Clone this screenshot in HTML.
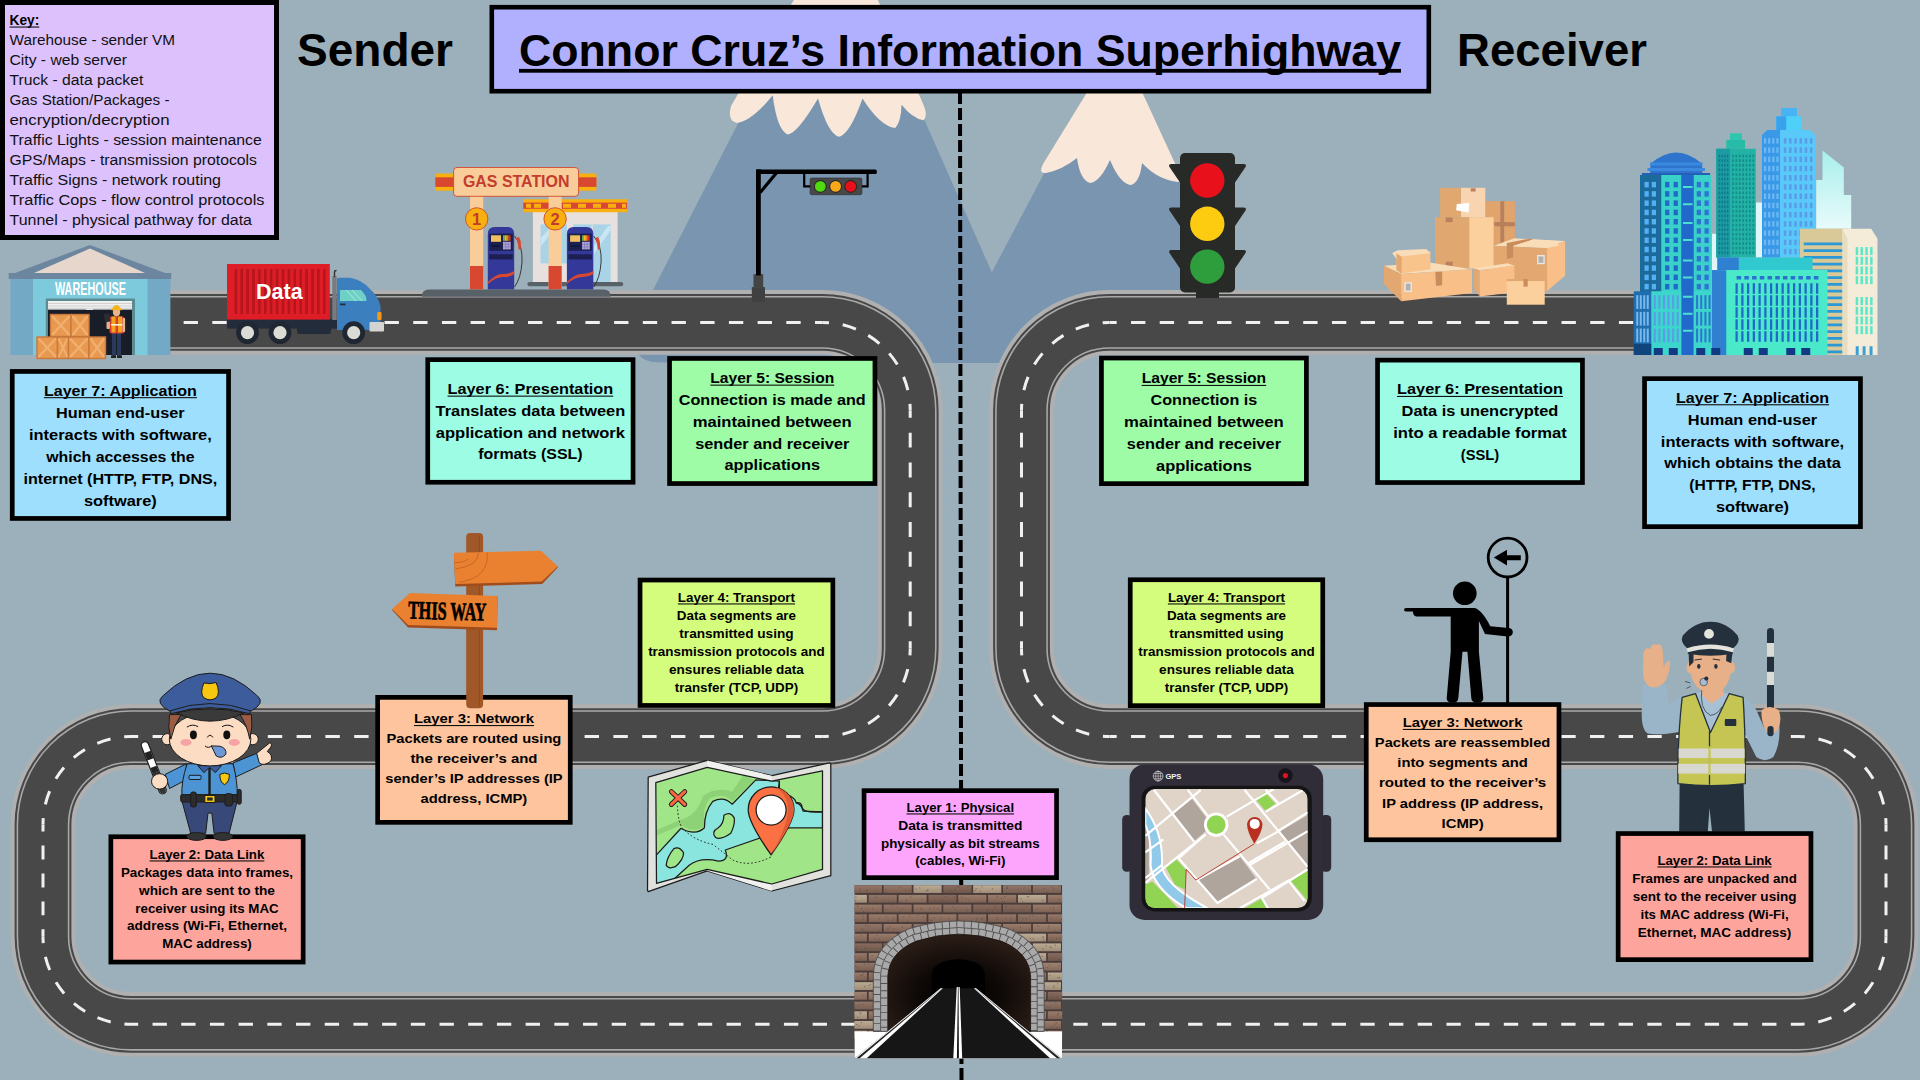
<!DOCTYPE html>
<html><head><meta charset="utf-8"><title>Information Superhighway</title>
<style>
html,body{margin:0;padding:0;background:#9bb0bb;}
body{width:1920px;height:1080px;overflow:hidden;position:relative;font-family:"Liberation Sans",sans-serif;}
svg{position:absolute;left:0;top:0;display:block}
text{font-family:"Liberation Sans",sans-serif;}
.b{font-weight:bold}
</style></head><body>
<svg width="1920" height="1080" viewBox="0 0 1920 1080">
<rect width="1920" height="1080" fill="#9bb0bb"/>
<!-- 10_mountains.frag -->
<g id="mountains">
<path d="M753,94 L801,-2 H870 L920,110 L1032,363 H680 L652,362 Q637,359 635,345 L652,292 Z" fill="#7995b0"/>
<path d="M960,340 L992,272 L1086,94 V60 H1143 V94 L1179,181 L1268,354 H960 Z" fill="#7995b0"/>
<!-- left snow -->
<path d="M795,-2 L731,106 Q727,121 737,123 Q752,121 772.7,95.3 Q777,130 787.5,134.4 Q797,134 818,98.4 Q828,134 839,136.7 Q850,134 862.5,98.4 Q880,126 895.3,128 Q901,122 901.6,104.7 Q912,118 923.4,120.3 Q928,116 924,106 L877,-2 Z" fill="#f9e7d9"/>
<!-- right snow -->
<path d="M1090,60 L1086,94 L1043,164 Q1038,174 1046,173 Q1062,170 1077,158 Q1080,180 1090,183 Q1100,182 1110,160 Q1120,184 1131,185 Q1140,182 1142,163 Q1158,180 1178,182 Q1184,180 1178,170 L1143,94 L1140,60 Z" fill="#f9e7d9"/>
</g>

<!-- 20_roads.frag -->
<g id="roads">
<path d="M170,322.4 H822.2 A88,88 0 0 1 910.2,410.4 V648.6 A88,88 0 0 1 822.2,736.6 H131 A88,88 0 0 0 43,824.6 V936.3 A88,88 0 0 0 131,1024.3 H870" fill="none" stroke="#b0b0b0" stroke-width="64.6"/>
<path d="M170,322.4 H822.2 A88,88 0 0 1 910.2,410.4 V648.6 A88,88 0 0 1 822.2,736.6 H131 A88,88 0 0 0 43,824.6 V936.3 A88,88 0 0 0 131,1024.3 H870" fill="none" stroke="#484848" stroke-width="56.8"/>
<path d="M170,322.4 H822.2 A88,88 0 0 1 910.2,410.4 V648.6 A88,88 0 0 1 822.2,736.6 H131 A88,88 0 0 0 43,824.6 V936.3 A88,88 0 0 0 131,1024.3 H870" fill="none" stroke="#a9a9a9" stroke-width="52.7"/>
<path d="M170,322.4 H822.2 A88,88 0 0 1 910.2,410.4 V648.6 A88,88 0 0 1 822.2,736.6 H131 A88,88 0 0 0 43,824.6 V936.3 A88,88 0 0 0 131,1024.3 H870" fill="none" stroke="#484848" stroke-width="49.6"/>
<path d="M1640,322.4 H1109.5 A88,88 0 0 0 1021.5,410.4 V648.6 A88,88 0 0 0 1109.5,736.6 H1798 A88,88 0 0 1 1886,824.6 V936.3 A88,88 0 0 1 1798,1024.3 H1050" fill="none" stroke="#b0b0b0" stroke-width="64.6"/>
<path d="M1640,322.4 H1109.5 A88,88 0 0 0 1021.5,410.4 V648.6 A88,88 0 0 0 1109.5,736.6 H1798 A88,88 0 0 1 1886,824.6 V936.3 A88,88 0 0 1 1798,1024.3 H1050" fill="none" stroke="#484848" stroke-width="56.8"/>
<path d="M1640,322.4 H1109.5 A88,88 0 0 0 1021.5,410.4 V648.6 A88,88 0 0 0 1109.5,736.6 H1798 A88,88 0 0 1 1886,824.6 V936.3 A88,88 0 0 1 1798,1024.3 H1050" fill="none" stroke="#a9a9a9" stroke-width="52.7"/>
<path d="M1640,322.4 H1109.5 A88,88 0 0 0 1021.5,410.4 V648.6 A88,88 0 0 0 1109.5,736.6 H1798 A88,88 0 0 1 1886,824.6 V936.3 A88,88 0 0 1 1798,1024.3 H1050" fill="none" stroke="#484848" stroke-width="49.6"/>
<path d="M822.2,322.4 L170.0,322.4" fill="none" stroke="#f0f0f0" stroke-width="3" stroke-dasharray="14.350 14.350" stroke-dashoffset="7.175"/>
<path d="M822.2,322.4 A88,88 0 0 1 910.2,410.4" fill="none" stroke="#f0f0f0" stroke-width="3" stroke-dasharray="13.823 13.823" stroke-dashoffset="6.912"/>
<path d="M910.2,410.4 L910.2,648.6" fill="none" stroke="#f0f0f0" stroke-width="3" stroke-dasharray="14.888 14.888" stroke-dashoffset="7.444"/>
<path d="M910.2,648.6 A88,88 0 0 1 822.2,736.6" fill="none" stroke="#f0f0f0" stroke-width="3" stroke-dasharray="13.823 13.823" stroke-dashoffset="6.912"/>
<path d="M822.2,736.6 L131.0,736.6" fill="none" stroke="#f0f0f0" stroke-width="3" stroke-dasharray="14.400 14.400" stroke-dashoffset="7.200"/>
<path d="M131.0,736.6 A88,88 0 0 0 43.0,824.6" fill="none" stroke="#f0f0f0" stroke-width="3" stroke-dasharray="13.823 13.823" stroke-dashoffset="6.912"/>
<path d="M43.0,824.6 L43.0,936.3" fill="none" stroke="#f0f0f0" stroke-width="3" stroke-dasharray="13.962 13.962" stroke-dashoffset="6.981"/>
<path d="M43.0,936.3 A88,88 0 0 0 131.0,1024.3" fill="none" stroke="#f0f0f0" stroke-width="3" stroke-dasharray="13.823 13.823" stroke-dashoffset="6.912"/>
<path d="M131.0,1024.3 L870.0,1024.3" fill="none" stroke="#f0f0f0" stroke-width="3" stroke-dasharray="14.350 14.350" stroke-dashoffset="7.175"/>
<path d="M1109.5,322.4 L1640.0,322.4" fill="none" stroke="#f0f0f0" stroke-width="3" stroke-dasharray="14.350 14.350" stroke-dashoffset="7.175"/>
<path d="M1109.5,322.4 A88,88 0 0 0 1021.5,410.4" fill="none" stroke="#f0f0f0" stroke-width="3" stroke-dasharray="13.823 13.823" stroke-dashoffset="6.912"/>
<path d="M1021.5,410.4 L1021.5,648.6" fill="none" stroke="#f0f0f0" stroke-width="3" stroke-dasharray="14.888 14.888" stroke-dashoffset="7.444"/>
<path d="M1021.5,648.6 A88,88 0 0 0 1109.5,736.6" fill="none" stroke="#f0f0f0" stroke-width="3" stroke-dasharray="13.823 13.823" stroke-dashoffset="6.912"/>
<path d="M1109.5,736.6 L1798.0,736.6" fill="none" stroke="#f0f0f0" stroke-width="3" stroke-dasharray="14.344 14.344" stroke-dashoffset="7.172"/>
<path d="M1798.0,736.6 A88,88 0 0 1 1886.0,824.6" fill="none" stroke="#f0f0f0" stroke-width="3" stroke-dasharray="13.823 13.823" stroke-dashoffset="6.912"/>
<path d="M1886.0,824.6 L1886.0,936.3" fill="none" stroke="#f0f0f0" stroke-width="3" stroke-dasharray="13.962 13.962" stroke-dashoffset="6.981"/>
<path d="M1886.0,936.3 A88,88 0 0 1 1798.0,1024.3" fill="none" stroke="#f0f0f0" stroke-width="3" stroke-dasharray="13.823 13.823" stroke-dashoffset="6.912"/>
<path d="M1798.0,1024.3 L1050.0,1024.3" fill="none" stroke="#f0f0f0" stroke-width="3" stroke-dasharray="14.350 14.350" stroke-dashoffset="7.175"/>
</g>
<line x1="960" y1="92" x2="961.5" y2="1084" stroke="#000" stroke-width="4" stroke-dasharray="12 4"/>

<!-- 30_warehouse_truck.frag -->
<g id="warehouse">
<!-- roof -->
<polygon points="90,245 165,273 15,273" fill="#6c86a0"/>
<polygon points="90,248.5 145,273 34,273" fill="#e6d6cc"/>
<rect x="8.7" y="273" width="162.5" height="6" fill="#6c86a0"/>
<!-- body -->
<rect x="10.4" y="279" width="160" height="76" fill="#74a9c5"/>
<rect x="33" y="279" width="114.5" height="76" fill="#7ccadc"/>
<!-- sign -->
<text x="90.5" y="295.4" font-size="17.5" font-weight="bold" fill="#fff" text-anchor="middle" textLength="71" lengthAdjust="spacingAndGlyphs">WAREHOUSE</text>
<!-- door -->
<rect x="45.8" y="298.5" width="89.2" height="56.5" fill="#5a8c90"/>
<rect x="48" y="301" width="84" height="54" fill="#191d27"/>
<rect x="48" y="301" width="84" height="8.6" fill="#f0f0f0"/>
<rect x="48" y="303" width="84" height="1" fill="#cfcfcf"/><rect x="48" y="305.5" width="84" height="1" fill="#cfcfcf"/><rect x="48" y="307.8" width="84" height="1" fill="#cfcfcf"/>
<rect x="86" y="308.6" width="7" height="1.4" fill="#e8e8e8"/>
<!-- crates -->
<g stroke="#c8783c" stroke-width="1.4" fill="#e9994f">
<rect x="50.5" y="314.5" width="20.5" height="22"/><path d="M52,316 L69.5,335 M69.5,316 L52,335" fill="none" stroke="#f0b070" stroke-width="2.2"/>
<rect x="71" y="314.5" width="18" height="22"/><path d="M72.5,316 L87.5,335 M87.5,316 L72.5,335" fill="none" stroke="#f0b070" stroke-width="2.2"/>
<rect x="37" y="337" width="20.5" height="21.5"/><path d="M38.5,338.5 L56,357 M56,338.5 L38.5,357" fill="none" stroke="#f0b070" stroke-width="2.2"/>
<rect x="57.5" y="337" width="11" height="21.5"/><path d="M58.5,338.5 L67.5,357 M67.5,338.5 L58.5,357" fill="none" stroke="#f0b070" stroke-width="2"/>
<rect x="68.5" y="337" width="20.5" height="21.5"/><path d="M70,338.5 L87.5,357 M87.5,338.5 L70,357" fill="none" stroke="#f0b070" stroke-width="2.2"/>
<rect x="89" y="337" width="16.5" height="21.5"/><path d="M90.5,338.5 L104,357 M104,338.5 L90.5,357" fill="none" stroke="#f0b070" stroke-width="2.2"/>
</g>
<!-- worker -->
<g>
<rect x="112" y="330" width="4" height="26" fill="#2a3a5c"/><rect x="117" y="330" width="4" height="26" fill="#2a3a5c"/>
<rect x="111" y="355.5" width="5" height="2.5" fill="#222"/><rect x="117" y="355.5" width="5" height="2.5" fill="#222"/>
<rect x="109.5" y="316.5" width="15" height="17" rx="2" fill="#d83c34"/>
<rect x="111.5" y="316.5" width="4" height="16" fill="#f4a41c"/><rect x="118" y="316.5" width="4" height="16" fill="#f4a41c"/>
<rect x="111" y="324" width="11.5" height="1.6" fill="#f4f0d0"/>
<rect x="122.5" y="318" width="2.6" height="14" rx="1" fill="#e8b48c"/>
<rect x="106.5" y="320" width="3.4" height="9" rx="1" fill="#e8b48c"/>
<rect x="104.5" y="313.5" width="5.5" height="8.5" rx="0.8" fill="#2c2c34" transform="rotate(-12 107 318)"/>
<ellipse cx="116.5" cy="312" rx="3.6" ry="4.4" fill="#e8b48c"/>
<path d="M111.5,309.5 Q116.5,300.5 121.5,309.5 Z" fill="#f4b41c"/><rect x="110.8" y="308.6" width="11.4" height="1.6" rx="0.8" fill="#f4b41c"/>
</g>
</g>
<g id="truck">
<!-- chassis -->
<rect x="227" y="319" width="110" height="9.6" fill="#232c3a"/>
<rect x="297" y="327" width="34" height="7" rx="2" fill="#232c3a"/>
<!-- container -->
<rect x="227" y="264" width="102.8" height="55.6" fill="#de1d26"/>
<g fill="#b5161d">
<rect x="234.5" y="269" width="2.6" height="45"/><rect x="240.4" y="269" width="2.6" height="45"/><rect x="246.3" y="269" width="2.6" height="45"/><rect x="252.2" y="269" width="2.6" height="45"/><rect x="258.1" y="269" width="2.6" height="45"/><rect x="264" y="269" width="2.6" height="45"/><rect x="269.9" y="269" width="2.6" height="45"/><rect x="275.8" y="269" width="2.6" height="45"/><rect x="281.7" y="269" width="2.6" height="45"/><rect x="287.6" y="269" width="2.6" height="45"/><rect x="293.5" y="269" width="2.6" height="45"/><rect x="299.4" y="269" width="2.6" height="45"/><rect x="305.3" y="269" width="2.6" height="45"/><rect x="311.2" y="269" width="2.6" height="45"/><rect x="317.1" y="269" width="2.6" height="45"/><rect x="323" y="269" width="2.6" height="45"/>
</g>
<text x="279.3" y="298.6" font-size="21.5" font-weight="bold" fill="#fff" text-anchor="middle">Data</text>
<!-- exhaust -->
<rect x="332.3" y="276" width="4.4" height="44" fill="#7a7a80"/><path d="M334.5,277 V272 Q334.5,270.5 336.5,270.5" stroke="#333" stroke-width="1.4" fill="none"/>
<!-- cab -->
<path d="M337,320 V279 Q337,277.7 339,277.7 H350 Q362,279.5 370,289 Q378,296 380.5,306 V323 Q380.5,330 373,330 H337 Z" fill="#3c7fbf"/>
<path d="M340,290 H361 Q367,296 366.5,301 H340 Z" fill="#6fd0c6"/>
<path d="M346,290 L356,301 M352,290 L362,301" stroke="#a8ece0" stroke-width="1" fill="none"/>
<rect x="340" y="303.5" width="5.5" height="1.8" fill="#1f2c44"/>
<rect x="377.3" y="312" width="4.2" height="8" rx="1" fill="#f39a1c"/>
<rect x="369.5" y="322" width="14.5" height="9.5" rx="1" fill="#d4d4d0"/>
<!-- wheels -->
<circle cx="247.5" cy="332.7" r="11.4" fill="#1f2733"/><circle cx="247.5" cy="332.7" r="6.6" fill="#dcdcd6"/>
<circle cx="280" cy="332.7" r="11.4" fill="#1f2733"/><circle cx="280" cy="332.7" r="6.6" fill="#dcdcd6"/>
<circle cx="353.7" cy="332.7" r="11.4" fill="#1f2733"/><circle cx="353.7" cy="332.7" r="6.6" fill="#dcdcd6"/>
</g>

<!-- 32_gas.frag -->
<g id="gas">
<!-- building -->
<rect x="532.9" y="212" width="84.7" height="70" fill="#e8e0dc"/>
<rect x="540.5" y="224.4" width="26.5" height="39" fill="#a9d4e8"/>
<path d="M541,238 L553,224.4 H558 L541,246 Z" fill="#c9e6f2"/>
<rect x="573.2" y="224.4" width="37.5" height="57.6" fill="#a9d4e8"/>
<rect x="591.5" y="224.4" width="1.2" height="57.6" fill="#e8e0dc"/>
<path d="M594,246 L608,226 H610.7 V230 L594,254 Z" fill="#c9e6f2"/>
<rect x="527.4" y="282" width="95.8" height="4.3" rx="2" fill="#586068"/>
<!-- roof stripe -->
<rect x="523.2" y="199.2" width="103.8" height="13" fill="#f8b010"/>
<rect x="523.2" y="202.6" width="103.8" height="6.2" fill="#d84830"/>
<g fill="#f8b010"><rect x="526" y="203.8" width="5" height="4"/><rect x="534" y="203.8" width="7" height="4"/><rect x="563" y="203.8" width="8" height="4"/><rect x="578" y="203.8" width="8" height="4"/><rect x="593" y="203.8" width="8" height="4"/><rect x="608" y="203.8" width="8" height="4"/><rect x="622" y="203.8" width="4" height="4"/></g>
<!-- side bars -->
<rect x="435.3" y="173.5" width="20" height="17.3" rx="1" fill="#f8b010"/><rect x="435.3" y="177.3" width="20" height="9.6" fill="#d84830"/>
<rect x="577" y="173.5" width="19.4" height="17.3" rx="1" fill="#f8b010"/><rect x="577" y="177.3" width="19.4" height="9.6" fill="#d84830"/>
<!-- pillars -->
<rect x="470" y="196" width="13.2" height="93.4" fill="#f8cd99"/><rect x="470" y="266" width="13.2" height="23.4" fill="#d84830"/>
<rect x="548.6" y="196" width="13.1" height="93.4" fill="#f8cd99"/><rect x="548.6" y="266" width="13.1" height="23.4" fill="#d84830"/>
<!-- sign -->
<rect x="453.6" y="167.5" width="125" height="28.8" rx="3.4" fill="#f8cd99" stroke="#d04830" stroke-width="0.9"/>
<text x="516.2" y="186.9" font-size="16" font-weight="bold" fill="#c43c2c" text-anchor="middle" textLength="106.5" lengthAdjust="spacingAndGlyphs">GAS STATION</text>
<!-- circles -->
<circle cx="476.7" cy="218.9" r="11.2" fill="#f8b010" stroke="#d04830" stroke-width="0.9"/>
<text x="476.7" y="224.8" font-size="16.5" font-weight="bold" fill="#c43c2c" text-anchor="middle">1</text>
<circle cx="555.1" cy="218.9" r="11.2" fill="#f8b010" stroke="#d04830" stroke-width="0.9"/>
<text x="555.1" y="224.8" font-size="16.5" font-weight="bold" fill="#c43c2c" text-anchor="middle">2</text>
<!-- pumps -->
<g>
<path d="M514.5,236 Q523,246 522,262 Q521,278 514.5,287" fill="none" stroke="#2a2a2a" stroke-width="0.9"/>
<path d="M516,238 L519,237 Q521,240 521,244 L520.6,249.5 L518.6,249.5 L518,244 Z" fill="#d84830"/>
<path d="M487.8,289.4 V234 Q487.8,227 494.8,227 H507.2 Q514.2,227 514.2,234 V289.4 Z" fill="#343899"/>
<rect x="489.2" y="233.5" width="23.6" height="17.3" fill="#1c2050"/>
<rect x="491" y="235.3" width="10" height="6.5" fill="#f0c060"/>
<rect x="491.5" y="245.5" width="9" height="1.2" fill="#0c1030"/>
<rect x="503" y="235.3" width="1.9" height="5.5" fill="#70b840"/><rect x="504.9" y="235.3" width="1.9" height="5.5" fill="#f0c020"/><rect x="506.8" y="235.3" width="1.9" height="5.5" fill="#f08020"/><rect x="508.7" y="235.3" width="1.9" height="5.5" fill="#d83020"/>
<rect x="503" y="241.8" width="7.7" height="7.6" fill="#b4a8d8"/>
<path d="M505.6,241.8 V249.4 M508.1,241.8 V249.4 M503,244.3 H510.7 M503,246.9 H510.7" stroke="#6a60a8" stroke-width="0.5"/>
<rect x="489.2" y="254.3" width="23.6" height="5.1" fill="#1c2050"/>
<path d="M487.8,282 Q497,273 503,274 Q509,274 514.2,271 V274 Q509,277.5 503,277 Q496,277 487.8,284 Z" fill="#d84830"/>
</g>
<g transform="translate(79.1,0)">
<path d="M514.5,236 Q523,246 522,262 Q521,278 514.5,287" fill="none" stroke="#2a2a2a" stroke-width="0.9"/>
<path d="M516,238 L519,237 Q521,240 521,244 L520.6,249.5 L518.6,249.5 L518,244 Z" fill="#d84830"/>
<path d="M487.8,289.4 V234 Q487.8,227 494.8,227 H507.2 Q514.2,227 514.2,234 V289.4 Z" fill="#343899"/>
<rect x="489.2" y="233.5" width="23.6" height="17.3" fill="#1c2050"/>
<rect x="491" y="235.3" width="10" height="6.5" fill="#f0c060"/>
<rect x="491.5" y="245.5" width="9" height="1.2" fill="#0c1030"/>
<rect x="503" y="235.3" width="1.9" height="5.5" fill="#70b840"/><rect x="504.9" y="235.3" width="1.9" height="5.5" fill="#f0c020"/><rect x="506.8" y="235.3" width="1.9" height="5.5" fill="#f08020"/><rect x="508.7" y="235.3" width="1.9" height="5.5" fill="#d83020"/>
<rect x="503" y="241.8" width="7.7" height="7.6" fill="#b4a8d8"/>
<path d="M505.6,241.8 V249.4 M508.1,241.8 V249.4 M503,244.3 H510.7 M503,246.9 H510.7" stroke="#6a60a8" stroke-width="0.5"/>
<rect x="489.2" y="254.3" width="23.6" height="5.1" fill="#1c2050"/>
<path d="M487.8,282 Q497,273 503,274 Q509,274 514.2,271 V274 Q509,277.5 503,277 Q496,277 487.8,284 Z" fill="#d84830"/>
</g>
<!-- platform -->
<path d="M421.8,296.7 Q421.8,289.4 429,289.4 H603.5 Q610.7,289.4 610.7,296.7 Z" fill="#586068"/>
</g>
<g id="tl-sender">
<rect x="751.8" y="287.1" width="13.2" height="14.6" fill="#404040"/>
<rect x="753.5" y="274.2" width="9.7" height="13" fill="#444"/>
<rect x="756" y="169.4" width="4.8" height="106" fill="#000"/>
<rect x="756" y="169.4" width="120.8" height="4.5" rx="1.5" fill="#000"/>
<path d="M760.1,192.6 L776.8,172.5" stroke="#000" stroke-width="3.2"/>
<path d="M804.2,173 V186.3 H811 M867.6,173 V186.3 H861" stroke="#000" stroke-width="2.2" fill="none"/>
<rect x="810.1" y="178" width="51.8" height="16.7" rx="1.6" fill="#484848" stroke="#2a2a2a" stroke-width="0.6"/>
<circle cx="820.3" cy="186.4" r="6.3" fill="#222"/><circle cx="820.3" cy="186.4" r="5.4" fill="#50d810"/>
<circle cx="835.6" cy="186.4" r="6.3" fill="#222"/><circle cx="835.6" cy="186.4" r="5.4" fill="#f8a818"/>
<circle cx="850.7" cy="186.4" r="6.3" fill="#222"/><circle cx="850.7" cy="186.4" r="5.4" fill="#e8101a"/>
</g>
<g id="tl-receiver">
<rect x="1196" y="290" width="23" height="8" fill="#282a28"/>
<g fill="#282a28">
<path d="M1181,164 H1171.5 Q1168,164 1169.5,167 L1181,184 Z"/><path d="M1181,207.5 H1171.5 Q1168,207.5 1169.5,210.5 L1181,227.5 Z"/><path d="M1181,250 H1171.5 Q1168,250 1169.5,253 L1181,270 Z"/>
<path d="M1234,164 H1243.5 Q1247,164 1245.5,167 L1234,184 Z"/><path d="M1234,207.5 H1243.5 Q1247,207.5 1245.5,210.5 L1234,227.5 Z"/><path d="M1234,250 H1243.5 Q1247,250 1245.5,253 L1234,270 Z"/>
</g>
<rect x="1180" y="153" width="55" height="139.5" rx="5" fill="#282a28"/>
<circle cx="1207.3" cy="180.5" r="17.2" fill="#e8101a"/>
<circle cx="1207.3" cy="223.8" r="17.2" fill="#fdcb10"/>
<circle cx="1207.3" cy="266.6" r="17.2" fill="#2e9e3c"/>
</g>

<!-- 34_packages.frag -->
<g id="packages">
<rect x="1486.0" y="201.2" width="28.9" height="43.8" fill="#e0a46c" />
<rect x="1500.3" y="201.2" width="3.9" height="43.8" fill="#b9805e" />
<rect x="1494.3" y="222.1" width="20.6" height="4.2" fill="#b9805e" />
<polygon points="1493.6,245.7 1514.4,238.3 1565.1,241.1 1547.1,248.1" fill="#f9dcb8"/>
<polygon points="1493.6,245.7 1547.1,248.1 1547.1,291.1 1493.6,281.1" fill="#e3a871"/>
<polygon points="1547.1,248.1 1565.1,241.1 1565.1,275.8 1547.1,291.1" fill="#f8c088"/>
<polygon points="1506.8,242.9 1529.0,238.8 1533.2,239.4 1513.1,246.1 1513.1,257.5 1506.8,258.9" fill="#c98c5c"/>
<polygon points="1513.1,246.1 1533.2,239.4 1556.1,241.1 1558.9,245.7 1547.1,248.1" fill="#f9dcb8"/>
<rect x="1537.1" y="255.0" width="7.6" height="9.2" fill="#e8e8e8" />
<rect x="1538.5" y="256.4" width="4.9" height="6.4" fill="#b0b0b0" />
<rect x="1440.1" y="187.8" width="20.8" height="29.4" fill="#e0a870" />
<rect x="1461.0" y="187.8" width="24.3" height="29.4" fill="#f8d4b0" />
<polygon points="1456.8,204.0 1469.3,203.1 1468.6,212.4 1456.1,210.3" fill="#fff"/>
<rect x="1470.7" y="188.3" width="4.9" height="3.2" fill="#b9805e" />
<rect x="1435.0" y="217.2" width="34.3" height="51.4" fill="#e0a870" />
<rect x="1469.3" y="217.2" width="24.3" height="51.4" fill="#fcd09c" />
<rect x="1445.7" y="217.5" width="6.9" height="4.6" fill="#b9805e" />
<rect x="1445.7" y="261.7" width="6.9" height="4.9" fill="#b9805e" />
<polygon points="1383.9,265.8 1431.1,262.8 1472.1,269.3 1401.2,273.9" fill="#f9dcb8"/>
<polygon points="1383.9,265.8 1401.2,273.9 1401.2,301.2 1383.9,283.9" fill="#e3a871"/>
<polygon points="1401.2,273.9 1472.1,269.3 1472.1,292.9 1401.2,301.2" fill="#f8c088"/>
<polygon points="1435.3,272.1 1442.2,271.7 1442.2,285.3 1436.0,286.0" fill="#c98c5c"/>
<rect x="1404.4" y="282.2" width="7.5" height="9.7" fill="#e8e8e8" />
<rect x="1405.8" y="283.6" width="4.7" height="6.9" fill="#b0b0b0" />
<polygon points="1396.4,253.3 1430.4,251.2 1430.4,269.3 1401.7,273.5 1396.4,270.0" fill="#f8c48c"/>
<polygon points="1392.2,253.1 1397.8,250.3 1426.2,248.9 1430.4,253.3 1401.2,256.4 1396.4,258.9" fill="#f9dcb8"/>
<polygon points="1396.4,253.3 1401.7,256.8 1401.7,273.5 1396.4,270.0" fill="#e3a871"/>
<polygon points="1473.5,268.6 1507.5,263.3 1514.4,265.8 1479.7,270.3" fill="#f9dcb8"/>
<polygon points="1473.5,268.6 1479.7,270.3 1479.7,296.4 1473.5,288.1" fill="#e3a871"/>
<polygon points="1479.7,270.3 1514.4,265.8 1514.4,292.2 1479.7,296.4" fill="#f8c088"/>
<rect x="1506.8" y="279.0" width="37.9" height="25.7" fill="#fcd09c" />
<rect x="1506.8" y="279.0" width="37.9" height="2.1" fill="#e3a871" />
<rect x="1523.5" y="279.0" width="4.2" height="7.6" fill="#c98c5c" />
</g>

<!-- 36_city.frag -->
<g id="city">
<defs><linearGradient id="ghost" x1="0" y1="0" x2="0" y2="1"><stop offset="0" stop-color="#a8efec"/><stop offset="1" stop-color="#e8fbfb"/></linearGradient></defs>
<polygon points="1822.5,150.5 1843.8,167.5 1843.8,195.0 1851.2,195.0 1851.2,228.8 1816.2,228.8 1816.2,180.0 1822.5,180.0" fill="url(#ghost)" />
<rect x="1712.00" y="233.75" width="5.00" height="36.25" fill="#dff5f8" />
<rect x="1755.75" y="202.50" width="6.75" height="55.00" fill="#dff5f8" />
<rect x="1730.00" y="133.25" width="12.00" height="8.00" fill="#2fc6b0" />
<rect x="1726.25" y="140.00" width="18.75" height="8.75" fill="#28bca8" />
<rect x="1716.25" y="148.75" width="39.50" height="108.75" fill="#23b3a4" />
<rect x="1716.25" y="148.75" width="13.75" height="108.75" fill="#1c9ca2" />
<g fill="#14788c"><rect x="1718.62" y="154.68" width="1.50" height="2.75"/><rect x="1718.62" y="159.28" width="1.50" height="2.75"/><rect x="1718.62" y="163.88" width="1.50" height="2.75"/><rect x="1718.62" y="168.48" width="1.50" height="2.75"/><rect x="1718.62" y="173.09" width="1.50" height="2.75"/><rect x="1718.62" y="177.69" width="1.50" height="2.75"/><rect x="1718.62" y="182.29" width="1.50" height="2.75"/><rect x="1718.62" y="186.89" width="1.50" height="2.75"/><rect x="1718.62" y="191.49" width="1.50" height="2.75"/><rect x="1718.62" y="196.10" width="1.50" height="2.75"/><rect x="1718.62" y="200.70" width="1.50" height="2.75"/><rect x="1718.62" y="205.30" width="1.50" height="2.75"/><rect x="1718.62" y="209.90" width="1.50" height="2.75"/><rect x="1718.62" y="214.51" width="1.50" height="2.75"/><rect x="1718.62" y="219.11" width="1.50" height="2.75"/><rect x="1718.62" y="223.71" width="1.50" height="2.75"/><rect x="1718.62" y="228.31" width="1.50" height="2.75"/><rect x="1718.62" y="232.91" width="1.50" height="2.75"/><rect x="1718.62" y="237.52" width="1.50" height="2.75"/><rect x="1718.62" y="242.12" width="1.50" height="2.75"/><rect x="1718.62" y="246.72" width="1.50" height="2.75"/><rect x="1718.62" y="251.32" width="1.50" height="2.75"/><rect x="1721.38" y="154.68" width="1.50" height="2.75"/><rect x="1721.38" y="159.28" width="1.50" height="2.75"/><rect x="1721.38" y="163.88" width="1.50" height="2.75"/><rect x="1721.38" y="168.48" width="1.50" height="2.75"/><rect x="1721.38" y="173.09" width="1.50" height="2.75"/><rect x="1721.38" y="177.69" width="1.50" height="2.75"/><rect x="1721.38" y="182.29" width="1.50" height="2.75"/><rect x="1721.38" y="186.89" width="1.50" height="2.75"/><rect x="1721.38" y="191.49" width="1.50" height="2.75"/><rect x="1721.38" y="196.10" width="1.50" height="2.75"/><rect x="1721.38" y="200.70" width="1.50" height="2.75"/><rect x="1721.38" y="205.30" width="1.50" height="2.75"/><rect x="1721.38" y="209.90" width="1.50" height="2.75"/><rect x="1721.38" y="214.51" width="1.50" height="2.75"/><rect x="1721.38" y="219.11" width="1.50" height="2.75"/><rect x="1721.38" y="223.71" width="1.50" height="2.75"/><rect x="1721.38" y="228.31" width="1.50" height="2.75"/><rect x="1721.38" y="232.91" width="1.50" height="2.75"/><rect x="1721.38" y="237.52" width="1.50" height="2.75"/><rect x="1721.38" y="242.12" width="1.50" height="2.75"/><rect x="1721.38" y="246.72" width="1.50" height="2.75"/><rect x="1721.38" y="251.32" width="1.50" height="2.75"/><rect x="1724.12" y="154.68" width="1.50" height="2.75"/><rect x="1724.12" y="159.28" width="1.50" height="2.75"/><rect x="1724.12" y="163.88" width="1.50" height="2.75"/><rect x="1724.12" y="168.48" width="1.50" height="2.75"/><rect x="1724.12" y="173.09" width="1.50" height="2.75"/><rect x="1724.12" y="177.69" width="1.50" height="2.75"/><rect x="1724.12" y="182.29" width="1.50" height="2.75"/><rect x="1724.12" y="186.89" width="1.50" height="2.75"/><rect x="1724.12" y="191.49" width="1.50" height="2.75"/><rect x="1724.12" y="196.10" width="1.50" height="2.75"/><rect x="1724.12" y="200.70" width="1.50" height="2.75"/><rect x="1724.12" y="205.30" width="1.50" height="2.75"/><rect x="1724.12" y="209.90" width="1.50" height="2.75"/><rect x="1724.12" y="214.51" width="1.50" height="2.75"/><rect x="1724.12" y="219.11" width="1.50" height="2.75"/><rect x="1724.12" y="223.71" width="1.50" height="2.75"/><rect x="1724.12" y="228.31" width="1.50" height="2.75"/><rect x="1724.12" y="232.91" width="1.50" height="2.75"/><rect x="1724.12" y="237.52" width="1.50" height="2.75"/><rect x="1724.12" y="242.12" width="1.50" height="2.75"/><rect x="1724.12" y="246.72" width="1.50" height="2.75"/><rect x="1724.12" y="251.32" width="1.50" height="2.75"/><rect x="1726.88" y="154.68" width="1.50" height="2.75"/><rect x="1726.88" y="159.28" width="1.50" height="2.75"/><rect x="1726.88" y="163.88" width="1.50" height="2.75"/><rect x="1726.88" y="168.48" width="1.50" height="2.75"/><rect x="1726.88" y="173.09" width="1.50" height="2.75"/><rect x="1726.88" y="177.69" width="1.50" height="2.75"/><rect x="1726.88" y="182.29" width="1.50" height="2.75"/><rect x="1726.88" y="186.89" width="1.50" height="2.75"/><rect x="1726.88" y="191.49" width="1.50" height="2.75"/><rect x="1726.88" y="196.10" width="1.50" height="2.75"/><rect x="1726.88" y="200.70" width="1.50" height="2.75"/><rect x="1726.88" y="205.30" width="1.50" height="2.75"/><rect x="1726.88" y="209.90" width="1.50" height="2.75"/><rect x="1726.88" y="214.51" width="1.50" height="2.75"/><rect x="1726.88" y="219.11" width="1.50" height="2.75"/><rect x="1726.88" y="223.71" width="1.50" height="2.75"/><rect x="1726.88" y="228.31" width="1.50" height="2.75"/><rect x="1726.88" y="232.91" width="1.50" height="2.75"/><rect x="1726.88" y="237.52" width="1.50" height="2.75"/><rect x="1726.88" y="242.12" width="1.50" height="2.75"/><rect x="1726.88" y="246.72" width="1.50" height="2.75"/><rect x="1726.88" y="251.32" width="1.50" height="2.75"/></g>
<g fill="#158c90"><rect x="1732.07" y="154.68" width="1.75" height="2.75"/><rect x="1732.07" y="159.28" width="1.75" height="2.75"/><rect x="1732.07" y="163.88" width="1.75" height="2.75"/><rect x="1732.07" y="168.48" width="1.75" height="2.75"/><rect x="1732.07" y="173.09" width="1.75" height="2.75"/><rect x="1732.07" y="177.69" width="1.75" height="2.75"/><rect x="1732.07" y="182.29" width="1.75" height="2.75"/><rect x="1732.07" y="186.89" width="1.75" height="2.75"/><rect x="1732.07" y="191.49" width="1.75" height="2.75"/><rect x="1732.07" y="196.10" width="1.75" height="2.75"/><rect x="1732.07" y="200.70" width="1.75" height="2.75"/><rect x="1732.07" y="205.30" width="1.75" height="2.75"/><rect x="1732.07" y="209.90" width="1.75" height="2.75"/><rect x="1732.07" y="214.51" width="1.75" height="2.75"/><rect x="1732.07" y="219.11" width="1.75" height="2.75"/><rect x="1732.07" y="223.71" width="1.75" height="2.75"/><rect x="1732.07" y="228.31" width="1.75" height="2.75"/><rect x="1732.07" y="232.91" width="1.75" height="2.75"/><rect x="1732.07" y="237.52" width="1.75" height="2.75"/><rect x="1732.07" y="242.12" width="1.75" height="2.75"/><rect x="1732.07" y="246.72" width="1.75" height="2.75"/><rect x="1732.07" y="251.32" width="1.75" height="2.75"/><rect x="1735.46" y="154.68" width="1.75" height="2.75"/><rect x="1735.46" y="159.28" width="1.75" height="2.75"/><rect x="1735.46" y="163.88" width="1.75" height="2.75"/><rect x="1735.46" y="168.48" width="1.75" height="2.75"/><rect x="1735.46" y="173.09" width="1.75" height="2.75"/><rect x="1735.46" y="177.69" width="1.75" height="2.75"/><rect x="1735.46" y="182.29" width="1.75" height="2.75"/><rect x="1735.46" y="186.89" width="1.75" height="2.75"/><rect x="1735.46" y="191.49" width="1.75" height="2.75"/><rect x="1735.46" y="196.10" width="1.75" height="2.75"/><rect x="1735.46" y="200.70" width="1.75" height="2.75"/><rect x="1735.46" y="205.30" width="1.75" height="2.75"/><rect x="1735.46" y="209.90" width="1.75" height="2.75"/><rect x="1735.46" y="214.51" width="1.75" height="2.75"/><rect x="1735.46" y="219.11" width="1.75" height="2.75"/><rect x="1735.46" y="223.71" width="1.75" height="2.75"/><rect x="1735.46" y="228.31" width="1.75" height="2.75"/><rect x="1735.46" y="232.91" width="1.75" height="2.75"/><rect x="1735.46" y="237.52" width="1.75" height="2.75"/><rect x="1735.46" y="242.12" width="1.75" height="2.75"/><rect x="1735.46" y="246.72" width="1.75" height="2.75"/><rect x="1735.46" y="251.32" width="1.75" height="2.75"/><rect x="1738.86" y="154.68" width="1.75" height="2.75"/><rect x="1738.86" y="159.28" width="1.75" height="2.75"/><rect x="1738.86" y="163.88" width="1.75" height="2.75"/><rect x="1738.86" y="168.48" width="1.75" height="2.75"/><rect x="1738.86" y="173.09" width="1.75" height="2.75"/><rect x="1738.86" y="177.69" width="1.75" height="2.75"/><rect x="1738.86" y="182.29" width="1.75" height="2.75"/><rect x="1738.86" y="186.89" width="1.75" height="2.75"/><rect x="1738.86" y="191.49" width="1.75" height="2.75"/><rect x="1738.86" y="196.10" width="1.75" height="2.75"/><rect x="1738.86" y="200.70" width="1.75" height="2.75"/><rect x="1738.86" y="205.30" width="1.75" height="2.75"/><rect x="1738.86" y="209.90" width="1.75" height="2.75"/><rect x="1738.86" y="214.51" width="1.75" height="2.75"/><rect x="1738.86" y="219.11" width="1.75" height="2.75"/><rect x="1738.86" y="223.71" width="1.75" height="2.75"/><rect x="1738.86" y="228.31" width="1.75" height="2.75"/><rect x="1738.86" y="232.91" width="1.75" height="2.75"/><rect x="1738.86" y="237.52" width="1.75" height="2.75"/><rect x="1738.86" y="242.12" width="1.75" height="2.75"/><rect x="1738.86" y="246.72" width="1.75" height="2.75"/><rect x="1738.86" y="251.32" width="1.75" height="2.75"/><rect x="1742.25" y="154.68" width="1.75" height="2.75"/><rect x="1742.25" y="159.28" width="1.75" height="2.75"/><rect x="1742.25" y="163.88" width="1.75" height="2.75"/><rect x="1742.25" y="168.48" width="1.75" height="2.75"/><rect x="1742.25" y="173.09" width="1.75" height="2.75"/><rect x="1742.25" y="177.69" width="1.75" height="2.75"/><rect x="1742.25" y="182.29" width="1.75" height="2.75"/><rect x="1742.25" y="186.89" width="1.75" height="2.75"/><rect x="1742.25" y="191.49" width="1.75" height="2.75"/><rect x="1742.25" y="196.10" width="1.75" height="2.75"/><rect x="1742.25" y="200.70" width="1.75" height="2.75"/><rect x="1742.25" y="205.30" width="1.75" height="2.75"/><rect x="1742.25" y="209.90" width="1.75" height="2.75"/><rect x="1742.25" y="214.51" width="1.75" height="2.75"/><rect x="1742.25" y="219.11" width="1.75" height="2.75"/><rect x="1742.25" y="223.71" width="1.75" height="2.75"/><rect x="1742.25" y="228.31" width="1.75" height="2.75"/><rect x="1742.25" y="232.91" width="1.75" height="2.75"/><rect x="1742.25" y="237.52" width="1.75" height="2.75"/><rect x="1742.25" y="242.12" width="1.75" height="2.75"/><rect x="1742.25" y="246.72" width="1.75" height="2.75"/><rect x="1742.25" y="251.32" width="1.75" height="2.75"/><rect x="1745.64" y="154.68" width="1.75" height="2.75"/><rect x="1745.64" y="159.28" width="1.75" height="2.75"/><rect x="1745.64" y="163.88" width="1.75" height="2.75"/><rect x="1745.64" y="168.48" width="1.75" height="2.75"/><rect x="1745.64" y="173.09" width="1.75" height="2.75"/><rect x="1745.64" y="177.69" width="1.75" height="2.75"/><rect x="1745.64" y="182.29" width="1.75" height="2.75"/><rect x="1745.64" y="186.89" width="1.75" height="2.75"/><rect x="1745.64" y="191.49" width="1.75" height="2.75"/><rect x="1745.64" y="196.10" width="1.75" height="2.75"/><rect x="1745.64" y="200.70" width="1.75" height="2.75"/><rect x="1745.64" y="205.30" width="1.75" height="2.75"/><rect x="1745.64" y="209.90" width="1.75" height="2.75"/><rect x="1745.64" y="214.51" width="1.75" height="2.75"/><rect x="1745.64" y="219.11" width="1.75" height="2.75"/><rect x="1745.64" y="223.71" width="1.75" height="2.75"/><rect x="1745.64" y="228.31" width="1.75" height="2.75"/><rect x="1745.64" y="232.91" width="1.75" height="2.75"/><rect x="1745.64" y="237.52" width="1.75" height="2.75"/><rect x="1745.64" y="242.12" width="1.75" height="2.75"/><rect x="1745.64" y="246.72" width="1.75" height="2.75"/><rect x="1745.64" y="251.32" width="1.75" height="2.75"/><rect x="1749.04" y="154.68" width="1.75" height="2.75"/><rect x="1749.04" y="159.28" width="1.75" height="2.75"/><rect x="1749.04" y="163.88" width="1.75" height="2.75"/><rect x="1749.04" y="168.48" width="1.75" height="2.75"/><rect x="1749.04" y="173.09" width="1.75" height="2.75"/><rect x="1749.04" y="177.69" width="1.75" height="2.75"/><rect x="1749.04" y="182.29" width="1.75" height="2.75"/><rect x="1749.04" y="186.89" width="1.75" height="2.75"/><rect x="1749.04" y="191.49" width="1.75" height="2.75"/><rect x="1749.04" y="196.10" width="1.75" height="2.75"/><rect x="1749.04" y="200.70" width="1.75" height="2.75"/><rect x="1749.04" y="205.30" width="1.75" height="2.75"/><rect x="1749.04" y="209.90" width="1.75" height="2.75"/><rect x="1749.04" y="214.51" width="1.75" height="2.75"/><rect x="1749.04" y="219.11" width="1.75" height="2.75"/><rect x="1749.04" y="223.71" width="1.75" height="2.75"/><rect x="1749.04" y="228.31" width="1.75" height="2.75"/><rect x="1749.04" y="232.91" width="1.75" height="2.75"/><rect x="1749.04" y="237.52" width="1.75" height="2.75"/><rect x="1749.04" y="242.12" width="1.75" height="2.75"/><rect x="1749.04" y="246.72" width="1.75" height="2.75"/><rect x="1749.04" y="251.32" width="1.75" height="2.75"/><rect x="1752.43" y="154.68" width="1.75" height="2.75"/><rect x="1752.43" y="159.28" width="1.75" height="2.75"/><rect x="1752.43" y="163.88" width="1.75" height="2.75"/><rect x="1752.43" y="168.48" width="1.75" height="2.75"/><rect x="1752.43" y="173.09" width="1.75" height="2.75"/><rect x="1752.43" y="177.69" width="1.75" height="2.75"/><rect x="1752.43" y="182.29" width="1.75" height="2.75"/><rect x="1752.43" y="186.89" width="1.75" height="2.75"/><rect x="1752.43" y="191.49" width="1.75" height="2.75"/><rect x="1752.43" y="196.10" width="1.75" height="2.75"/><rect x="1752.43" y="200.70" width="1.75" height="2.75"/><rect x="1752.43" y="205.30" width="1.75" height="2.75"/><rect x="1752.43" y="209.90" width="1.75" height="2.75"/><rect x="1752.43" y="214.51" width="1.75" height="2.75"/><rect x="1752.43" y="219.11" width="1.75" height="2.75"/><rect x="1752.43" y="223.71" width="1.75" height="2.75"/><rect x="1752.43" y="228.31" width="1.75" height="2.75"/><rect x="1752.43" y="232.91" width="1.75" height="2.75"/><rect x="1752.43" y="237.52" width="1.75" height="2.75"/><rect x="1752.43" y="242.12" width="1.75" height="2.75"/><rect x="1752.43" y="246.72" width="1.75" height="2.75"/><rect x="1752.43" y="251.32" width="1.75" height="2.75"/></g>
<rect x="1781.25" y="108.00" width="15.75" height="9.00" fill="#46b4f4" />
<rect x="1776.25" y="116.25" width="25.00" height="13.75" fill="#4fd0f8" />
<rect x="1776.25" y="116.25" width="10.00" height="13.75" fill="#3aa2ec" />
<polygon points="1762.0,135.0 1767.5,130.0 1810.0,130.0 1815.0,135.0 1815.0,257.5 1762.0,257.5" fill="#59c9f9" />
<polygon points="1762.0,135.0 1767.5,130.0 1780.0,130.0 1780.0,257.5 1762.0,257.5" fill="#3a98e8" />
<g fill="#6cb8f4"><rect x="1763.94" y="138.12" width="2.25" height="5.50"/><rect x="1763.94" y="147.35" width="2.25" height="5.50"/><rect x="1763.94" y="156.58" width="2.25" height="5.50"/><rect x="1763.94" y="165.81" width="2.25" height="5.50"/><rect x="1763.94" y="175.04" width="2.25" height="5.50"/><rect x="1763.94" y="184.27" width="2.25" height="5.50"/><rect x="1763.94" y="193.50" width="2.25" height="5.50"/><rect x="1763.94" y="202.73" width="2.25" height="5.50"/><rect x="1763.94" y="211.96" width="2.25" height="5.50"/><rect x="1763.94" y="221.19" width="2.25" height="5.50"/><rect x="1763.94" y="230.42" width="2.25" height="5.50"/><rect x="1763.94" y="239.65" width="2.25" height="5.50"/><rect x="1763.94" y="248.88" width="2.25" height="5.50"/><rect x="1768.06" y="138.12" width="2.25" height="5.50"/><rect x="1768.06" y="147.35" width="2.25" height="5.50"/><rect x="1768.06" y="156.58" width="2.25" height="5.50"/><rect x="1768.06" y="165.81" width="2.25" height="5.50"/><rect x="1768.06" y="175.04" width="2.25" height="5.50"/><rect x="1768.06" y="184.27" width="2.25" height="5.50"/><rect x="1768.06" y="193.50" width="2.25" height="5.50"/><rect x="1768.06" y="202.73" width="2.25" height="5.50"/><rect x="1768.06" y="211.96" width="2.25" height="5.50"/><rect x="1768.06" y="221.19" width="2.25" height="5.50"/><rect x="1768.06" y="230.42" width="2.25" height="5.50"/><rect x="1768.06" y="239.65" width="2.25" height="5.50"/><rect x="1768.06" y="248.88" width="2.25" height="5.50"/><rect x="1772.19" y="138.12" width="2.25" height="5.50"/><rect x="1772.19" y="147.35" width="2.25" height="5.50"/><rect x="1772.19" y="156.58" width="2.25" height="5.50"/><rect x="1772.19" y="165.81" width="2.25" height="5.50"/><rect x="1772.19" y="175.04" width="2.25" height="5.50"/><rect x="1772.19" y="184.27" width="2.25" height="5.50"/><rect x="1772.19" y="193.50" width="2.25" height="5.50"/><rect x="1772.19" y="202.73" width="2.25" height="5.50"/><rect x="1772.19" y="211.96" width="2.25" height="5.50"/><rect x="1772.19" y="221.19" width="2.25" height="5.50"/><rect x="1772.19" y="230.42" width="2.25" height="5.50"/><rect x="1772.19" y="239.65" width="2.25" height="5.50"/><rect x="1772.19" y="248.88" width="2.25" height="5.50"/><rect x="1776.31" y="138.12" width="2.25" height="5.50"/><rect x="1776.31" y="147.35" width="2.25" height="5.50"/><rect x="1776.31" y="156.58" width="2.25" height="5.50"/><rect x="1776.31" y="165.81" width="2.25" height="5.50"/><rect x="1776.31" y="175.04" width="2.25" height="5.50"/><rect x="1776.31" y="184.27" width="2.25" height="5.50"/><rect x="1776.31" y="193.50" width="2.25" height="5.50"/><rect x="1776.31" y="202.73" width="2.25" height="5.50"/><rect x="1776.31" y="211.96" width="2.25" height="5.50"/><rect x="1776.31" y="221.19" width="2.25" height="5.50"/><rect x="1776.31" y="230.42" width="2.25" height="5.50"/><rect x="1776.31" y="239.65" width="2.25" height="5.50"/><rect x="1776.31" y="248.88" width="2.25" height="5.50"/></g>
<g fill="#5a9ce8"><rect x="1783.85" y="138.12" width="2.50" height="5.50"/><rect x="1783.85" y="147.35" width="2.50" height="5.50"/><rect x="1783.85" y="156.58" width="2.50" height="5.50"/><rect x="1783.85" y="165.81" width="2.50" height="5.50"/><rect x="1783.85" y="175.04" width="2.50" height="5.50"/><rect x="1783.85" y="184.27" width="2.50" height="5.50"/><rect x="1783.85" y="193.50" width="2.50" height="5.50"/><rect x="1783.85" y="202.73" width="2.50" height="5.50"/><rect x="1783.85" y="211.96" width="2.50" height="5.50"/><rect x="1783.85" y="221.19" width="2.50" height="5.50"/><rect x="1783.85" y="230.42" width="2.50" height="5.50"/><rect x="1783.85" y="239.65" width="2.50" height="5.50"/><rect x="1783.85" y="248.88" width="2.50" height="5.50"/><rect x="1789.06" y="138.12" width="2.50" height="5.50"/><rect x="1789.06" y="147.35" width="2.50" height="5.50"/><rect x="1789.06" y="156.58" width="2.50" height="5.50"/><rect x="1789.06" y="165.81" width="2.50" height="5.50"/><rect x="1789.06" y="175.04" width="2.50" height="5.50"/><rect x="1789.06" y="184.27" width="2.50" height="5.50"/><rect x="1789.06" y="193.50" width="2.50" height="5.50"/><rect x="1789.06" y="202.73" width="2.50" height="5.50"/><rect x="1789.06" y="211.96" width="2.50" height="5.50"/><rect x="1789.06" y="221.19" width="2.50" height="5.50"/><rect x="1789.06" y="230.42" width="2.50" height="5.50"/><rect x="1789.06" y="239.65" width="2.50" height="5.50"/><rect x="1789.06" y="248.88" width="2.50" height="5.50"/><rect x="1794.27" y="138.12" width="2.50" height="5.50"/><rect x="1794.27" y="147.35" width="2.50" height="5.50"/><rect x="1794.27" y="156.58" width="2.50" height="5.50"/><rect x="1794.27" y="165.81" width="2.50" height="5.50"/><rect x="1794.27" y="175.04" width="2.50" height="5.50"/><rect x="1794.27" y="184.27" width="2.50" height="5.50"/><rect x="1794.27" y="193.50" width="2.50" height="5.50"/><rect x="1794.27" y="202.73" width="2.50" height="5.50"/><rect x="1794.27" y="211.96" width="2.50" height="5.50"/><rect x="1794.27" y="221.19" width="2.50" height="5.50"/><rect x="1794.27" y="230.42" width="2.50" height="5.50"/><rect x="1794.27" y="239.65" width="2.50" height="5.50"/><rect x="1794.27" y="248.88" width="2.50" height="5.50"/><rect x="1799.48" y="138.12" width="2.50" height="5.50"/><rect x="1799.48" y="147.35" width="2.50" height="5.50"/><rect x="1799.48" y="156.58" width="2.50" height="5.50"/><rect x="1799.48" y="165.81" width="2.50" height="5.50"/><rect x="1799.48" y="175.04" width="2.50" height="5.50"/><rect x="1799.48" y="184.27" width="2.50" height="5.50"/><rect x="1799.48" y="193.50" width="2.50" height="5.50"/><rect x="1799.48" y="202.73" width="2.50" height="5.50"/><rect x="1799.48" y="211.96" width="2.50" height="5.50"/><rect x="1799.48" y="221.19" width="2.50" height="5.50"/><rect x="1799.48" y="230.42" width="2.50" height="5.50"/><rect x="1799.48" y="239.65" width="2.50" height="5.50"/><rect x="1799.48" y="248.88" width="2.50" height="5.50"/><rect x="1804.69" y="138.12" width="2.50" height="5.50"/><rect x="1804.69" y="147.35" width="2.50" height="5.50"/><rect x="1804.69" y="156.58" width="2.50" height="5.50"/><rect x="1804.69" y="165.81" width="2.50" height="5.50"/><rect x="1804.69" y="175.04" width="2.50" height="5.50"/><rect x="1804.69" y="184.27" width="2.50" height="5.50"/><rect x="1804.69" y="193.50" width="2.50" height="5.50"/><rect x="1804.69" y="202.73" width="2.50" height="5.50"/><rect x="1804.69" y="211.96" width="2.50" height="5.50"/><rect x="1804.69" y="221.19" width="2.50" height="5.50"/><rect x="1804.69" y="230.42" width="2.50" height="5.50"/><rect x="1804.69" y="239.65" width="2.50" height="5.50"/><rect x="1804.69" y="248.88" width="2.50" height="5.50"/><rect x="1809.90" y="138.12" width="2.50" height="5.50"/><rect x="1809.90" y="147.35" width="2.50" height="5.50"/><rect x="1809.90" y="156.58" width="2.50" height="5.50"/><rect x="1809.90" y="165.81" width="2.50" height="5.50"/><rect x="1809.90" y="175.04" width="2.50" height="5.50"/><rect x="1809.90" y="184.27" width="2.50" height="5.50"/><rect x="1809.90" y="193.50" width="2.50" height="5.50"/><rect x="1809.90" y="202.73" width="2.50" height="5.50"/><rect x="1809.90" y="211.96" width="2.50" height="5.50"/><rect x="1809.90" y="221.19" width="2.50" height="5.50"/><rect x="1809.90" y="230.42" width="2.50" height="5.50"/><rect x="1809.90" y="239.65" width="2.50" height="5.50"/><rect x="1809.90" y="248.88" width="2.50" height="5.50"/></g>
<rect x="1800.00" y="228.75" width="47.50" height="126.25" fill="#d9c999" />
<rect x="1803.75" y="242.50" width="40.00" height="2.75" fill="#2b98d8" />
<rect x="1803.75" y="249.25" width="40.00" height="2.75" fill="#2b98d8" />
<rect x="1803.75" y="256.00" width="40.00" height="2.75" fill="#2b98d8" />
<rect x="1803.75" y="262.75" width="40.00" height="2.75" fill="#2b98d8" />
<rect x="1803.75" y="269.50" width="40.00" height="2.75" fill="#2b98d8" />
<rect x="1803.75" y="276.25" width="40.00" height="2.75" fill="#2b98d8" />
<rect x="1803.75" y="283.00" width="40.00" height="2.75" fill="#2b98d8" />
<rect x="1803.75" y="289.75" width="40.00" height="2.75" fill="#2b98d8" />
<rect x="1803.75" y="296.50" width="40.00" height="2.75" fill="#2b98d8" />
<rect x="1803.75" y="303.25" width="40.00" height="2.75" fill="#2b98d8" />
<rect x="1803.75" y="310.00" width="40.00" height="2.75" fill="#2b98d8" />
<rect x="1803.75" y="316.75" width="40.00" height="2.75" fill="#2b98d8" />
<rect x="1803.75" y="323.50" width="40.00" height="2.75" fill="#2b98d8" />
<rect x="1803.75" y="330.25" width="40.00" height="2.75" fill="#2b98d8" />
<rect x="1803.75" y="337.00" width="40.00" height="2.75" fill="#2b98d8" />
<rect x="1803.75" y="343.75" width="40.00" height="2.75" fill="#2b98d8" />
<rect x="1803.75" y="350.50" width="40.00" height="2.75" fill="#2b98d8" />
<polygon points="1842.5,228.8 1871.2,228.8 1877.5,238.8 1877.5,355.0 1842.5,355.0" fill="#f4ecd8" />
<polygon points="1842.5,228.8 1847.5,238.8 1847.5,355.0 1842.5,355.0" fill="#e6dcc0" />
<g fill="#5ce8c8"><rect x="1855.66" y="247.09" width="2.50" height="8.00"/><rect x="1855.66" y="256.78" width="2.50" height="8.00"/><rect x="1855.66" y="266.47" width="2.50" height="8.00"/><rect x="1855.66" y="276.16" width="2.50" height="8.00"/><rect x="1860.47" y="247.09" width="2.50" height="8.00"/><rect x="1860.47" y="256.78" width="2.50" height="8.00"/><rect x="1860.47" y="266.47" width="2.50" height="8.00"/><rect x="1860.47" y="276.16" width="2.50" height="8.00"/><rect x="1865.28" y="247.09" width="2.50" height="8.00"/><rect x="1865.28" y="256.78" width="2.50" height="8.00"/><rect x="1865.28" y="266.47" width="2.50" height="8.00"/><rect x="1865.28" y="276.16" width="2.50" height="8.00"/><rect x="1870.09" y="247.09" width="2.50" height="8.00"/><rect x="1870.09" y="256.78" width="2.50" height="8.00"/><rect x="1870.09" y="266.47" width="2.50" height="8.00"/><rect x="1870.09" y="276.16" width="2.50" height="8.00"/></g>
<g fill="#5ce8c8"><rect x="1855.66" y="297.09" width="2.50" height="8.00"/><rect x="1855.66" y="306.78" width="2.50" height="8.00"/><rect x="1855.66" y="316.47" width="2.50" height="8.00"/><rect x="1855.66" y="326.16" width="2.50" height="8.00"/><rect x="1860.47" y="297.09" width="2.50" height="8.00"/><rect x="1860.47" y="306.78" width="2.50" height="8.00"/><rect x="1860.47" y="316.47" width="2.50" height="8.00"/><rect x="1860.47" y="326.16" width="2.50" height="8.00"/><rect x="1865.28" y="297.09" width="2.50" height="8.00"/><rect x="1865.28" y="306.78" width="2.50" height="8.00"/><rect x="1865.28" y="316.47" width="2.50" height="8.00"/><rect x="1865.28" y="326.16" width="2.50" height="8.00"/><rect x="1870.09" y="297.09" width="2.50" height="8.00"/><rect x="1870.09" y="306.78" width="2.50" height="8.00"/><rect x="1870.09" y="316.47" width="2.50" height="8.00"/><rect x="1870.09" y="326.16" width="2.50" height="8.00"/></g>
<g fill="#3aa0d8"><rect x="1855.71" y="346.25" width="3.00" height="8.75"/><rect x="1862.62" y="346.25" width="3.00" height="8.75"/><rect x="1869.54" y="346.25" width="3.00" height="8.75"/></g>
<path d="M1650.0,175.0 L1650.5,163.8 Q1676.2,141.2 1702.0,163.8 L1702.5,175.0 Z" fill="#2f74cc"/>
<rect x="1650.00" y="162.50" width="52.50" height="3.00" fill="#3b8ae0" />
<rect x="1647.50" y="168.00" width="57.50" height="3.00" fill="#3b8ae0" />
<rect x="1642.00" y="173.00" width="68.00" height="3.25" fill="#2560b8" />
<rect x="1640.00" y="175.00" width="71.25" height="180.00" fill="#39d1c9" />
<rect x="1640.00" y="175.00" width="21.25" height="180.00" fill="#1b6a9c" />
<rect x="1681.25" y="175.00" width="12.50" height="180.00" fill="#2068c9" />
<g fill="#55b0f0"><rect x="1644.50" y="181.89" width="4.25" height="5.50"/><rect x="1644.50" y="191.16" width="4.25" height="5.50"/><rect x="1644.50" y="200.43" width="4.25" height="5.50"/><rect x="1644.50" y="209.70" width="4.25" height="5.50"/><rect x="1644.50" y="218.97" width="4.25" height="5.50"/><rect x="1644.50" y="228.24" width="4.25" height="5.50"/><rect x="1644.50" y="237.51" width="4.25" height="5.50"/><rect x="1644.50" y="246.78" width="4.25" height="5.50"/><rect x="1644.50" y="256.05" width="4.25" height="5.50"/><rect x="1644.50" y="265.32" width="4.25" height="5.50"/><rect x="1644.50" y="274.59" width="4.25" height="5.50"/><rect x="1644.50" y="283.86" width="4.25" height="5.50"/><rect x="1651.75" y="181.89" width="4.25" height="5.50"/><rect x="1651.75" y="191.16" width="4.25" height="5.50"/><rect x="1651.75" y="200.43" width="4.25" height="5.50"/><rect x="1651.75" y="209.70" width="4.25" height="5.50"/><rect x="1651.75" y="218.97" width="4.25" height="5.50"/><rect x="1651.75" y="228.24" width="4.25" height="5.50"/><rect x="1651.75" y="237.51" width="4.25" height="5.50"/><rect x="1651.75" y="246.78" width="4.25" height="5.50"/><rect x="1651.75" y="256.05" width="4.25" height="5.50"/><rect x="1651.75" y="265.32" width="4.25" height="5.50"/><rect x="1651.75" y="274.59" width="4.25" height="5.50"/><rect x="1651.75" y="283.86" width="4.25" height="5.50"/></g>
<g fill="#2068c9"><rect x="1665.12" y="181.89" width="4.25" height="5.50"/><rect x="1665.12" y="191.16" width="4.25" height="5.50"/><rect x="1665.12" y="200.43" width="4.25" height="5.50"/><rect x="1665.12" y="209.70" width="4.25" height="5.50"/><rect x="1665.12" y="218.97" width="4.25" height="5.50"/><rect x="1665.12" y="228.24" width="4.25" height="5.50"/><rect x="1665.12" y="237.51" width="4.25" height="5.50"/><rect x="1665.12" y="246.78" width="4.25" height="5.50"/><rect x="1665.12" y="256.05" width="4.25" height="5.50"/><rect x="1665.12" y="265.32" width="4.25" height="5.50"/><rect x="1665.12" y="274.59" width="4.25" height="5.50"/><rect x="1665.12" y="283.86" width="4.25" height="5.50"/><rect x="1673.62" y="181.89" width="4.25" height="5.50"/><rect x="1673.62" y="191.16" width="4.25" height="5.50"/><rect x="1673.62" y="200.43" width="4.25" height="5.50"/><rect x="1673.62" y="209.70" width="4.25" height="5.50"/><rect x="1673.62" y="218.97" width="4.25" height="5.50"/><rect x="1673.62" y="228.24" width="4.25" height="5.50"/><rect x="1673.62" y="237.51" width="4.25" height="5.50"/><rect x="1673.62" y="246.78" width="4.25" height="5.50"/><rect x="1673.62" y="256.05" width="4.25" height="5.50"/><rect x="1673.62" y="265.32" width="4.25" height="5.50"/><rect x="1673.62" y="274.59" width="4.25" height="5.50"/><rect x="1673.62" y="283.86" width="4.25" height="5.50"/></g>
<g fill="#2e74d0"><rect x="1696.75" y="181.89" width="4.25" height="5.50"/><rect x="1696.75" y="191.16" width="4.25" height="5.50"/><rect x="1696.75" y="200.43" width="4.25" height="5.50"/><rect x="1696.75" y="209.70" width="4.25" height="5.50"/><rect x="1696.75" y="218.97" width="4.25" height="5.50"/><rect x="1696.75" y="228.24" width="4.25" height="5.50"/><rect x="1696.75" y="237.51" width="4.25" height="5.50"/><rect x="1696.75" y="246.78" width="4.25" height="5.50"/><rect x="1696.75" y="256.05" width="4.25" height="5.50"/><rect x="1696.75" y="265.32" width="4.25" height="5.50"/><rect x="1696.75" y="274.59" width="4.25" height="5.50"/><rect x="1696.75" y="283.86" width="4.25" height="5.50"/><rect x="1704.50" y="181.89" width="4.25" height="5.50"/><rect x="1704.50" y="191.16" width="4.25" height="5.50"/><rect x="1704.50" y="200.43" width="4.25" height="5.50"/><rect x="1704.50" y="209.70" width="4.25" height="5.50"/><rect x="1704.50" y="218.97" width="4.25" height="5.50"/><rect x="1704.50" y="228.24" width="4.25" height="5.50"/><rect x="1704.50" y="237.51" width="4.25" height="5.50"/><rect x="1704.50" y="246.78" width="4.25" height="5.50"/><rect x="1704.50" y="256.05" width="4.25" height="5.50"/><rect x="1704.50" y="265.32" width="4.25" height="5.50"/><rect x="1704.50" y="274.59" width="4.25" height="5.50"/><rect x="1704.50" y="283.86" width="4.25" height="5.50"/></g>
<rect x="1683.00" y="186.00" width="9.50" height="2.00" fill="#4ce0d0" />
<rect x="1683.00" y="203.25" width="9.50" height="2.00" fill="#4ce0d0" />
<rect x="1683.00" y="222.00" width="9.50" height="2.00" fill="#4ce0d0" />
<rect x="1683.00" y="239.00" width="9.50" height="2.00" fill="#4ce0d0" />
<rect x="1683.00" y="259.50" width="9.50" height="2.00" fill="#4ce0d0" />
<rect x="1683.00" y="276.50" width="9.50" height="2.00" fill="#4ce0d0" />
<rect x="1683.00" y="295.75" width="9.50" height="2.00" fill="#4ce0d0" />
<rect x="1683.00" y="312.75" width="9.50" height="2.00" fill="#4ce0d0" />
<rect x="1683.00" y="329.75" width="9.50" height="2.00" fill="#4ce0d0" />
<rect x="1633.75" y="291.25" width="17.50" height="63.75" fill="#1f6fb0" />
<rect x="1651.25" y="291.25" width="30.00" height="63.75" fill="#3dd6cc" />
<rect x="1693.75" y="291.25" width="27.50" height="63.75" fill="#3dd6cc" />
<g fill="#7ab8ee"><rect x="1636.25" y="295.21" width="2.00" height="13.75"/><rect x="1636.25" y="311.88" width="2.00" height="13.75"/><rect x="1636.25" y="328.54" width="2.00" height="13.75"/><rect x="1639.75" y="295.21" width="2.00" height="13.75"/><rect x="1639.75" y="311.88" width="2.00" height="13.75"/><rect x="1639.75" y="328.54" width="2.00" height="13.75"/><rect x="1643.25" y="295.21" width="2.00" height="13.75"/><rect x="1643.25" y="311.88" width="2.00" height="13.75"/><rect x="1643.25" y="328.54" width="2.00" height="13.75"/><rect x="1646.75" y="295.21" width="2.00" height="13.75"/><rect x="1646.75" y="311.88" width="2.00" height="13.75"/><rect x="1646.75" y="328.54" width="2.00" height="13.75"/></g>
<g fill="#5a9ce8"><rect x="1653.79" y="295.21" width="2.00" height="13.75"/><rect x="1653.79" y="311.88" width="2.00" height="13.75"/><rect x="1653.79" y="328.54" width="2.00" height="13.75"/><rect x="1658.38" y="295.21" width="2.00" height="13.75"/><rect x="1658.38" y="311.88" width="2.00" height="13.75"/><rect x="1658.38" y="328.54" width="2.00" height="13.75"/><rect x="1662.96" y="295.21" width="2.00" height="13.75"/><rect x="1662.96" y="311.88" width="2.00" height="13.75"/><rect x="1662.96" y="328.54" width="2.00" height="13.75"/><rect x="1667.54" y="295.21" width="2.00" height="13.75"/><rect x="1667.54" y="311.88" width="2.00" height="13.75"/><rect x="1667.54" y="328.54" width="2.00" height="13.75"/><rect x="1672.12" y="295.21" width="2.00" height="13.75"/><rect x="1672.12" y="311.88" width="2.00" height="13.75"/><rect x="1672.12" y="328.54" width="2.00" height="13.75"/><rect x="1676.71" y="295.21" width="2.00" height="13.75"/><rect x="1676.71" y="311.88" width="2.00" height="13.75"/><rect x="1676.71" y="328.54" width="2.00" height="13.75"/></g>
<g fill="#2e74d0"><rect x="1696.08" y="295.21" width="2.00" height="13.75"/><rect x="1696.08" y="311.88" width="2.00" height="13.75"/><rect x="1696.08" y="328.54" width="2.00" height="13.75"/><rect x="1700.25" y="295.21" width="2.00" height="13.75"/><rect x="1700.25" y="311.88" width="2.00" height="13.75"/><rect x="1700.25" y="328.54" width="2.00" height="13.75"/><rect x="1704.42" y="295.21" width="2.00" height="13.75"/><rect x="1704.42" y="311.88" width="2.00" height="13.75"/><rect x="1704.42" y="328.54" width="2.00" height="13.75"/><rect x="1708.58" y="295.21" width="2.00" height="13.75"/><rect x="1708.58" y="311.88" width="2.00" height="13.75"/><rect x="1708.58" y="328.54" width="2.00" height="13.75"/><rect x="1712.75" y="295.21" width="2.00" height="13.75"/><rect x="1712.75" y="311.88" width="2.00" height="13.75"/><rect x="1712.75" y="328.54" width="2.00" height="13.75"/><rect x="1716.92" y="295.21" width="2.00" height="13.75"/><rect x="1716.92" y="311.88" width="2.00" height="13.75"/><rect x="1716.92" y="328.54" width="2.00" height="13.75"/></g>
<rect x="1633.75" y="343.75" width="17.50" height="11.25" fill="#0f447c" />
<rect x="1712.00" y="270.00" width="15.00" height="85.00" fill="#2f80d0" />
<rect x="1717.50" y="257.50" width="95.00" height="13.00" fill="#30c9d0" />
<rect x="1717.50" y="257.50" width="21.25" height="13.00" fill="#2f80d0" />
<rect x="1726.25" y="270.00" width="101.25" height="85.00" fill="#49e9c9" />
<g fill="#2b72d0"><rect x="1736.61" y="276.00" width="4.50" height="3.50"/><rect x="1744.34" y="276.00" width="4.50" height="3.50"/><rect x="1752.07" y="276.00" width="4.50" height="3.50"/><rect x="1759.80" y="276.00" width="4.50" height="3.50"/><rect x="1767.52" y="276.00" width="4.50" height="3.50"/><rect x="1775.25" y="276.00" width="4.50" height="3.50"/><rect x="1782.98" y="276.00" width="4.50" height="3.50"/><rect x="1790.70" y="276.00" width="4.50" height="3.50"/><rect x="1798.43" y="276.00" width="4.50" height="3.50"/><rect x="1806.16" y="276.00" width="4.50" height="3.50"/><rect x="1813.89" y="276.00" width="4.50" height="3.50"/></g>
<g fill="#2068c9"><rect x="1735.50" y="283.25" width="2.25" height="10.50"/><rect x="1735.50" y="295.25" width="2.25" height="10.50"/><rect x="1735.50" y="307.25" width="2.25" height="10.50"/><rect x="1735.50" y="319.25" width="2.25" height="10.50"/><rect x="1735.50" y="331.25" width="2.25" height="10.50"/><rect x="1741.25" y="283.25" width="2.25" height="10.50"/><rect x="1741.25" y="295.25" width="2.25" height="10.50"/><rect x="1741.25" y="307.25" width="2.25" height="10.50"/><rect x="1741.25" y="319.25" width="2.25" height="10.50"/><rect x="1741.25" y="331.25" width="2.25" height="10.50"/><rect x="1747.00" y="283.25" width="2.25" height="10.50"/><rect x="1747.00" y="295.25" width="2.25" height="10.50"/><rect x="1747.00" y="307.25" width="2.25" height="10.50"/><rect x="1747.00" y="319.25" width="2.25" height="10.50"/><rect x="1747.00" y="331.25" width="2.25" height="10.50"/><rect x="1752.75" y="283.25" width="2.25" height="10.50"/><rect x="1752.75" y="295.25" width="2.25" height="10.50"/><rect x="1752.75" y="307.25" width="2.25" height="10.50"/><rect x="1752.75" y="319.25" width="2.25" height="10.50"/><rect x="1752.75" y="331.25" width="2.25" height="10.50"/><rect x="1758.50" y="283.25" width="2.25" height="10.50"/><rect x="1758.50" y="295.25" width="2.25" height="10.50"/><rect x="1758.50" y="307.25" width="2.25" height="10.50"/><rect x="1758.50" y="319.25" width="2.25" height="10.50"/><rect x="1758.50" y="331.25" width="2.25" height="10.50"/><rect x="1764.25" y="283.25" width="2.25" height="10.50"/><rect x="1764.25" y="295.25" width="2.25" height="10.50"/><rect x="1764.25" y="307.25" width="2.25" height="10.50"/><rect x="1764.25" y="319.25" width="2.25" height="10.50"/><rect x="1764.25" y="331.25" width="2.25" height="10.50"/><rect x="1770.00" y="283.25" width="2.25" height="10.50"/><rect x="1770.00" y="295.25" width="2.25" height="10.50"/><rect x="1770.00" y="307.25" width="2.25" height="10.50"/><rect x="1770.00" y="319.25" width="2.25" height="10.50"/><rect x="1770.00" y="331.25" width="2.25" height="10.50"/><rect x="1775.75" y="283.25" width="2.25" height="10.50"/><rect x="1775.75" y="295.25" width="2.25" height="10.50"/><rect x="1775.75" y="307.25" width="2.25" height="10.50"/><rect x="1775.75" y="319.25" width="2.25" height="10.50"/><rect x="1775.75" y="331.25" width="2.25" height="10.50"/><rect x="1781.50" y="283.25" width="2.25" height="10.50"/><rect x="1781.50" y="295.25" width="2.25" height="10.50"/><rect x="1781.50" y="307.25" width="2.25" height="10.50"/><rect x="1781.50" y="319.25" width="2.25" height="10.50"/><rect x="1781.50" y="331.25" width="2.25" height="10.50"/><rect x="1787.25" y="283.25" width="2.25" height="10.50"/><rect x="1787.25" y="295.25" width="2.25" height="10.50"/><rect x="1787.25" y="307.25" width="2.25" height="10.50"/><rect x="1787.25" y="319.25" width="2.25" height="10.50"/><rect x="1787.25" y="331.25" width="2.25" height="10.50"/><rect x="1793.00" y="283.25" width="2.25" height="10.50"/><rect x="1793.00" y="295.25" width="2.25" height="10.50"/><rect x="1793.00" y="307.25" width="2.25" height="10.50"/><rect x="1793.00" y="319.25" width="2.25" height="10.50"/><rect x="1793.00" y="331.25" width="2.25" height="10.50"/><rect x="1798.75" y="283.25" width="2.25" height="10.50"/><rect x="1798.75" y="295.25" width="2.25" height="10.50"/><rect x="1798.75" y="307.25" width="2.25" height="10.50"/><rect x="1798.75" y="319.25" width="2.25" height="10.50"/><rect x="1798.75" y="331.25" width="2.25" height="10.50"/><rect x="1804.50" y="283.25" width="2.25" height="10.50"/><rect x="1804.50" y="295.25" width="2.25" height="10.50"/><rect x="1804.50" y="307.25" width="2.25" height="10.50"/><rect x="1804.50" y="319.25" width="2.25" height="10.50"/><rect x="1804.50" y="331.25" width="2.25" height="10.50"/><rect x="1810.25" y="283.25" width="2.25" height="10.50"/><rect x="1810.25" y="295.25" width="2.25" height="10.50"/><rect x="1810.25" y="307.25" width="2.25" height="10.50"/><rect x="1810.25" y="319.25" width="2.25" height="10.50"/><rect x="1810.25" y="331.25" width="2.25" height="10.50"/><rect x="1816.00" y="283.25" width="2.25" height="10.50"/><rect x="1816.00" y="295.25" width="2.25" height="10.50"/><rect x="1816.00" y="307.25" width="2.25" height="10.50"/><rect x="1816.00" y="319.25" width="2.25" height="10.50"/><rect x="1816.00" y="331.25" width="2.25" height="10.50"/></g>
<rect x="1653.75" y="348.00" width="9.00" height="7.00" fill="#123a84" />
<rect x="1668.75" y="348.00" width="9.00" height="7.00" fill="#123a84" />
<rect x="1696.25" y="348.00" width="9.00" height="7.00" fill="#123a84" />
<rect x="1711.25" y="348.00" width="9.00" height="7.00" fill="#123a84" />
<rect x="1743.75" y="348.00" width="9.00" height="7.00" fill="#123a84" />
<rect x="1758.75" y="348.00" width="9.00" height="7.00" fill="#123a84" />
<rect x="1786.25" y="348.00" width="9.00" height="7.00" fill="#123a84" />
<rect x="1801.25" y="348.00" width="9.00" height="7.00" fill="#123a84" />
</g>

<!-- 50_map.frag -->
<g id="map">
<polygon points="648.2,777.1 707.2,760.4 771.8,775.7 829.4,762.8 830.8,763.9 830.8,875.7 771.8,891.0 707.2,870.8 648.2,891.7 647.5,890.3" fill="#e1e1dd" stroke="#1c1c1c" stroke-width="1.25" stroke-linejoin="round"/>
<polygon points="707.2,760.4 771.8,775.7 771.8,781.7 707.2,767.8" fill="#f0f0ee"/>
<polygon points="707.2,870.8 771.8,891.0 771.8,884.4 707.2,869.4" fill="#f0f0ee"/>
<clipPath id="mapclip"><polygon points="655.8,782.6 707.2,767.4 771.8,781.2 822.5,770.8 822.5,869.4 771.8,884.0 707.2,869.4 656.5,883.3"/></clipPath>
<g clip-path="url(#mapclip)">
<rect x="654.4" y="763.9" width="170.8" height="125.0" fill="#a1e589"/>
<path d="M655.8,836.1 L680.8,825.0 Q696.1,834.7 704.4,825.0 Q701.7,808.3 710.0,798.6 Q723.9,791.7 732.2,801.4 L754.4,779.9 L743.3,775.0 L732.2,791.7 Q715.6,786.1 703.1,795.8 Q696.1,816.7 680.8,819.4 L655.8,830.6 Z" fill="#8ed277"/>
<path d="M655.8,855.6 L680.8,828.5 Q696.1,836.1 704.4,827.8 Q704.4,811.1 712.8,801.4 Q723.9,795.8 732.2,804.2 L755.8,779.9 L779.4,781.2 L778.1,791.7 Q794.7,795.8 796.1,802.8 Q801.7,804.2 803.1,811.1 L822.5,811.8 L822.5,827.8 L789.2,827.8 L725.3,850.0 Q729.4,861.1 718.3,861.1 Q700.3,856.9 689.2,865.3 L673.9,879.2 L655.8,884.0 Z" fill="#89e5dd" stroke="#1c1c1c" stroke-width="1.25" stroke-linejoin="round"/>
<path d="M723.9,815.3 Q730.8,811.1 734.3,818.1 Q735.0,825.0 730.8,833.3 Q721.1,840.3 715.6,837.5 Q710.7,831.9 718.3,827.8 Q723.9,823.6 723.9,815.3 Z" fill="#a1e589" stroke="#1c1c1c" stroke-width="1.25" stroke-linejoin="round"/>
<path d="M673.9,848.6 Q679.4,845.8 683.6,852.8 Q683.6,859.7 675.3,866.7 Q668.3,869.4 666.2,865.3 Q666.9,856.9 673.9,848.6 Z" fill="#a1e589" stroke="#1c1c1c" stroke-width="1.25" stroke-linejoin="round"/>
<path d="M779.4,781.2 L779.4,791.7 M796.1,802.8 Q801.7,801.4 802.4,808.3 Q804.4,813.2 822.5,811.8" fill="none" stroke="#1c1c1c" stroke-width="1.25" stroke-linejoin="round"/>
</g>
<polygon points="655.8,782.6 707.2,767.4 771.8,781.2 822.5,770.8 822.5,869.4 771.8,884.0 707.2,869.4 656.5,883.3" fill="none" stroke="#1c1c1c" stroke-width="1.25" stroke-linejoin="round"/>
<path d="M677.4,805.6 Q678.1,822.2 682.2,827.8 Q693.3,840.3 712.8,844.4 Q723.9,852.8 732.2,859.7 Q748.9,868.1 771.1,856.9" fill="none" stroke="#1c1c1c" stroke-width="1" stroke-dasharray="1.6 2.2"/>
<path d="M671.4,791.7 L684.7,804.4 M684.7,791.7 L671.4,804.4" stroke="#1c1c1c" stroke-width="5" stroke-linecap="round"/>
<path d="M671.4,791.7 L684.7,804.4 M684.7,791.7 L671.4,804.4" stroke="#f96840" stroke-width="3.2" stroke-linecap="round"/>
<path d="M771.1,854.9 Q748.2,822.2 748.2,809.7 A22.9,22.9 0 0 1 794.0,809.7 Q794.0,822.2 771.1,854.9 Z" fill="#fb7143" stroke="#1c1c1c" stroke-width="1.25" stroke-linejoin="round"/>
<path d="M771.1,854.9 Q794.0,822.2 794.0,809.7 A22.9,22.9 0 0 0 775.3,787.2 Q789.2,795.8 787.8,812.5 Q786.4,827.8 771.1,854.9 Z" fill="#e05a34"/>
<circle cx="771.1" cy="810.0" r="15.0" fill="#fff" stroke="#1c1c1c" stroke-width="1.25" stroke-linejoin="round"/>
</g>

<!-- 52_tunnel.frag -->
<g id="tunnel">
<defs><linearGradient id="bk0" x1="0" y1="0" x2="0" y2="1"><stop offset="0" stop-color="#9a7c6c"/><stop offset="1" stop-color="#7e6254"/></linearGradient><linearGradient id="bk1" x1="0" y1="0" x2="0" y2="1"><stop offset="0" stop-color="#92766a"/><stop offset="1" stop-color="#786052"/></linearGradient><linearGradient id="bk2" x1="0" y1="0" x2="0" y2="1"><stop offset="0" stop-color="#8a6c60"/><stop offset="1" stop-color="#6e564a"/></linearGradient><linearGradient id="bk3" x1="0" y1="0" x2="0" y2="1"><stop offset="0" stop-color="#bcac94"/><stop offset="1" stop-color="#a08c78"/></linearGradient><linearGradient id="bk4" x1="0" y1="0" x2="0" y2="1"><stop offset="0" stop-color="#a08472"/><stop offset="1" stop-color="#84685a"/></linearGradient><linearGradient id="bk5" x1="0" y1="0" x2="0" y2="1"><stop offset="0" stop-color="#96786a"/><stop offset="1" stop-color="#7a5e50"/></linearGradient></defs>
<clipPath id="tclip"><rect x="854.4" y="885" width="207.8" height="173.6"/></clipPath>
<g clip-path="url(#tclip)">
<rect x="854.4" y="885" width="207.8" height="173.6" fill="#4a3c3a"/>
<rect x="853.8" y="885.2" width="28.1" height="7.8" fill="url(#bk5)"/><rect x="876.1" y="890.5" width="1" height="1" fill="#5a4640" opacity="0.7"/><rect x="866.1" y="890.9" width="1" height="1" fill="#5a4640" opacity="0.7"/><rect x="859.6" y="890.6" width="1" height="1" fill="#5a4640" opacity="0.7"/><rect x="866.7" y="889.5" width="1" height="1" fill="#5a4640" opacity="0.7"/><rect x="859.5" y="888.5" width="1" height="1" fill="#5a4640" opacity="0.7"/><rect x="883.6" y="885.2" width="28.1" height="7.8" fill="url(#bk5)"/><rect x="904.8" y="890.0" width="1" height="1" fill="#5a4640" opacity="0.7"/><rect x="885.7" y="891.6" width="1" height="1" fill="#5a4640" opacity="0.7"/><rect x="908.7" y="889.7" width="1" height="1" fill="#5a4640" opacity="0.7"/><rect x="900.0" y="886.9" width="1" height="1" fill="#5a4640" opacity="0.7"/><rect x="885.1" y="889.0" width="1" height="1" fill="#5a4640" opacity="0.7"/><rect x="913.5" y="885.2" width="28.1" height="7.8" fill="url(#bk3)"/><rect x="919.3" y="887.4" width="1" height="1" fill="#5a4640" opacity="0.7"/><rect x="915.3" y="888.6" width="1" height="1" fill="#5a4640" opacity="0.7"/><rect x="925.5" y="890.8" width="1" height="1" fill="#5a4640" opacity="0.7"/><rect x="927.5" y="889.6" width="1" height="1" fill="#5a4640" opacity="0.7"/><rect x="927.0" y="889.8" width="1" height="1" fill="#5a4640" opacity="0.7"/><rect x="943.3" y="885.2" width="28.1" height="7.8" fill="url(#bk2)"/><rect x="954.5" y="889.1" width="1" height="1" fill="#5a4640" opacity="0.7"/><rect x="967.6" y="886.5" width="1" height="1" fill="#5a4640" opacity="0.7"/><rect x="950.7" y="890.3" width="1" height="1" fill="#5a4640" opacity="0.7"/><rect x="957.1" y="886.2" width="1" height="1" fill="#5a4640" opacity="0.7"/><rect x="958.4" y="886.6" width="1" height="1" fill="#5a4640" opacity="0.7"/><rect x="973.2" y="885.2" width="28.1" height="7.8" fill="url(#bk3)"/><rect x="981.5" y="886.4" width="1" height="1" fill="#5a4640" opacity="0.7"/><rect x="974.7" y="889.9" width="1" height="1" fill="#5a4640" opacity="0.7"/><rect x="979.6" y="891.3" width="1" height="1" fill="#5a4640" opacity="0.7"/><rect x="975.6" y="888.1" width="1" height="1" fill="#5a4640" opacity="0.7"/><rect x="991.9" y="888.4" width="1" height="1" fill="#5a4640" opacity="0.7"/><rect x="1003.0" y="885.2" width="28.1" height="7.8" fill="url(#bk1)"/><rect x="1023.4" y="887.5" width="1" height="1" fill="#5a4640" opacity="0.7"/><rect x="1006.3" y="887.9" width="1" height="1" fill="#5a4640" opacity="0.7"/><rect x="1028.1" y="890.3" width="1" height="1" fill="#5a4640" opacity="0.7"/><rect x="1007.0" y="887.4" width="1" height="1" fill="#5a4640" opacity="0.7"/><rect x="1006.6" y="886.3" width="1" height="1" fill="#5a4640" opacity="0.7"/><rect x="1032.9" y="885.2" width="28.1" height="7.8" fill="url(#bk1)"/><rect x="1050.9" y="887.1" width="1" height="1" fill="#5a4640" opacity="0.7"/><rect x="1046.6" y="891.6" width="1" height="1" fill="#5a4640" opacity="0.7"/><rect x="1053.1" y="888.4" width="1" height="1" fill="#5a4640" opacity="0.7"/><rect x="1043.5" y="888.3" width="1" height="1" fill="#5a4640" opacity="0.7"/><rect x="1058.6" y="886.0" width="1" height="1" fill="#5a4640" opacity="0.7"/><rect x="1062.7" y="885.2" width="28.1" height="7.8" fill="url(#bk1)"/><rect x="1078.5" y="891.7" width="1" height="1" fill="#5a4640" opacity="0.7"/><rect x="1064.3" y="887.1" width="1" height="1" fill="#5a4640" opacity="0.7"/><rect x="1088.5" y="889.4" width="1" height="1" fill="#5a4640" opacity="0.7"/><rect x="1078.1" y="886.2" width="1" height="1" fill="#5a4640" opacity="0.7"/><rect x="1067.4" y="888.5" width="1" height="1" fill="#5a4640" opacity="0.7"/><rect x="838.8" y="894.9" width="28.1" height="7.8" fill="url(#bk3)"/><rect x="855.1" y="900.4" width="1" height="1" fill="#5a4640" opacity="0.7"/><rect x="849.5" y="896.1" width="1" height="1" fill="#5a4640" opacity="0.7"/><rect x="845.1" y="899.3" width="1" height="1" fill="#5a4640" opacity="0.7"/><rect x="840.3" y="897.8" width="1" height="1" fill="#5a4640" opacity="0.7"/><rect x="855.4" y="896.4" width="1" height="1" fill="#5a4640" opacity="0.7"/><rect x="868.7" y="894.9" width="28.1" height="7.8" fill="url(#bk1)"/><rect x="884.1" y="900.6" width="1" height="1" fill="#5a4640" opacity="0.7"/><rect x="874.3" y="896.6" width="1" height="1" fill="#5a4640" opacity="0.7"/><rect x="892.4" y="900.4" width="1" height="1" fill="#5a4640" opacity="0.7"/><rect x="876.0" y="896.8" width="1" height="1" fill="#5a4640" opacity="0.7"/><rect x="888.2" y="901.1" width="1" height="1" fill="#5a4640" opacity="0.7"/><rect x="898.5" y="894.9" width="28.1" height="7.8" fill="url(#bk4)"/><rect x="921.6" y="899.1" width="1" height="1" fill="#5a4640" opacity="0.7"/><rect x="910.1" y="896.3" width="1" height="1" fill="#5a4640" opacity="0.7"/><rect x="900.6" y="901.2" width="1" height="1" fill="#5a4640" opacity="0.7"/><rect x="905.6" y="899.7" width="1" height="1" fill="#5a4640" opacity="0.7"/><rect x="906.0" y="900.4" width="1" height="1" fill="#5a4640" opacity="0.7"/><rect x="928.4" y="894.9" width="28.1" height="7.8" fill="url(#bk2)"/><rect x="942.4" y="901.0" width="1" height="1" fill="#5a4640" opacity="0.7"/><rect x="953.8" y="896.4" width="1" height="1" fill="#5a4640" opacity="0.7"/><rect x="941.4" y="899.4" width="1" height="1" fill="#5a4640" opacity="0.7"/><rect x="944.8" y="896.1" width="1" height="1" fill="#5a4640" opacity="0.7"/><rect x="934.8" y="900.9" width="1" height="1" fill="#5a4640" opacity="0.7"/><rect x="958.2" y="894.9" width="28.1" height="7.8" fill="url(#bk0)"/><rect x="966.0" y="898.2" width="1" height="1" fill="#5a4640" opacity="0.7"/><rect x="960.9" y="896.7" width="1" height="1" fill="#5a4640" opacity="0.7"/><rect x="968.5" y="899.0" width="1" height="1" fill="#5a4640" opacity="0.7"/><rect x="962.6" y="897.8" width="1" height="1" fill="#5a4640" opacity="0.7"/><rect x="981.5" y="901.3" width="1" height="1" fill="#5a4640" opacity="0.7"/><rect x="988.1" y="894.9" width="28.1" height="7.8" fill="url(#bk0)"/><rect x="1002.2" y="901.1" width="1" height="1" fill="#5a4640" opacity="0.7"/><rect x="1003.9" y="901.0" width="1" height="1" fill="#5a4640" opacity="0.7"/><rect x="1001.0" y="897.7" width="1" height="1" fill="#5a4640" opacity="0.7"/><rect x="996.9" y="895.9" width="1" height="1" fill="#5a4640" opacity="0.7"/><rect x="1004.1" y="896.1" width="1" height="1" fill="#5a4640" opacity="0.7"/><rect x="1018.0" y="894.9" width="28.1" height="7.8" fill="url(#bk3)"/><rect x="1026.8" y="896.5" width="1" height="1" fill="#5a4640" opacity="0.7"/><rect x="1020.8" y="898.3" width="1" height="1" fill="#5a4640" opacity="0.7"/><rect x="1028.2" y="896.0" width="1" height="1" fill="#5a4640" opacity="0.7"/><rect x="1042.3" y="899.9" width="1" height="1" fill="#5a4640" opacity="0.7"/><rect x="1022.3" y="901.2" width="1" height="1" fill="#5a4640" opacity="0.7"/><rect x="1047.8" y="894.9" width="28.1" height="7.8" fill="url(#bk0)"/><rect x="1065.9" y="900.8" width="1" height="1" fill="#5a4640" opacity="0.7"/><rect x="1070.5" y="898.1" width="1" height="1" fill="#5a4640" opacity="0.7"/><rect x="1068.5" y="900.6" width="1" height="1" fill="#5a4640" opacity="0.7"/><rect x="1063.1" y="899.3" width="1" height="1" fill="#5a4640" opacity="0.7"/><rect x="1058.4" y="899.0" width="1" height="1" fill="#5a4640" opacity="0.7"/><rect x="853.8" y="904.6" width="28.1" height="7.8" fill="url(#bk0)"/><rect x="857.1" y="906.1" width="1" height="1" fill="#5a4640" opacity="0.7"/><rect x="861.2" y="907.8" width="1" height="1" fill="#5a4640" opacity="0.7"/><rect x="863.1" y="910.7" width="1" height="1" fill="#5a4640" opacity="0.7"/><rect x="872.1" y="908.0" width="1" height="1" fill="#5a4640" opacity="0.7"/><rect x="866.3" y="908.5" width="1" height="1" fill="#5a4640" opacity="0.7"/><rect x="883.6" y="904.6" width="28.1" height="7.8" fill="url(#bk5)"/><rect x="885.4" y="908.8" width="1" height="1" fill="#5a4640" opacity="0.7"/><rect x="896.7" y="906.7" width="1" height="1" fill="#5a4640" opacity="0.7"/><rect x="902.1" y="908.2" width="1" height="1" fill="#5a4640" opacity="0.7"/><rect x="900.0" y="910.6" width="1" height="1" fill="#5a4640" opacity="0.7"/><rect x="891.1" y="905.5" width="1" height="1" fill="#5a4640" opacity="0.7"/><rect x="913.5" y="904.6" width="28.1" height="7.8" fill="url(#bk0)"/><rect x="929.8" y="908.4" width="1" height="1" fill="#5a4640" opacity="0.7"/><rect x="933.3" y="907.4" width="1" height="1" fill="#5a4640" opacity="0.7"/><rect x="937.7" y="908.2" width="1" height="1" fill="#5a4640" opacity="0.7"/><rect x="920.6" y="907.7" width="1" height="1" fill="#5a4640" opacity="0.7"/><rect x="920.8" y="909.0" width="1" height="1" fill="#5a4640" opacity="0.7"/><rect x="943.3" y="904.6" width="28.1" height="7.8" fill="url(#bk1)"/><rect x="967.1" y="910.4" width="1" height="1" fill="#5a4640" opacity="0.7"/><rect x="954.0" y="908.7" width="1" height="1" fill="#5a4640" opacity="0.7"/><rect x="952.3" y="906.2" width="1" height="1" fill="#5a4640" opacity="0.7"/><rect x="956.7" y="910.2" width="1" height="1" fill="#5a4640" opacity="0.7"/><rect x="965.5" y="909.5" width="1" height="1" fill="#5a4640" opacity="0.7"/><rect x="973.2" y="904.6" width="28.1" height="7.8" fill="url(#bk2)"/><rect x="994.7" y="906.0" width="1" height="1" fill="#5a4640" opacity="0.7"/><rect x="986.0" y="910.7" width="1" height="1" fill="#5a4640" opacity="0.7"/><rect x="994.9" y="907.6" width="1" height="1" fill="#5a4640" opacity="0.7"/><rect x="987.2" y="909.2" width="1" height="1" fill="#5a4640" opacity="0.7"/><rect x="992.0" y="910.2" width="1" height="1" fill="#5a4640" opacity="0.7"/><rect x="1003.0" y="904.6" width="28.1" height="7.8" fill="url(#bk2)"/><rect x="1006.0" y="905.6" width="1" height="1" fill="#5a4640" opacity="0.7"/><rect x="1025.8" y="905.6" width="1" height="1" fill="#5a4640" opacity="0.7"/><rect x="1021.7" y="908.7" width="1" height="1" fill="#5a4640" opacity="0.7"/><rect x="1011.8" y="909.9" width="1" height="1" fill="#5a4640" opacity="0.7"/><rect x="1004.6" y="906.2" width="1" height="1" fill="#5a4640" opacity="0.7"/><rect x="1032.9" y="904.6" width="28.1" height="7.8" fill="url(#bk0)"/><rect x="1053.1" y="906.9" width="1" height="1" fill="#5a4640" opacity="0.7"/><rect x="1053.3" y="909.9" width="1" height="1" fill="#5a4640" opacity="0.7"/><rect x="1058.4" y="906.1" width="1" height="1" fill="#5a4640" opacity="0.7"/><rect x="1036.7" y="908.5" width="1" height="1" fill="#5a4640" opacity="0.7"/><rect x="1049.9" y="907.5" width="1" height="1" fill="#5a4640" opacity="0.7"/><rect x="1062.7" y="904.6" width="28.1" height="7.8" fill="url(#bk3)"/><rect x="1068.7" y="910.1" width="1" height="1" fill="#5a4640" opacity="0.7"/><rect x="1070.2" y="909.5" width="1" height="1" fill="#5a4640" opacity="0.7"/><rect x="1082.6" y="908.4" width="1" height="1" fill="#5a4640" opacity="0.7"/><rect x="1064.7" y="906.7" width="1" height="1" fill="#5a4640" opacity="0.7"/><rect x="1083.1" y="908.5" width="1" height="1" fill="#5a4640" opacity="0.7"/><rect x="838.8" y="914.3" width="28.1" height="7.8" fill="url(#bk5)"/><rect x="855.2" y="919.4" width="1" height="1" fill="#5a4640" opacity="0.7"/><rect x="849.7" y="919.6" width="1" height="1" fill="#5a4640" opacity="0.7"/><rect x="862.5" y="915.6" width="1" height="1" fill="#5a4640" opacity="0.7"/><rect x="863.1" y="919.2" width="1" height="1" fill="#5a4640" opacity="0.7"/><rect x="843.2" y="917.7" width="1" height="1" fill="#5a4640" opacity="0.7"/><rect x="868.7" y="914.3" width="28.1" height="7.8" fill="url(#bk0)"/><rect x="879.2" y="918.3" width="1" height="1" fill="#5a4640" opacity="0.7"/><rect x="891.7" y="919.6" width="1" height="1" fill="#5a4640" opacity="0.7"/><rect x="893.3" y="917.7" width="1" height="1" fill="#5a4640" opacity="0.7"/><rect x="886.0" y="916.3" width="1" height="1" fill="#5a4640" opacity="0.7"/><rect x="887.7" y="919.8" width="1" height="1" fill="#5a4640" opacity="0.7"/><rect x="898.5" y="914.3" width="28.1" height="7.8" fill="url(#bk0)"/><rect x="902.7" y="916.5" width="1" height="1" fill="#5a4640" opacity="0.7"/><rect x="909.3" y="915.6" width="1" height="1" fill="#5a4640" opacity="0.7"/><rect x="907.3" y="920.7" width="1" height="1" fill="#5a4640" opacity="0.7"/><rect x="922.8" y="916.6" width="1" height="1" fill="#5a4640" opacity="0.7"/><rect x="917.5" y="915.2" width="1" height="1" fill="#5a4640" opacity="0.7"/><rect x="928.4" y="914.3" width="28.1" height="7.8" fill="url(#bk0)"/><rect x="940.5" y="918.2" width="1" height="1" fill="#5a4640" opacity="0.7"/><rect x="948.6" y="917.9" width="1" height="1" fill="#5a4640" opacity="0.7"/><rect x="930.2" y="919.7" width="1" height="1" fill="#5a4640" opacity="0.7"/><rect x="931.1" y="919.7" width="1" height="1" fill="#5a4640" opacity="0.7"/><rect x="933.8" y="917.0" width="1" height="1" fill="#5a4640" opacity="0.7"/><rect x="958.2" y="914.3" width="28.1" height="7.8" fill="url(#bk1)"/><rect x="971.0" y="920.8" width="1" height="1" fill="#5a4640" opacity="0.7"/><rect x="981.7" y="918.1" width="1" height="1" fill="#5a4640" opacity="0.7"/><rect x="976.2" y="917.6" width="1" height="1" fill="#5a4640" opacity="0.7"/><rect x="981.2" y="918.4" width="1" height="1" fill="#5a4640" opacity="0.7"/><rect x="976.5" y="919.4" width="1" height="1" fill="#5a4640" opacity="0.7"/><rect x="988.1" y="914.3" width="28.1" height="7.8" fill="url(#bk5)"/><rect x="996.4" y="919.3" width="1" height="1" fill="#5a4640" opacity="0.7"/><rect x="1005.1" y="918.1" width="1" height="1" fill="#5a4640" opacity="0.7"/><rect x="1010.2" y="918.3" width="1" height="1" fill="#5a4640" opacity="0.7"/><rect x="996.9" y="917.3" width="1" height="1" fill="#5a4640" opacity="0.7"/><rect x="1010.2" y="920.2" width="1" height="1" fill="#5a4640" opacity="0.7"/><rect x="1018.0" y="914.3" width="28.1" height="7.8" fill="url(#bk1)"/><rect x="1022.6" y="918.2" width="1" height="1" fill="#5a4640" opacity="0.7"/><rect x="1025.8" y="917.9" width="1" height="1" fill="#5a4640" opacity="0.7"/><rect x="1029.3" y="915.8" width="1" height="1" fill="#5a4640" opacity="0.7"/><rect x="1019.2" y="917.2" width="1" height="1" fill="#5a4640" opacity="0.7"/><rect x="1032.4" y="915.4" width="1" height="1" fill="#5a4640" opacity="0.7"/><rect x="1047.8" y="914.3" width="28.1" height="7.8" fill="url(#bk5)"/><rect x="1068.8" y="918.3" width="1" height="1" fill="#5a4640" opacity="0.7"/><rect x="1061.1" y="919.0" width="1" height="1" fill="#5a4640" opacity="0.7"/><rect x="1050.5" y="918.2" width="1" height="1" fill="#5a4640" opacity="0.7"/><rect x="1059.2" y="920.6" width="1" height="1" fill="#5a4640" opacity="0.7"/><rect x="1071.8" y="916.6" width="1" height="1" fill="#5a4640" opacity="0.7"/><rect x="853.8" y="924.0" width="28.1" height="7.8" fill="url(#bk1)"/><rect x="863.3" y="929.9" width="1" height="1" fill="#5a4640" opacity="0.7"/><rect x="878.1" y="930.0" width="1" height="1" fill="#5a4640" opacity="0.7"/><rect x="867.9" y="925.4" width="1" height="1" fill="#5a4640" opacity="0.7"/><rect x="865.3" y="925.0" width="1" height="1" fill="#5a4640" opacity="0.7"/><rect x="861.3" y="928.8" width="1" height="1" fill="#5a4640" opacity="0.7"/><rect x="883.6" y="924.0" width="28.1" height="7.8" fill="url(#bk0)"/><rect x="889.5" y="926.1" width="1" height="1" fill="#5a4640" opacity="0.7"/><rect x="901.8" y="926.6" width="1" height="1" fill="#5a4640" opacity="0.7"/><rect x="893.5" y="928.3" width="1" height="1" fill="#5a4640" opacity="0.7"/><rect x="887.3" y="929.0" width="1" height="1" fill="#5a4640" opacity="0.7"/><rect x="887.8" y="927.7" width="1" height="1" fill="#5a4640" opacity="0.7"/><rect x="913.5" y="924.0" width="28.1" height="7.8" fill="url(#bk1)"/><rect x="932.0" y="929.8" width="1" height="1" fill="#5a4640" opacity="0.7"/><rect x="915.1" y="928.4" width="1" height="1" fill="#5a4640" opacity="0.7"/><rect x="935.1" y="928.3" width="1" height="1" fill="#5a4640" opacity="0.7"/><rect x="927.9" y="929.7" width="1" height="1" fill="#5a4640" opacity="0.7"/><rect x="927.8" y="926.0" width="1" height="1" fill="#5a4640" opacity="0.7"/><rect x="943.3" y="924.0" width="28.1" height="7.8" fill="url(#bk5)"/><rect x="959.6" y="929.7" width="1" height="1" fill="#5a4640" opacity="0.7"/><rect x="950.2" y="929.0" width="1" height="1" fill="#5a4640" opacity="0.7"/><rect x="964.5" y="929.9" width="1" height="1" fill="#5a4640" opacity="0.7"/><rect x="952.2" y="926.6" width="1" height="1" fill="#5a4640" opacity="0.7"/><rect x="967.3" y="926.0" width="1" height="1" fill="#5a4640" opacity="0.7"/><rect x="973.2" y="924.0" width="28.1" height="7.8" fill="url(#bk0)"/><rect x="977.6" y="926.2" width="1" height="1" fill="#5a4640" opacity="0.7"/><rect x="992.3" y="926.3" width="1" height="1" fill="#5a4640" opacity="0.7"/><rect x="976.7" y="929.5" width="1" height="1" fill="#5a4640" opacity="0.7"/><rect x="984.7" y="929.3" width="1" height="1" fill="#5a4640" opacity="0.7"/><rect x="977.4" y="927.1" width="1" height="1" fill="#5a4640" opacity="0.7"/><rect x="1003.0" y="924.0" width="28.1" height="7.8" fill="url(#bk0)"/><rect x="1006.5" y="928.0" width="1" height="1" fill="#5a4640" opacity="0.7"/><rect x="1013.0" y="929.5" width="1" height="1" fill="#5a4640" opacity="0.7"/><rect x="1013.1" y="928.8" width="1" height="1" fill="#5a4640" opacity="0.7"/><rect x="1019.9" y="926.8" width="1" height="1" fill="#5a4640" opacity="0.7"/><rect x="1028.9" y="929.5" width="1" height="1" fill="#5a4640" opacity="0.7"/><rect x="1032.9" y="924.0" width="28.1" height="7.8" fill="url(#bk4)"/><rect x="1036.6" y="925.0" width="1" height="1" fill="#5a4640" opacity="0.7"/><rect x="1047.7" y="927.7" width="1" height="1" fill="#5a4640" opacity="0.7"/><rect x="1048.1" y="925.6" width="1" height="1" fill="#5a4640" opacity="0.7"/><rect x="1038.5" y="926.0" width="1" height="1" fill="#5a4640" opacity="0.7"/><rect x="1054.8" y="930.4" width="1" height="1" fill="#5a4640" opacity="0.7"/><rect x="1062.7" y="924.0" width="28.1" height="7.8" fill="url(#bk0)"/><rect x="1078.2" y="925.6" width="1" height="1" fill="#5a4640" opacity="0.7"/><rect x="1080.7" y="925.2" width="1" height="1" fill="#5a4640" opacity="0.7"/><rect x="1066.2" y="927.0" width="1" height="1" fill="#5a4640" opacity="0.7"/><rect x="1074.4" y="926.8" width="1" height="1" fill="#5a4640" opacity="0.7"/><rect x="1069.0" y="926.9" width="1" height="1" fill="#5a4640" opacity="0.7"/><rect x="838.8" y="933.7" width="28.1" height="7.8" fill="url(#bk0)"/><rect x="860.9" y="935.5" width="1" height="1" fill="#5a4640" opacity="0.7"/><rect x="851.2" y="938.7" width="1" height="1" fill="#5a4640" opacity="0.7"/><rect x="850.0" y="935.6" width="1" height="1" fill="#5a4640" opacity="0.7"/><rect x="844.1" y="937.4" width="1" height="1" fill="#5a4640" opacity="0.7"/><rect x="840.3" y="939.6" width="1" height="1" fill="#5a4640" opacity="0.7"/><rect x="868.7" y="933.7" width="28.1" height="7.8" fill="url(#bk0)"/><rect x="891.6" y="939.7" width="1" height="1" fill="#5a4640" opacity="0.7"/><rect x="893.1" y="937.7" width="1" height="1" fill="#5a4640" opacity="0.7"/><rect x="874.5" y="937.8" width="1" height="1" fill="#5a4640" opacity="0.7"/><rect x="878.3" y="938.8" width="1" height="1" fill="#5a4640" opacity="0.7"/><rect x="876.7" y="935.2" width="1" height="1" fill="#5a4640" opacity="0.7"/><rect x="898.5" y="933.7" width="28.1" height="7.8" fill="url(#bk1)"/><rect x="919.9" y="936.8" width="1" height="1" fill="#5a4640" opacity="0.7"/><rect x="921.9" y="939.5" width="1" height="1" fill="#5a4640" opacity="0.7"/><rect x="916.9" y="938.9" width="1" height="1" fill="#5a4640" opacity="0.7"/><rect x="918.7" y="936.8" width="1" height="1" fill="#5a4640" opacity="0.7"/><rect x="917.6" y="934.9" width="1" height="1" fill="#5a4640" opacity="0.7"/><rect x="928.4" y="933.7" width="28.1" height="7.8" fill="url(#bk4)"/><rect x="932.0" y="939.6" width="1" height="1" fill="#5a4640" opacity="0.7"/><rect x="954.1" y="939.6" width="1" height="1" fill="#5a4640" opacity="0.7"/><rect x="930.7" y="936.1" width="1" height="1" fill="#5a4640" opacity="0.7"/><rect x="953.4" y="936.2" width="1" height="1" fill="#5a4640" opacity="0.7"/><rect x="934.9" y="936.8" width="1" height="1" fill="#5a4640" opacity="0.7"/><rect x="958.2" y="933.7" width="28.1" height="7.8" fill="url(#bk0)"/><rect x="969.0" y="940.2" width="1" height="1" fill="#5a4640" opacity="0.7"/><rect x="975.3" y="938.5" width="1" height="1" fill="#5a4640" opacity="0.7"/><rect x="978.3" y="940.1" width="1" height="1" fill="#5a4640" opacity="0.7"/><rect x="959.9" y="938.0" width="1" height="1" fill="#5a4640" opacity="0.7"/><rect x="977.7" y="936.0" width="1" height="1" fill="#5a4640" opacity="0.7"/><rect x="988.1" y="933.7" width="28.1" height="7.8" fill="url(#bk0)"/><rect x="1008.1" y="938.2" width="1" height="1" fill="#5a4640" opacity="0.7"/><rect x="989.5" y="936.0" width="1" height="1" fill="#5a4640" opacity="0.7"/><rect x="996.1" y="936.4" width="1" height="1" fill="#5a4640" opacity="0.7"/><rect x="1002.6" y="936.9" width="1" height="1" fill="#5a4640" opacity="0.7"/><rect x="1002.1" y="939.3" width="1" height="1" fill="#5a4640" opacity="0.7"/><rect x="1018.0" y="933.7" width="28.1" height="7.8" fill="url(#bk3)"/><rect x="1030.1" y="938.2" width="1" height="1" fill="#5a4640" opacity="0.7"/><rect x="1032.7" y="938.3" width="1" height="1" fill="#5a4640" opacity="0.7"/><rect x="1042.8" y="936.7" width="1" height="1" fill="#5a4640" opacity="0.7"/><rect x="1042.4" y="936.7" width="1" height="1" fill="#5a4640" opacity="0.7"/><rect x="1043.2" y="939.4" width="1" height="1" fill="#5a4640" opacity="0.7"/><rect x="1047.8" y="933.7" width="28.1" height="7.8" fill="url(#bk5)"/><rect x="1050.4" y="939.9" width="1" height="1" fill="#5a4640" opacity="0.7"/><rect x="1059.4" y="937.5" width="1" height="1" fill="#5a4640" opacity="0.7"/><rect x="1063.8" y="936.6" width="1" height="1" fill="#5a4640" opacity="0.7"/><rect x="1056.0" y="938.2" width="1" height="1" fill="#5a4640" opacity="0.7"/><rect x="1062.8" y="936.1" width="1" height="1" fill="#5a4640" opacity="0.7"/><rect x="853.8" y="943.4" width="28.1" height="7.8" fill="url(#bk2)"/><rect x="855.5" y="948.6" width="1" height="1" fill="#5a4640" opacity="0.7"/><rect x="869.4" y="947.8" width="1" height="1" fill="#5a4640" opacity="0.7"/><rect x="865.0" y="948.1" width="1" height="1" fill="#5a4640" opacity="0.7"/><rect x="856.2" y="946.0" width="1" height="1" fill="#5a4640" opacity="0.7"/><rect x="864.7" y="947.5" width="1" height="1" fill="#5a4640" opacity="0.7"/><rect x="883.6" y="943.4" width="28.1" height="7.8" fill="url(#bk2)"/><rect x="886.5" y="949.4" width="1" height="1" fill="#5a4640" opacity="0.7"/><rect x="895.4" y="946.9" width="1" height="1" fill="#5a4640" opacity="0.7"/><rect x="908.9" y="945.6" width="1" height="1" fill="#5a4640" opacity="0.7"/><rect x="897.7" y="949.5" width="1" height="1" fill="#5a4640" opacity="0.7"/><rect x="902.7" y="946.9" width="1" height="1" fill="#5a4640" opacity="0.7"/><rect x="913.5" y="943.4" width="28.1" height="7.8" fill="url(#bk1)"/><rect x="920.6" y="948.2" width="1" height="1" fill="#5a4640" opacity="0.7"/><rect x="915.8" y="946.6" width="1" height="1" fill="#5a4640" opacity="0.7"/><rect x="917.5" y="949.1" width="1" height="1" fill="#5a4640" opacity="0.7"/><rect x="923.4" y="945.1" width="1" height="1" fill="#5a4640" opacity="0.7"/><rect x="923.6" y="945.0" width="1" height="1" fill="#5a4640" opacity="0.7"/><rect x="943.3" y="943.4" width="28.1" height="7.8" fill="url(#bk5)"/><rect x="950.9" y="947.5" width="1" height="1" fill="#5a4640" opacity="0.7"/><rect x="954.8" y="948.6" width="1" height="1" fill="#5a4640" opacity="0.7"/><rect x="957.6" y="949.9" width="1" height="1" fill="#5a4640" opacity="0.7"/><rect x="968.1" y="948.4" width="1" height="1" fill="#5a4640" opacity="0.7"/><rect x="950.3" y="944.8" width="1" height="1" fill="#5a4640" opacity="0.7"/><rect x="973.2" y="943.4" width="28.1" height="7.8" fill="url(#bk1)"/><rect x="986.9" y="949.0" width="1" height="1" fill="#5a4640" opacity="0.7"/><rect x="981.1" y="947.7" width="1" height="1" fill="#5a4640" opacity="0.7"/><rect x="992.3" y="948.2" width="1" height="1" fill="#5a4640" opacity="0.7"/><rect x="979.0" y="945.8" width="1" height="1" fill="#5a4640" opacity="0.7"/><rect x="980.2" y="949.6" width="1" height="1" fill="#5a4640" opacity="0.7"/><rect x="1003.0" y="943.4" width="28.1" height="7.8" fill="url(#bk0)"/><rect x="1026.9" y="949.2" width="1" height="1" fill="#5a4640" opacity="0.7"/><rect x="1005.1" y="944.5" width="1" height="1" fill="#5a4640" opacity="0.7"/><rect x="1010.8" y="946.6" width="1" height="1" fill="#5a4640" opacity="0.7"/><rect x="1019.6" y="944.8" width="1" height="1" fill="#5a4640" opacity="0.7"/><rect x="1017.6" y="944.6" width="1" height="1" fill="#5a4640" opacity="0.7"/><rect x="1032.9" y="943.4" width="28.1" height="7.8" fill="url(#bk3)"/><rect x="1050.8" y="947.3" width="1" height="1" fill="#5a4640" opacity="0.7"/><rect x="1049.6" y="946.3" width="1" height="1" fill="#5a4640" opacity="0.7"/><rect x="1045.8" y="945.4" width="1" height="1" fill="#5a4640" opacity="0.7"/><rect x="1042.5" y="948.4" width="1" height="1" fill="#5a4640" opacity="0.7"/><rect x="1054.8" y="944.6" width="1" height="1" fill="#5a4640" opacity="0.7"/><rect x="1062.7" y="943.4" width="28.1" height="7.8" fill="url(#bk3)"/><rect x="1083.9" y="947.8" width="1" height="1" fill="#5a4640" opacity="0.7"/><rect x="1082.9" y="945.4" width="1" height="1" fill="#5a4640" opacity="0.7"/><rect x="1074.3" y="945.7" width="1" height="1" fill="#5a4640" opacity="0.7"/><rect x="1083.9" y="946.3" width="1" height="1" fill="#5a4640" opacity="0.7"/><rect x="1080.0" y="949.8" width="1" height="1" fill="#5a4640" opacity="0.7"/><rect x="838.8" y="953.1" width="28.1" height="7.8" fill="url(#bk5)"/><rect x="858.8" y="958.6" width="1" height="1" fill="#5a4640" opacity="0.7"/><rect x="844.5" y="957.6" width="1" height="1" fill="#5a4640" opacity="0.7"/><rect x="854.4" y="956.5" width="1" height="1" fill="#5a4640" opacity="0.7"/><rect x="848.0" y="957.0" width="1" height="1" fill="#5a4640" opacity="0.7"/><rect x="850.7" y="957.1" width="1" height="1" fill="#5a4640" opacity="0.7"/><rect x="868.7" y="953.1" width="28.1" height="7.8" fill="url(#bk4)"/><rect x="877.2" y="958.3" width="1" height="1" fill="#5a4640" opacity="0.7"/><rect x="871.7" y="955.1" width="1" height="1" fill="#5a4640" opacity="0.7"/><rect x="886.3" y="954.4" width="1" height="1" fill="#5a4640" opacity="0.7"/><rect x="877.3" y="958.0" width="1" height="1" fill="#5a4640" opacity="0.7"/><rect x="887.0" y="955.5" width="1" height="1" fill="#5a4640" opacity="0.7"/><rect x="898.5" y="953.1" width="28.1" height="7.8" fill="url(#bk2)"/><rect x="916.0" y="955.8" width="1" height="1" fill="#5a4640" opacity="0.7"/><rect x="922.2" y="955.7" width="1" height="1" fill="#5a4640" opacity="0.7"/><rect x="910.6" y="957.3" width="1" height="1" fill="#5a4640" opacity="0.7"/><rect x="922.1" y="957.8" width="1" height="1" fill="#5a4640" opacity="0.7"/><rect x="906.6" y="956.9" width="1" height="1" fill="#5a4640" opacity="0.7"/><rect x="928.4" y="953.1" width="28.1" height="7.8" fill="url(#bk4)"/><rect x="937.4" y="956.2" width="1" height="1" fill="#5a4640" opacity="0.7"/><rect x="952.7" y="959.0" width="1" height="1" fill="#5a4640" opacity="0.7"/><rect x="935.7" y="956.0" width="1" height="1" fill="#5a4640" opacity="0.7"/><rect x="938.6" y="956.0" width="1" height="1" fill="#5a4640" opacity="0.7"/><rect x="939.3" y="956.1" width="1" height="1" fill="#5a4640" opacity="0.7"/><rect x="958.2" y="953.1" width="28.1" height="7.8" fill="url(#bk5)"/><rect x="968.5" y="956.1" width="1" height="1" fill="#5a4640" opacity="0.7"/><rect x="963.2" y="957.3" width="1" height="1" fill="#5a4640" opacity="0.7"/><rect x="963.8" y="954.4" width="1" height="1" fill="#5a4640" opacity="0.7"/><rect x="970.6" y="958.8" width="1" height="1" fill="#5a4640" opacity="0.7"/><rect x="979.5" y="955.2" width="1" height="1" fill="#5a4640" opacity="0.7"/><rect x="988.1" y="953.1" width="28.1" height="7.8" fill="url(#bk3)"/><rect x="993.1" y="955.6" width="1" height="1" fill="#5a4640" opacity="0.7"/><rect x="989.8" y="958.7" width="1" height="1" fill="#5a4640" opacity="0.7"/><rect x="999.7" y="957.2" width="1" height="1" fill="#5a4640" opacity="0.7"/><rect x="996.8" y="957.0" width="1" height="1" fill="#5a4640" opacity="0.7"/><rect x="997.5" y="955.5" width="1" height="1" fill="#5a4640" opacity="0.7"/><rect x="1018.0" y="953.1" width="28.1" height="7.8" fill="url(#bk3)"/><rect x="1026.8" y="954.0" width="1" height="1" fill="#5a4640" opacity="0.7"/><rect x="1035.3" y="954.5" width="1" height="1" fill="#5a4640" opacity="0.7"/><rect x="1039.3" y="956.3" width="1" height="1" fill="#5a4640" opacity="0.7"/><rect x="1036.7" y="956.7" width="1" height="1" fill="#5a4640" opacity="0.7"/><rect x="1041.6" y="955.8" width="1" height="1" fill="#5a4640" opacity="0.7"/><rect x="1047.8" y="953.1" width="28.1" height="7.8" fill="url(#bk2)"/><rect x="1057.3" y="959.4" width="1" height="1" fill="#5a4640" opacity="0.7"/><rect x="1065.6" y="956.7" width="1" height="1" fill="#5a4640" opacity="0.7"/><rect x="1062.3" y="958.0" width="1" height="1" fill="#5a4640" opacity="0.7"/><rect x="1066.5" y="959.1" width="1" height="1" fill="#5a4640" opacity="0.7"/><rect x="1059.1" y="958.6" width="1" height="1" fill="#5a4640" opacity="0.7"/><rect x="853.8" y="962.8" width="28.1" height="7.8" fill="url(#bk1)"/><rect x="854.9" y="965.8" width="1" height="1" fill="#5a4640" opacity="0.7"/><rect x="857.1" y="966.2" width="1" height="1" fill="#5a4640" opacity="0.7"/><rect x="868.3" y="963.7" width="1" height="1" fill="#5a4640" opacity="0.7"/><rect x="863.8" y="963.7" width="1" height="1" fill="#5a4640" opacity="0.7"/><rect x="857.6" y="968.9" width="1" height="1" fill="#5a4640" opacity="0.7"/><rect x="883.6" y="962.8" width="28.1" height="7.8" fill="url(#bk1)"/><rect x="903.1" y="969.2" width="1" height="1" fill="#5a4640" opacity="0.7"/><rect x="894.0" y="964.6" width="1" height="1" fill="#5a4640" opacity="0.7"/><rect x="889.8" y="966.0" width="1" height="1" fill="#5a4640" opacity="0.7"/><rect x="892.0" y="969.1" width="1" height="1" fill="#5a4640" opacity="0.7"/><rect x="886.2" y="965.4" width="1" height="1" fill="#5a4640" opacity="0.7"/><rect x="913.5" y="962.8" width="28.1" height="7.8" fill="url(#bk3)"/><rect x="930.7" y="968.0" width="1" height="1" fill="#5a4640" opacity="0.7"/><rect x="919.0" y="964.0" width="1" height="1" fill="#5a4640" opacity="0.7"/><rect x="926.0" y="966.9" width="1" height="1" fill="#5a4640" opacity="0.7"/><rect x="937.1" y="963.8" width="1" height="1" fill="#5a4640" opacity="0.7"/><rect x="917.3" y="964.7" width="1" height="1" fill="#5a4640" opacity="0.7"/><rect x="943.3" y="962.8" width="28.1" height="7.8" fill="url(#bk1)"/><rect x="959.3" y="966.3" width="1" height="1" fill="#5a4640" opacity="0.7"/><rect x="957.0" y="966.1" width="1" height="1" fill="#5a4640" opacity="0.7"/><rect x="966.6" y="965.9" width="1" height="1" fill="#5a4640" opacity="0.7"/><rect x="967.0" y="968.9" width="1" height="1" fill="#5a4640" opacity="0.7"/><rect x="960.0" y="969.0" width="1" height="1" fill="#5a4640" opacity="0.7"/><rect x="973.2" y="962.8" width="28.1" height="7.8" fill="url(#bk1)"/><rect x="980.7" y="968.7" width="1" height="1" fill="#5a4640" opacity="0.7"/><rect x="997.0" y="965.5" width="1" height="1" fill="#5a4640" opacity="0.7"/><rect x="987.9" y="969.1" width="1" height="1" fill="#5a4640" opacity="0.7"/><rect x="986.2" y="964.9" width="1" height="1" fill="#5a4640" opacity="0.7"/><rect x="975.5" y="969.0" width="1" height="1" fill="#5a4640" opacity="0.7"/><rect x="1003.0" y="962.8" width="28.1" height="7.8" fill="url(#bk4)"/><rect x="1028.4" y="968.1" width="1" height="1" fill="#5a4640" opacity="0.7"/><rect x="1023.3" y="968.1" width="1" height="1" fill="#5a4640" opacity="0.7"/><rect x="1005.5" y="968.9" width="1" height="1" fill="#5a4640" opacity="0.7"/><rect x="1026.3" y="968.6" width="1" height="1" fill="#5a4640" opacity="0.7"/><rect x="1026.6" y="966.2" width="1" height="1" fill="#5a4640" opacity="0.7"/><rect x="1032.9" y="962.8" width="28.1" height="7.8" fill="url(#bk4)"/><rect x="1049.0" y="964.5" width="1" height="1" fill="#5a4640" opacity="0.7"/><rect x="1037.8" y="965.4" width="1" height="1" fill="#5a4640" opacity="0.7"/><rect x="1040.4" y="968.6" width="1" height="1" fill="#5a4640" opacity="0.7"/><rect x="1046.8" y="967.2" width="1" height="1" fill="#5a4640" opacity="0.7"/><rect x="1058.6" y="965.1" width="1" height="1" fill="#5a4640" opacity="0.7"/><rect x="1062.7" y="962.8" width="28.1" height="7.8" fill="url(#bk1)"/><rect x="1078.0" y="964.6" width="1" height="1" fill="#5a4640" opacity="0.7"/><rect x="1068.9" y="968.8" width="1" height="1" fill="#5a4640" opacity="0.7"/><rect x="1067.5" y="964.3" width="1" height="1" fill="#5a4640" opacity="0.7"/><rect x="1072.5" y="967.1" width="1" height="1" fill="#5a4640" opacity="0.7"/><rect x="1076.9" y="968.7" width="1" height="1" fill="#5a4640" opacity="0.7"/><rect x="838.8" y="972.5" width="28.1" height="7.8" fill="url(#bk0)"/><rect x="863.7" y="976.6" width="1" height="1" fill="#5a4640" opacity="0.7"/><rect x="861.3" y="975.0" width="1" height="1" fill="#5a4640" opacity="0.7"/><rect x="859.6" y="975.7" width="1" height="1" fill="#5a4640" opacity="0.7"/><rect x="862.7" y="973.8" width="1" height="1" fill="#5a4640" opacity="0.7"/><rect x="860.5" y="974.5" width="1" height="1" fill="#5a4640" opacity="0.7"/><rect x="868.7" y="972.5" width="28.1" height="7.8" fill="url(#bk5)"/><rect x="882.1" y="978.7" width="1" height="1" fill="#5a4640" opacity="0.7"/><rect x="893.8" y="975.1" width="1" height="1" fill="#5a4640" opacity="0.7"/><rect x="879.9" y="976.5" width="1" height="1" fill="#5a4640" opacity="0.7"/><rect x="894.6" y="977.1" width="1" height="1" fill="#5a4640" opacity="0.7"/><rect x="871.5" y="973.7" width="1" height="1" fill="#5a4640" opacity="0.7"/><rect x="898.5" y="972.5" width="28.1" height="7.8" fill="url(#bk0)"/><rect x="909.4" y="975.9" width="1" height="1" fill="#5a4640" opacity="0.7"/><rect x="923.7" y="978.0" width="1" height="1" fill="#5a4640" opacity="0.7"/><rect x="915.9" y="973.4" width="1" height="1" fill="#5a4640" opacity="0.7"/><rect x="909.0" y="977.3" width="1" height="1" fill="#5a4640" opacity="0.7"/><rect x="905.6" y="976.5" width="1" height="1" fill="#5a4640" opacity="0.7"/><rect x="928.4" y="972.5" width="28.1" height="7.8" fill="url(#bk0)"/><rect x="950.8" y="978.1" width="1" height="1" fill="#5a4640" opacity="0.7"/><rect x="947.4" y="978.4" width="1" height="1" fill="#5a4640" opacity="0.7"/><rect x="933.3" y="976.9" width="1" height="1" fill="#5a4640" opacity="0.7"/><rect x="952.8" y="977.6" width="1" height="1" fill="#5a4640" opacity="0.7"/><rect x="953.2" y="977.6" width="1" height="1" fill="#5a4640" opacity="0.7"/><rect x="958.2" y="972.5" width="28.1" height="7.8" fill="url(#bk0)"/><rect x="965.7" y="974.4" width="1" height="1" fill="#5a4640" opacity="0.7"/><rect x="977.5" y="975.2" width="1" height="1" fill="#5a4640" opacity="0.7"/><rect x="982.8" y="976.5" width="1" height="1" fill="#5a4640" opacity="0.7"/><rect x="977.3" y="975.2" width="1" height="1" fill="#5a4640" opacity="0.7"/><rect x="979.9" y="973.8" width="1" height="1" fill="#5a4640" opacity="0.7"/><rect x="988.1" y="972.5" width="28.1" height="7.8" fill="url(#bk0)"/><rect x="992.5" y="976.9" width="1" height="1" fill="#5a4640" opacity="0.7"/><rect x="993.7" y="974.4" width="1" height="1" fill="#5a4640" opacity="0.7"/><rect x="990.1" y="975.9" width="1" height="1" fill="#5a4640" opacity="0.7"/><rect x="1006.7" y="973.9" width="1" height="1" fill="#5a4640" opacity="0.7"/><rect x="990.0" y="978.9" width="1" height="1" fill="#5a4640" opacity="0.7"/><rect x="1018.0" y="972.5" width="28.1" height="7.8" fill="url(#bk1)"/><rect x="1020.9" y="978.5" width="1" height="1" fill="#5a4640" opacity="0.7"/><rect x="1029.7" y="976.2" width="1" height="1" fill="#5a4640" opacity="0.7"/><rect x="1035.1" y="977.7" width="1" height="1" fill="#5a4640" opacity="0.7"/><rect x="1039.5" y="975.5" width="1" height="1" fill="#5a4640" opacity="0.7"/><rect x="1027.3" y="975.6" width="1" height="1" fill="#5a4640" opacity="0.7"/><rect x="1047.8" y="972.5" width="28.1" height="7.8" fill="url(#bk3)"/><rect x="1058.9" y="977.3" width="1" height="1" fill="#5a4640" opacity="0.7"/><rect x="1073.3" y="977.8" width="1" height="1" fill="#5a4640" opacity="0.7"/><rect x="1065.3" y="976.8" width="1" height="1" fill="#5a4640" opacity="0.7"/><rect x="1049.4" y="975.2" width="1" height="1" fill="#5a4640" opacity="0.7"/><rect x="1057.4" y="977.0" width="1" height="1" fill="#5a4640" opacity="0.7"/><rect x="853.8" y="982.2" width="28.1" height="7.8" fill="url(#bk3)"/><rect x="864.2" y="985.9" width="1" height="1" fill="#5a4640" opacity="0.7"/><rect x="874.4" y="987.7" width="1" height="1" fill="#5a4640" opacity="0.7"/><rect x="870.0" y="983.9" width="1" height="1" fill="#5a4640" opacity="0.7"/><rect x="873.9" y="988.1" width="1" height="1" fill="#5a4640" opacity="0.7"/><rect x="868.5" y="985.0" width="1" height="1" fill="#5a4640" opacity="0.7"/><rect x="883.6" y="982.2" width="28.1" height="7.8" fill="url(#bk1)"/><rect x="899.0" y="984.1" width="1" height="1" fill="#5a4640" opacity="0.7"/><rect x="907.9" y="988.7" width="1" height="1" fill="#5a4640" opacity="0.7"/><rect x="902.3" y="988.3" width="1" height="1" fill="#5a4640" opacity="0.7"/><rect x="898.8" y="983.2" width="1" height="1" fill="#5a4640" opacity="0.7"/><rect x="901.1" y="987.4" width="1" height="1" fill="#5a4640" opacity="0.7"/><rect x="913.5" y="982.2" width="28.1" height="7.8" fill="url(#bk3)"/><rect x="926.4" y="985.4" width="1" height="1" fill="#5a4640" opacity="0.7"/><rect x="922.8" y="983.5" width="1" height="1" fill="#5a4640" opacity="0.7"/><rect x="936.2" y="984.5" width="1" height="1" fill="#5a4640" opacity="0.7"/><rect x="936.5" y="985.6" width="1" height="1" fill="#5a4640" opacity="0.7"/><rect x="932.7" y="984.4" width="1" height="1" fill="#5a4640" opacity="0.7"/><rect x="943.3" y="982.2" width="28.1" height="7.8" fill="url(#bk5)"/><rect x="958.3" y="986.2" width="1" height="1" fill="#5a4640" opacity="0.7"/><rect x="951.0" y="988.2" width="1" height="1" fill="#5a4640" opacity="0.7"/><rect x="969.1" y="987.7" width="1" height="1" fill="#5a4640" opacity="0.7"/><rect x="959.3" y="983.7" width="1" height="1" fill="#5a4640" opacity="0.7"/><rect x="964.9" y="984.6" width="1" height="1" fill="#5a4640" opacity="0.7"/><rect x="973.2" y="982.2" width="28.1" height="7.8" fill="url(#bk1)"/><rect x="993.1" y="985.1" width="1" height="1" fill="#5a4640" opacity="0.7"/><rect x="978.4" y="986.4" width="1" height="1" fill="#5a4640" opacity="0.7"/><rect x="994.4" y="985.6" width="1" height="1" fill="#5a4640" opacity="0.7"/><rect x="984.3" y="987.5" width="1" height="1" fill="#5a4640" opacity="0.7"/><rect x="997.4" y="988.7" width="1" height="1" fill="#5a4640" opacity="0.7"/><rect x="1003.0" y="982.2" width="28.1" height="7.8" fill="url(#bk3)"/><rect x="1022.9" y="987.8" width="1" height="1" fill="#5a4640" opacity="0.7"/><rect x="1026.6" y="986.5" width="1" height="1" fill="#5a4640" opacity="0.7"/><rect x="1020.0" y="987.4" width="1" height="1" fill="#5a4640" opacity="0.7"/><rect x="1008.0" y="985.3" width="1" height="1" fill="#5a4640" opacity="0.7"/><rect x="1004.9" y="986.0" width="1" height="1" fill="#5a4640" opacity="0.7"/><rect x="1032.9" y="982.2" width="28.1" height="7.8" fill="url(#bk3)"/><rect x="1044.0" y="984.9" width="1" height="1" fill="#5a4640" opacity="0.7"/><rect x="1037.2" y="984.4" width="1" height="1" fill="#5a4640" opacity="0.7"/><rect x="1057.1" y="983.3" width="1" height="1" fill="#5a4640" opacity="0.7"/><rect x="1053.4" y="987.1" width="1" height="1" fill="#5a4640" opacity="0.7"/><rect x="1053.5" y="985.3" width="1" height="1" fill="#5a4640" opacity="0.7"/><rect x="1062.7" y="982.2" width="28.1" height="7.8" fill="url(#bk0)"/><rect x="1075.5" y="985.3" width="1" height="1" fill="#5a4640" opacity="0.7"/><rect x="1079.3" y="986.9" width="1" height="1" fill="#5a4640" opacity="0.7"/><rect x="1082.6" y="987.3" width="1" height="1" fill="#5a4640" opacity="0.7"/><rect x="1075.9" y="988.7" width="1" height="1" fill="#5a4640" opacity="0.7"/><rect x="1084.6" y="987.9" width="1" height="1" fill="#5a4640" opacity="0.7"/><rect x="838.8" y="991.9" width="28.1" height="7.8" fill="url(#bk4)"/><rect x="842.9" y="993.4" width="1" height="1" fill="#5a4640" opacity="0.7"/><rect x="863.3" y="994.6" width="1" height="1" fill="#5a4640" opacity="0.7"/><rect x="852.9" y="995.1" width="1" height="1" fill="#5a4640" opacity="0.7"/><rect x="840.6" y="997.9" width="1" height="1" fill="#5a4640" opacity="0.7"/><rect x="847.3" y="996.2" width="1" height="1" fill="#5a4640" opacity="0.7"/><rect x="868.7" y="991.9" width="28.1" height="7.8" fill="url(#bk4)"/><rect x="884.6" y="997.0" width="1" height="1" fill="#5a4640" opacity="0.7"/><rect x="877.4" y="996.1" width="1" height="1" fill="#5a4640" opacity="0.7"/><rect x="871.5" y="993.4" width="1" height="1" fill="#5a4640" opacity="0.7"/><rect x="880.9" y="995.6" width="1" height="1" fill="#5a4640" opacity="0.7"/><rect x="879.7" y="993.0" width="1" height="1" fill="#5a4640" opacity="0.7"/><rect x="898.5" y="991.9" width="28.1" height="7.8" fill="url(#bk5)"/><rect x="922.3" y="995.8" width="1" height="1" fill="#5a4640" opacity="0.7"/><rect x="916.0" y="998.1" width="1" height="1" fill="#5a4640" opacity="0.7"/><rect x="921.5" y="998.4" width="1" height="1" fill="#5a4640" opacity="0.7"/><rect x="917.8" y="997.7" width="1" height="1" fill="#5a4640" opacity="0.7"/><rect x="908.8" y="995.8" width="1" height="1" fill="#5a4640" opacity="0.7"/><rect x="928.4" y="991.9" width="28.1" height="7.8" fill="url(#bk1)"/><rect x="935.0" y="997.0" width="1" height="1" fill="#5a4640" opacity="0.7"/><rect x="943.6" y="997.8" width="1" height="1" fill="#5a4640" opacity="0.7"/><rect x="931.9" y="997.2" width="1" height="1" fill="#5a4640" opacity="0.7"/><rect x="932.6" y="995.8" width="1" height="1" fill="#5a4640" opacity="0.7"/><rect x="953.1" y="992.7" width="1" height="1" fill="#5a4640" opacity="0.7"/><rect x="958.2" y="991.9" width="28.1" height="7.8" fill="url(#bk2)"/><rect x="959.9" y="993.7" width="1" height="1" fill="#5a4640" opacity="0.7"/><rect x="970.3" y="995.3" width="1" height="1" fill="#5a4640" opacity="0.7"/><rect x="972.5" y="993.5" width="1" height="1" fill="#5a4640" opacity="0.7"/><rect x="976.6" y="994.0" width="1" height="1" fill="#5a4640" opacity="0.7"/><rect x="967.0" y="995.3" width="1" height="1" fill="#5a4640" opacity="0.7"/><rect x="988.1" y="991.9" width="28.1" height="7.8" fill="url(#bk2)"/><rect x="1001.6" y="998.0" width="1" height="1" fill="#5a4640" opacity="0.7"/><rect x="1013.5" y="995.4" width="1" height="1" fill="#5a4640" opacity="0.7"/><rect x="994.3" y="994.4" width="1" height="1" fill="#5a4640" opacity="0.7"/><rect x="1012.1" y="997.8" width="1" height="1" fill="#5a4640" opacity="0.7"/><rect x="994.1" y="997.5" width="1" height="1" fill="#5a4640" opacity="0.7"/><rect x="1018.0" y="991.9" width="28.1" height="7.8" fill="url(#bk4)"/><rect x="1019.4" y="996.3" width="1" height="1" fill="#5a4640" opacity="0.7"/><rect x="1036.4" y="995.9" width="1" height="1" fill="#5a4640" opacity="0.7"/><rect x="1032.3" y="994.0" width="1" height="1" fill="#5a4640" opacity="0.7"/><rect x="1042.6" y="998.3" width="1" height="1" fill="#5a4640" opacity="0.7"/><rect x="1035.2" y="994.4" width="1" height="1" fill="#5a4640" opacity="0.7"/><rect x="1047.8" y="991.9" width="28.1" height="7.8" fill="url(#bk2)"/><rect x="1070.5" y="996.8" width="1" height="1" fill="#5a4640" opacity="0.7"/><rect x="1052.3" y="996.7" width="1" height="1" fill="#5a4640" opacity="0.7"/><rect x="1072.2" y="995.2" width="1" height="1" fill="#5a4640" opacity="0.7"/><rect x="1050.9" y="994.0" width="1" height="1" fill="#5a4640" opacity="0.7"/><rect x="1056.5" y="996.8" width="1" height="1" fill="#5a4640" opacity="0.7"/><rect x="853.8" y="1001.6" width="28.1" height="7.8" fill="url(#bk1)"/><rect x="872.7" y="1005.3" width="1" height="1" fill="#5a4640" opacity="0.7"/><rect x="862.2" y="1004.0" width="1" height="1" fill="#5a4640" opacity="0.7"/><rect x="874.8" y="1005.4" width="1" height="1" fill="#5a4640" opacity="0.7"/><rect x="857.7" y="1005.3" width="1" height="1" fill="#5a4640" opacity="0.7"/><rect x="879.1" y="1007.5" width="1" height="1" fill="#5a4640" opacity="0.7"/><rect x="883.6" y="1001.6" width="28.1" height="7.8" fill="url(#bk1)"/><rect x="891.6" y="1006.0" width="1" height="1" fill="#5a4640" opacity="0.7"/><rect x="886.9" y="1008.0" width="1" height="1" fill="#5a4640" opacity="0.7"/><rect x="895.6" y="1005.4" width="1" height="1" fill="#5a4640" opacity="0.7"/><rect x="897.9" y="1002.7" width="1" height="1" fill="#5a4640" opacity="0.7"/><rect x="899.6" y="1004.0" width="1" height="1" fill="#5a4640" opacity="0.7"/><rect x="913.5" y="1001.6" width="28.1" height="7.8" fill="url(#bk1)"/><rect x="928.7" y="1003.3" width="1" height="1" fill="#5a4640" opacity="0.7"/><rect x="939.1" y="1003.5" width="1" height="1" fill="#5a4640" opacity="0.7"/><rect x="919.0" y="1006.6" width="1" height="1" fill="#5a4640" opacity="0.7"/><rect x="915.3" y="1006.9" width="1" height="1" fill="#5a4640" opacity="0.7"/><rect x="918.3" y="1007.5" width="1" height="1" fill="#5a4640" opacity="0.7"/><rect x="943.3" y="1001.6" width="28.1" height="7.8" fill="url(#bk1)"/><rect x="958.9" y="1002.4" width="1" height="1" fill="#5a4640" opacity="0.7"/><rect x="966.6" y="1002.7" width="1" height="1" fill="#5a4640" opacity="0.7"/><rect x="946.0" y="1006.8" width="1" height="1" fill="#5a4640" opacity="0.7"/><rect x="967.0" y="1004.2" width="1" height="1" fill="#5a4640" opacity="0.7"/><rect x="956.4" y="1002.6" width="1" height="1" fill="#5a4640" opacity="0.7"/><rect x="973.2" y="1001.6" width="28.1" height="7.8" fill="url(#bk1)"/><rect x="995.3" y="1006.3" width="1" height="1" fill="#5a4640" opacity="0.7"/><rect x="987.2" y="1007.8" width="1" height="1" fill="#5a4640" opacity="0.7"/><rect x="978.6" y="1006.8" width="1" height="1" fill="#5a4640" opacity="0.7"/><rect x="978.4" y="1005.9" width="1" height="1" fill="#5a4640" opacity="0.7"/><rect x="980.1" y="1004.9" width="1" height="1" fill="#5a4640" opacity="0.7"/><rect x="1003.0" y="1001.6" width="28.1" height="7.8" fill="url(#bk1)"/><rect x="1021.9" y="1006.5" width="1" height="1" fill="#5a4640" opacity="0.7"/><rect x="1010.6" y="1005.5" width="1" height="1" fill="#5a4640" opacity="0.7"/><rect x="1025.3" y="1005.8" width="1" height="1" fill="#5a4640" opacity="0.7"/><rect x="1010.6" y="1003.6" width="1" height="1" fill="#5a4640" opacity="0.7"/><rect x="1028.2" y="1002.7" width="1" height="1" fill="#5a4640" opacity="0.7"/><rect x="1032.9" y="1001.6" width="28.1" height="7.8" fill="url(#bk1)"/><rect x="1042.0" y="1005.9" width="1" height="1" fill="#5a4640" opacity="0.7"/><rect x="1049.1" y="1007.0" width="1" height="1" fill="#5a4640" opacity="0.7"/><rect x="1046.5" y="1006.5" width="1" height="1" fill="#5a4640" opacity="0.7"/><rect x="1055.2" y="1002.6" width="1" height="1" fill="#5a4640" opacity="0.7"/><rect x="1036.8" y="1003.4" width="1" height="1" fill="#5a4640" opacity="0.7"/><rect x="1062.7" y="1001.6" width="28.1" height="7.8" fill="url(#bk5)"/><rect x="1083.5" y="1003.8" width="1" height="1" fill="#5a4640" opacity="0.7"/><rect x="1067.4" y="1004.2" width="1" height="1" fill="#5a4640" opacity="0.7"/><rect x="1064.9" y="1004.2" width="1" height="1" fill="#5a4640" opacity="0.7"/><rect x="1079.2" y="1005.4" width="1" height="1" fill="#5a4640" opacity="0.7"/><rect x="1070.4" y="1005.8" width="1" height="1" fill="#5a4640" opacity="0.7"/><rect x="838.8" y="1011.3" width="28.1" height="7.8" fill="url(#bk3)"/><rect x="860.3" y="1013.1" width="1" height="1" fill="#5a4640" opacity="0.7"/><rect x="846.3" y="1013.0" width="1" height="1" fill="#5a4640" opacity="0.7"/><rect x="857.1" y="1016.8" width="1" height="1" fill="#5a4640" opacity="0.7"/><rect x="859.5" y="1012.4" width="1" height="1" fill="#5a4640" opacity="0.7"/><rect x="850.2" y="1014.2" width="1" height="1" fill="#5a4640" opacity="0.7"/><rect x="868.7" y="1011.3" width="28.1" height="7.8" fill="url(#bk0)"/><rect x="873.0" y="1016.4" width="1" height="1" fill="#5a4640" opacity="0.7"/><rect x="884.7" y="1012.9" width="1" height="1" fill="#5a4640" opacity="0.7"/><rect x="888.3" y="1015.1" width="1" height="1" fill="#5a4640" opacity="0.7"/><rect x="894.3" y="1012.1" width="1" height="1" fill="#5a4640" opacity="0.7"/><rect x="880.0" y="1015.1" width="1" height="1" fill="#5a4640" opacity="0.7"/><rect x="898.5" y="1011.3" width="28.1" height="7.8" fill="url(#bk3)"/><rect x="913.5" y="1014.8" width="1" height="1" fill="#5a4640" opacity="0.7"/><rect x="922.9" y="1017.6" width="1" height="1" fill="#5a4640" opacity="0.7"/><rect x="916.5" y="1016.2" width="1" height="1" fill="#5a4640" opacity="0.7"/><rect x="923.9" y="1015.6" width="1" height="1" fill="#5a4640" opacity="0.7"/><rect x="907.0" y="1012.8" width="1" height="1" fill="#5a4640" opacity="0.7"/><rect x="928.4" y="1011.3" width="28.1" height="7.8" fill="url(#bk4)"/><rect x="941.0" y="1017.4" width="1" height="1" fill="#5a4640" opacity="0.7"/><rect x="938.5" y="1014.0" width="1" height="1" fill="#5a4640" opacity="0.7"/><rect x="953.9" y="1015.6" width="1" height="1" fill="#5a4640" opacity="0.7"/><rect x="930.5" y="1014.4" width="1" height="1" fill="#5a4640" opacity="0.7"/><rect x="945.6" y="1012.4" width="1" height="1" fill="#5a4640" opacity="0.7"/><rect x="958.2" y="1011.3" width="28.1" height="7.8" fill="url(#bk0)"/><rect x="982.0" y="1017.1" width="1" height="1" fill="#5a4640" opacity="0.7"/><rect x="982.3" y="1013.1" width="1" height="1" fill="#5a4640" opacity="0.7"/><rect x="980.7" y="1017.4" width="1" height="1" fill="#5a4640" opacity="0.7"/><rect x="964.7" y="1014.3" width="1" height="1" fill="#5a4640" opacity="0.7"/><rect x="960.6" y="1014.5" width="1" height="1" fill="#5a4640" opacity="0.7"/><rect x="988.1" y="1011.3" width="28.1" height="7.8" fill="url(#bk1)"/><rect x="1002.9" y="1013.0" width="1" height="1" fill="#5a4640" opacity="0.7"/><rect x="994.3" y="1013.3" width="1" height="1" fill="#5a4640" opacity="0.7"/><rect x="1000.8" y="1013.9" width="1" height="1" fill="#5a4640" opacity="0.7"/><rect x="1000.3" y="1017.8" width="1" height="1" fill="#5a4640" opacity="0.7"/><rect x="1006.1" y="1017.0" width="1" height="1" fill="#5a4640" opacity="0.7"/><rect x="1018.0" y="1011.3" width="28.1" height="7.8" fill="url(#bk4)"/><rect x="1029.5" y="1012.4" width="1" height="1" fill="#5a4640" opacity="0.7"/><rect x="1025.9" y="1017.5" width="1" height="1" fill="#5a4640" opacity="0.7"/><rect x="1034.5" y="1015.1" width="1" height="1" fill="#5a4640" opacity="0.7"/><rect x="1037.5" y="1015.0" width="1" height="1" fill="#5a4640" opacity="0.7"/><rect x="1033.1" y="1015.8" width="1" height="1" fill="#5a4640" opacity="0.7"/><rect x="1047.8" y="1011.3" width="28.1" height="7.8" fill="url(#bk0)"/><rect x="1057.9" y="1013.0" width="1" height="1" fill="#5a4640" opacity="0.7"/><rect x="1072.2" y="1014.2" width="1" height="1" fill="#5a4640" opacity="0.7"/><rect x="1067.9" y="1016.2" width="1" height="1" fill="#5a4640" opacity="0.7"/><rect x="1071.4" y="1012.2" width="1" height="1" fill="#5a4640" opacity="0.7"/><rect x="1056.9" y="1014.3" width="1" height="1" fill="#5a4640" opacity="0.7"/><rect x="853.8" y="1021.0" width="28.1" height="7.8" fill="url(#bk3)"/><rect x="876.8" y="1023.7" width="1" height="1" fill="#5a4640" opacity="0.7"/><rect x="874.0" y="1024.8" width="1" height="1" fill="#5a4640" opacity="0.7"/><rect x="856.2" y="1024.0" width="1" height="1" fill="#5a4640" opacity="0.7"/><rect x="860.8" y="1022.0" width="1" height="1" fill="#5a4640" opacity="0.7"/><rect x="858.6" y="1025.2" width="1" height="1" fill="#5a4640" opacity="0.7"/><rect x="883.6" y="1021.0" width="28.1" height="7.8" fill="url(#bk3)"/><rect x="892.5" y="1024.2" width="1" height="1" fill="#5a4640" opacity="0.7"/><rect x="898.2" y="1022.6" width="1" height="1" fill="#5a4640" opacity="0.7"/><rect x="902.3" y="1023.3" width="1" height="1" fill="#5a4640" opacity="0.7"/><rect x="902.7" y="1025.6" width="1" height="1" fill="#5a4640" opacity="0.7"/><rect x="888.4" y="1023.0" width="1" height="1" fill="#5a4640" opacity="0.7"/><rect x="913.5" y="1021.0" width="28.1" height="7.8" fill="url(#bk0)"/><rect x="925.7" y="1022.6" width="1" height="1" fill="#5a4640" opacity="0.7"/><rect x="927.4" y="1023.8" width="1" height="1" fill="#5a4640" opacity="0.7"/><rect x="917.1" y="1023.9" width="1" height="1" fill="#5a4640" opacity="0.7"/><rect x="929.7" y="1022.6" width="1" height="1" fill="#5a4640" opacity="0.7"/><rect x="935.6" y="1026.1" width="1" height="1" fill="#5a4640" opacity="0.7"/><rect x="943.3" y="1021.0" width="28.1" height="7.8" fill="url(#bk0)"/><rect x="964.5" y="1027.4" width="1" height="1" fill="#5a4640" opacity="0.7"/><rect x="951.8" y="1025.6" width="1" height="1" fill="#5a4640" opacity="0.7"/><rect x="967.2" y="1023.0" width="1" height="1" fill="#5a4640" opacity="0.7"/><rect x="961.5" y="1025.6" width="1" height="1" fill="#5a4640" opacity="0.7"/><rect x="968.1" y="1026.7" width="1" height="1" fill="#5a4640" opacity="0.7"/><rect x="973.2" y="1021.0" width="28.1" height="7.8" fill="url(#bk0)"/><rect x="980.7" y="1026.4" width="1" height="1" fill="#5a4640" opacity="0.7"/><rect x="977.2" y="1024.6" width="1" height="1" fill="#5a4640" opacity="0.7"/><rect x="986.4" y="1027.1" width="1" height="1" fill="#5a4640" opacity="0.7"/><rect x="981.3" y="1025.8" width="1" height="1" fill="#5a4640" opacity="0.7"/><rect x="979.8" y="1027.1" width="1" height="1" fill="#5a4640" opacity="0.7"/><rect x="1003.0" y="1021.0" width="28.1" height="7.8" fill="url(#bk1)"/><rect x="1008.2" y="1025.6" width="1" height="1" fill="#5a4640" opacity="0.7"/><rect x="1010.1" y="1022.3" width="1" height="1" fill="#5a4640" opacity="0.7"/><rect x="1012.6" y="1024.2" width="1" height="1" fill="#5a4640" opacity="0.7"/><rect x="1007.8" y="1025.1" width="1" height="1" fill="#5a4640" opacity="0.7"/><rect x="1021.5" y="1025.0" width="1" height="1" fill="#5a4640" opacity="0.7"/><rect x="1032.9" y="1021.0" width="28.1" height="7.8" fill="url(#bk0)"/><rect x="1056.4" y="1022.5" width="1" height="1" fill="#5a4640" opacity="0.7"/><rect x="1056.6" y="1027.0" width="1" height="1" fill="#5a4640" opacity="0.7"/><rect x="1040.7" y="1023.9" width="1" height="1" fill="#5a4640" opacity="0.7"/><rect x="1055.0" y="1023.5" width="1" height="1" fill="#5a4640" opacity="0.7"/><rect x="1051.8" y="1026.9" width="1" height="1" fill="#5a4640" opacity="0.7"/><rect x="1062.7" y="1021.0" width="28.1" height="7.8" fill="url(#bk3)"/><rect x="1064.7" y="1023.6" width="1" height="1" fill="#5a4640" opacity="0.7"/><rect x="1073.1" y="1023.5" width="1" height="1" fill="#5a4640" opacity="0.7"/><rect x="1084.1" y="1026.9" width="1" height="1" fill="#5a4640" opacity="0.7"/><rect x="1079.8" y="1024.0" width="1" height="1" fill="#5a4640" opacity="0.7"/><rect x="1072.3" y="1026.9" width="1" height="1" fill="#5a4640" opacity="0.7"/><rect x="838.8" y="1030.7" width="28.1" height="7.8" fill="url(#bk3)"/><rect x="857.5" y="1032.7" width="1" height="1" fill="#5a4640" opacity="0.7"/><rect x="841.8" y="1031.8" width="1" height="1" fill="#5a4640" opacity="0.7"/><rect x="853.4" y="1035.0" width="1" height="1" fill="#5a4640" opacity="0.7"/><rect x="841.5" y="1031.9" width="1" height="1" fill="#5a4640" opacity="0.7"/><rect x="851.5" y="1034.1" width="1" height="1" fill="#5a4640" opacity="0.7"/><rect x="868.7" y="1030.7" width="28.1" height="7.8" fill="url(#bk4)"/><rect x="870.7" y="1032.3" width="1" height="1" fill="#5a4640" opacity="0.7"/><rect x="882.4" y="1033.3" width="1" height="1" fill="#5a4640" opacity="0.7"/><rect x="878.8" y="1037.1" width="1" height="1" fill="#5a4640" opacity="0.7"/><rect x="873.5" y="1032.6" width="1" height="1" fill="#5a4640" opacity="0.7"/><rect x="875.5" y="1035.4" width="1" height="1" fill="#5a4640" opacity="0.7"/><rect x="898.5" y="1030.7" width="28.1" height="7.8" fill="url(#bk0)"/><rect x="922.7" y="1037.1" width="1" height="1" fill="#5a4640" opacity="0.7"/><rect x="899.7" y="1034.6" width="1" height="1" fill="#5a4640" opacity="0.7"/><rect x="920.7" y="1035.9" width="1" height="1" fill="#5a4640" opacity="0.7"/><rect x="901.6" y="1036.2" width="1" height="1" fill="#5a4640" opacity="0.7"/><rect x="921.6" y="1035.4" width="1" height="1" fill="#5a4640" opacity="0.7"/><rect x="928.4" y="1030.7" width="28.1" height="7.8" fill="url(#bk2)"/><rect x="938.1" y="1036.6" width="1" height="1" fill="#5a4640" opacity="0.7"/><rect x="937.3" y="1035.6" width="1" height="1" fill="#5a4640" opacity="0.7"/><rect x="946.8" y="1035.4" width="1" height="1" fill="#5a4640" opacity="0.7"/><rect x="953.5" y="1036.2" width="1" height="1" fill="#5a4640" opacity="0.7"/><rect x="933.5" y="1035.0" width="1" height="1" fill="#5a4640" opacity="0.7"/><rect x="958.2" y="1030.7" width="28.1" height="7.8" fill="url(#bk5)"/><rect x="966.6" y="1033.9" width="1" height="1" fill="#5a4640" opacity="0.7"/><rect x="968.5" y="1035.3" width="1" height="1" fill="#5a4640" opacity="0.7"/><rect x="971.7" y="1035.2" width="1" height="1" fill="#5a4640" opacity="0.7"/><rect x="968.4" y="1035.5" width="1" height="1" fill="#5a4640" opacity="0.7"/><rect x="982.1" y="1035.7" width="1" height="1" fill="#5a4640" opacity="0.7"/><rect x="988.1" y="1030.7" width="28.1" height="7.8" fill="url(#bk0)"/><rect x="1009.5" y="1036.5" width="1" height="1" fill="#5a4640" opacity="0.7"/><rect x="996.9" y="1036.3" width="1" height="1" fill="#5a4640" opacity="0.7"/><rect x="1001.9" y="1035.4" width="1" height="1" fill="#5a4640" opacity="0.7"/><rect x="990.2" y="1035.0" width="1" height="1" fill="#5a4640" opacity="0.7"/><rect x="999.5" y="1034.2" width="1" height="1" fill="#5a4640" opacity="0.7"/><rect x="1018.0" y="1030.7" width="28.1" height="7.8" fill="url(#bk4)"/><rect x="1031.7" y="1036.0" width="1" height="1" fill="#5a4640" opacity="0.7"/><rect x="1028.8" y="1035.6" width="1" height="1" fill="#5a4640" opacity="0.7"/><rect x="1025.3" y="1035.6" width="1" height="1" fill="#5a4640" opacity="0.7"/><rect x="1027.2" y="1033.4" width="1" height="1" fill="#5a4640" opacity="0.7"/><rect x="1037.9" y="1036.3" width="1" height="1" fill="#5a4640" opacity="0.7"/><rect x="1047.8" y="1030.7" width="28.1" height="7.8" fill="url(#bk5)"/><rect x="1073.3" y="1035.2" width="1" height="1" fill="#5a4640" opacity="0.7"/><rect x="1052.0" y="1035.7" width="1" height="1" fill="#5a4640" opacity="0.7"/><rect x="1055.6" y="1032.4" width="1" height="1" fill="#5a4640" opacity="0.7"/><rect x="1053.9" y="1035.0" width="1" height="1" fill="#5a4640" opacity="0.7"/><rect x="1056.2" y="1035.2" width="1" height="1" fill="#5a4640" opacity="0.7"/>
<rect x="854.4" y="1031.4" width="207.8" height="28.2" fill="#fff"/>
<path d="M873.3,1031.4 V974.4 Q874.7,943.9 909.4,928.6 Q958.6,913.3 1008.1,928.6 Q1042.8,943.9 1044.2,974.4 V1031.4 Z" fill="#a9a9a9" stroke="#4a4a4a" stroke-width="0.9"/>
<path d="M876.9,1031.4 V974.7 Q878.6,946.1 911.1,931.7 Q958.6,916.7 1006.1,931.7 Q1039.2,946.1 1040.6,974.7 V1031.4" fill="none" stroke="#505050" stroke-width="6.6" stroke-dasharray="0.9 6.4"/>
<path d="M884.2,1031.4 V975.3 Q885.8,950.0 914.4,937.8 Q958.6,923.9 1002.8,937.8 Q1032.5,950.0 1033.9,975.3 V1031.4" fill="none" stroke="#505050" stroke-width="6.6" stroke-dasharray="0.9 6.4" stroke-dashoffset="3.6"/>
<path d="M880.6,1031.4 V975.0 Q882.2,948.1 912.8,934.7 Q958.6,920.3 1004.4,934.7 Q1035.8,948.1 1037.2,975.0 V1031.4" fill="none" stroke="#505050" stroke-width="0.9"/>
<radialGradient id="tg" cx="0.5" cy="0.62" r="0.6"><stop offset="0" stop-color="#000"/><stop offset="0.45" stop-color="#0c0806"/><stop offset="1" stop-color="#2a1c16"/></radialGradient>
<path d="M887.8,1031.4 V975.8 Q889.4,952.2 916.4,941.1 Q958.6,927.2 1001.1,941.1 Q1028.9,952.2 1030.6,975.8 V1031.4 Z" fill="url(#tg)" stroke="#1a120e" stroke-width="0.8"/>
<path d="M931.7,993.9 V974.4 Q933.1,960.6 958.6,959.2 Q983.9,960.6 985.0,974.4 V993.9 Z" fill="#000"/>
<polygon points="941.4,988.3 975.3,988.3 1062.2,1058.6 854.4,1058.6" fill="#161616"/>
<polygon points="940.6,988.3 942.8,988.3 866.4,1058.6 854.4,1058.6" fill="#fff"/>
<polygon points="940.0,989.7 941.1,988.9 859.4,1058.6 856.1,1058.6" fill="#222"/>
<polygon points="973.9,988.3 976.1,988.3 1062.2,1058.6 1050.3,1058.6" fill="#fff"/>
<polygon points="975.6,988.9 976.7,989.7 1060.6,1058.6 1057.2,1058.6" fill="#222"/>
<polygon points="956.7,986.9 959.7,986.9 962.2,1058.6 953.3,1058.6" fill="#fff"/>
<polygon points="957.9,986.9 958.5,986.9 958.9,1058.6 956.9,1058.6" fill="#111"/>
</g></g>

<!-- 54_gps.frag -->
<g id="gps">
<rect x="1122.2" y="815.0" width="9.7" height="56.7" rx="4.5" fill="#2f2b37"/>
<rect x="1320.7" y="815.0" width="10.5" height="56.7" rx="4.5" fill="#2f2b37"/>
<rect x="1129.5" y="764.4" width="193.7" height="155.6" rx="15" fill="#302c38"/>
<rect x="1141.6" y="785.8" width="170.2" height="125.6" rx="13" fill="#141414"/>
<clipPath id="gclip"><rect x="1145.3" y="789.0" width="162.4" height="119.1" rx="10"/></clipPath>
<g clip-path="url(#gclip)">
<rect x="1145.3" y="789.0" width="162.4" height="119.1" fill="#e0d4c9"/>
<polygon points="1172.4,814.2 1191.9,798.8 1207.3,819.0 1205.6,831.2 1194.3,840.9" fill="#b0a59d"/>
<polygon points="1198.3,879.8 1239.7,856.3 1255.9,878.2 1217.0,902.5" fill="#b0a59d"/>
<polygon points="1280.2,831.2 1307.7,815.0 1307.7,865.2" fill="#b0a59d"/>
<polygon points="1145.3,824.7 1148.9,836.0 1148.9,878.2 1145.3,881.4" fill="#b0a59d"/>
<polygon points="1255.1,798.8 1264.8,792.3 1275.3,803.6 1265.6,810.9" fill="#91d453"/>
<polygon points="1165.9,867.6 1176.5,859.5 1186.2,870.1 1184.6,889.5 1174.8,884.7" fill="#91d453"/>
<polygon points="1145.3,884.7 1152.1,881.4 1163.5,892.8 1178.1,908.2 1145.3,908.2" fill="#91d453"/>
<polygon points="1244.5,908.2 1261.6,898.4 1266.4,908.2" fill="#91d453"/>
<polygon points="1290.7,880.6 1307.7,870.1 1307.7,900.9" fill="#91d453"/>
<path d="M1145.3,808.5 Q1163.5,832.8 1161.9,865.2 Q1163.5,884.7 1207.3,908.2 L1186.2,908.2 Q1153.8,889.5 1150.5,865.2 Q1152.1,839.3 1145.3,824.7 Z" fill="#91c9e9" stroke="#fff" stroke-width="2"/>
<path d="M1145.3,836.0 L1200.8,789.8" stroke="#fff" stroke-width="2.2" fill="none"/>
<path d="M1163.5,839.3 L1145.3,852.3" stroke="#fff" stroke-width="2.2" fill="none"/>
<path d="M1145.3,883.0 L1205.6,834.4" stroke="#fff" stroke-width="2.2" fill="none"/>
<path d="M1226.7,816.6 L1273.7,789.0" stroke="#fff" stroke-width="2.2" fill="none"/>
<path d="M1178.1,858.7 L1205.6,834.4" stroke="#fff" stroke-width="2.2" fill="none"/>
<path d="M1265.6,811.7 L1307.7,787.4" stroke="#fff" stroke-width="2.2" fill="none"/>
<path d="M1277.8,831.2 L1307.7,812.5" stroke="#fff" stroke-width="2.2" fill="none"/>
<path d="M1247.8,863.6 L1285.1,841.7" stroke="#fff" stroke-width="2.2" fill="none"/>
<path d="M1249.4,865.2 L1307.7,831.2" stroke="#fff" stroke-width="2.2" fill="none"/>
<path d="M1217.0,903.3 L1256.7,879.0" stroke="#fff" stroke-width="2.2" fill="none"/>
<path d="M1262.4,897.6 L1307.7,869.3" stroke="#fff" stroke-width="2.2" fill="none"/>
<path d="M1239.7,908.2 L1289.9,879.8" stroke="#fff" stroke-width="2.2" fill="none"/>
<path d="M1195.9,880.6 L1239.7,856.3" stroke="#fff" stroke-width="2.2" fill="none"/>
<path d="M1256.7,843.3 L1280.2,830.4" stroke="#fff" stroke-width="2.2" fill="none"/>
<path d="M1153.8,789.8 L1194.3,841.7" stroke="#fff" stroke-width="2.2" fill="none"/>
<path d="M1187.8,789.8 L1208.9,817.4" stroke="#fff" stroke-width="2.2" fill="none"/>
<path d="M1223.5,834.4 L1269.7,889.5" stroke="#fff" stroke-width="2.2" fill="none"/>
<path d="M1244.5,789.8 L1307.7,866.8" stroke="#fff" stroke-width="2.2" fill="none"/>
<path d="M1265.6,789.8 L1278.6,803.6" stroke="#fff" stroke-width="2.2" fill="none"/>
<path d="M1178.9,858.7 L1217.8,903.3" stroke="#fff" stroke-width="2.2" fill="none"/>
<path d="M1288.3,880.6 L1304.5,900.9" stroke="#fff" stroke-width="2.2" fill="none"/>
<path d="M1261.6,897.6 L1268.0,908.2" stroke="#fff" stroke-width="2.2" fill="none"/>
<path d="M1161.9,865.2 L1145.3,878.2" stroke="#fff" stroke-width="2.2" fill="none"/>
<circle cx="1216.2" cy="824.7" r="12.2" fill="#fff"/>
<circle cx="1216.2" cy="824.7" r="9.4" fill="#91d453"/>
<path d="M1254.3,843.8 L1195.9,880.1 L1186.2,869.3 L1184.6,908.2" stroke="#b83020" stroke-width="0.9" fill="none"/>
<path d="M1254.3,843.8 Q1247.0,831.2 1247.0,823.9 A7.8,7.8 0 0 1 1262.5,823.9 Q1262.5,831.2 1254.3,843.8 Z" fill="#b83020"/>
<circle cx="1254.7" cy="823.9" r="5.0" fill="#fff"/>
</g>
<circle cx="1158.1" cy="776.1" r="4.9" fill="none" stroke="#eee" stroke-width="0.6"/>
<path d="M1158.1,771.2 V780.9 M1153.3,776.1 H1163.0 M1154.1,773.5 H1162.2 M1154.1,778.7 H1162.2" stroke="#eee" stroke-width="0.5"/>
<ellipse cx="1158.1" cy="776.1" rx="2.4" ry="4.9" fill="none" stroke="#eee" stroke-width="0.5"/>
<text x="1165.4" y="779.3" font-size="7.6" font-weight="bold" fill="#f4f4f4">GPS</text>
<circle cx="1285.4" cy="775.6" r="7.3" fill="#17141b"/>
<circle cx="1285.4" cy="775.6" r="2.6" fill="#e01020"/>
</g>

<!-- 60_cop2.frag -->
<g id="cop2">
<rect x="1767.0" y="628.1" width="7.0" height="108.2" rx="3.4" fill="#24303c"/>
<rect x="1767.0" y="643.0" width="7.0" height="13.8" fill="#dcdcd4"/>
<rect x="1767.0" y="671.8" width="7.0" height="13.2" fill="#dcdcd4"/>
<path d="M1679.6,783.6 H1743.6 L1744.8,831.5 H1712.0 L1709.5,808.1 L1707.8,831.5 H1679.2 Z" fill="#24303c"/>
<path d="M1642.4,684.6 Q1654.1,687.8 1665.8,683.5 L1669.0,703.7 L1683.9,695.2 L1681.8,731.4 Q1658.3,735.7 1647.7,733.6 Q1641.3,729.3 1641.7,712.2 Z" fill="#9ab4c8"/>
<path d="M1740.4,696.3 Q1752.1,699.5 1756.3,710.1 L1764.9,729.3 L1762.3,717.6 L1778.7,716.5 Q1781.9,742.1 1773.4,757.0 Q1764.9,763.4 1756.3,757.0 L1742.5,729.3 Z" fill="#9ab4c8"/>
<path d="M1694.6,694.1 L1710.5,688.8 L1728.6,694.1 L1710.5,733.6 Z" fill="#a8c0d4"/>
<path d="M1702.0,680.3 H1723.3 V695.2 L1711.6,703.7 L1702.0,695.2 Z" fill="#e8b088"/>
<path d="M1682.2,697.3 L1695.6,693.7 L1710.5,732.5 L1729.1,693.7 L1743.1,697.3 Q1745.7,737.8 1745.3,783.6 Q1711.6,787.9 1677.9,783.6 Q1677.5,737.8 1682.2,697.3 Z" fill="#c5c553" stroke="#24303c" stroke-width="1.3" stroke-linejoin="round"/>
<path d="M1709.5,731.4 V784.7" stroke="#24303c" stroke-width="1.3"/>
<rect x="1678.6" y="748.5" width="66.0" height="9.6" fill="#d8d8d0"/>
<rect x="1678.2" y="763.8" width="66.9" height="9.8" fill="#d8d8d0"/>
<path d="M1709.5,746.3 V775.1" stroke="#c5c553" stroke-width="2.2"/>
<rect x="1724.8" y="719.1" width="11.5" height="7.0" rx="1" fill="#24303c"/>
<path d="M1702.0,686.7 Q1698.8,710.1 1710.5,715.4 Q1718.0,714.4 1721.8,706.9" stroke="#24303c" stroke-width="0.7" fill="none"/>
<path d="M1761.7,710.1 Q1769.1,703.7 1778.7,710.1 Q1783.0,720.8 1776.6,731.4 Q1769.1,735.7 1764.9,729.3 Q1760.6,718.6 1761.7,710.1 Z" fill="#e8b088"/>
<rect x="1767.4" y="726.1" width="6.2" height="10.2" rx="3" fill="#24303c"/>
<path d="M1643.4,652.6 Q1646.6,646.2 1649.8,649.4 Q1652.0,642.0 1656.2,645.1 Q1660.5,642.0 1662.6,649.4 L1663.7,667.5 Q1665.8,660.1 1670.1,661.1 Q1670.1,671.8 1665.8,680.3 Q1660.5,688.8 1649.8,687.1 Q1642.4,682.4 1643.0,669.6 Z" fill="#e8b088"/>
<ellipse cx="1690.3" cy="667.5" rx="3.8" ry="6.0" fill="#e8b088"/>
<ellipse cx="1731.2" cy="667.5" rx="3.8" ry="6.0" fill="#e8b088"/>
<path d="M1690.3,652.6 H1730.8 V671.8 Q1728.6,690.9 1711.6,694.1 Q1693.5,690.9 1690.3,671.8 Z" fill="#e8b088"/>
<path d="M1688.6,652.6 H1693.5 V662.2 L1689.2,666.4 Z M1726.5,652.6 H1732.5 L1731.2,663.3 L1726.1,661.1 Z" fill="#24303c"/>
<ellipse cx="1698.8" cy="666.4" rx="1.7" ry="2.3" fill="#24303c"/><ellipse cx="1715.9" cy="666.4" rx="1.7" ry="2.3" fill="#24303c"/>
<path d="M1694.6,660.1 L1702.0,659.0 M1712.7,659.0 L1720.1,660.1" stroke="#24303c" stroke-width="1"/>
<circle cx="1703.7" cy="682.0" r="3.8" fill="#a8bcd0" stroke="#24303c" stroke-width="0.6"/>
<circle cx="1706.3" cy="678.6" r="2.1" fill="#24303c"/>
<path d="M1685.0,681.4 L1690.3,682.9 M1686.5,688.4 L1690.7,686.3" stroke="#24303c" stroke-width="0.7"/>
<path d="M1687.7,653.7 Q1710.5,657.9 1732.9,653.7 L1732.5,648.3 H1688.2 Z" fill="#24303c"/>
<path d="M1686.5,647.9 Q1710.5,639.8 1734.0,647.9 L1732.9,652.2 Q1710.5,645.1 1687.7,652.2 Z" fill="#e4e4dc"/>
<path d="M1687.1,648.3 Q1679.6,642.0 1682.8,635.6 Q1694.6,621.7 1710.5,621.7 Q1726.5,621.7 1737.6,635.6 Q1741.0,642.0 1733.3,648.3 Q1710.5,640.9 1687.1,648.3 Z" fill="#24303c"/>
<circle cx="1709.0" cy="633.9" r="4.9" fill="#e4e4dc"/>
</g>

<!-- 70_boxes.frag -->
<g id="boxes" font-weight="bold" fill="#000">
<rect x="12.25" y="371.45" width="216.30" height="147.00" fill="#9ddffd" stroke="#000" stroke-width="4.7"/>
<text x="43.90" y="395.50" font-size="15.2" textLength="153" lengthAdjust="spacingAndGlyphs">Layer 7: Application</text>
<rect x="43.90" y="397.10" width="153.00" height="1.1" fill="#111"/>
<text x="56.10" y="417.50" font-size="15.2" textLength="128.6" lengthAdjust="spacingAndGlyphs">Human end-user</text>
<text x="28.95" y="439.50" font-size="15.2" textLength="182.9" lengthAdjust="spacingAndGlyphs">interacts with software,</text>
<text x="46.25" y="461.50" font-size="15.2" textLength="148.3" lengthAdjust="spacingAndGlyphs">which accesses the</text>
<text x="23.45" y="483.50" font-size="15.2" textLength="193.9" lengthAdjust="spacingAndGlyphs">internet (HTTP, FTP, DNS,</text>
<text x="83.95" y="505.50" font-size="15.2" textLength="72.9" lengthAdjust="spacingAndGlyphs">software)</text>
<rect x="427.75" y="359.65" width="205.30" height="122.60" fill="#9dfce4" stroke="#000" stroke-width="4.7"/>
<text x="447.55" y="394.00" font-size="15.2" textLength="165.7" lengthAdjust="spacingAndGlyphs">Layer 6: Presentation</text>
<rect x="447.55" y="395.60" width="165.70" height="1.1" fill="#111"/>
<text x="435.55" y="415.80" font-size="15.2" textLength="189.7" lengthAdjust="spacingAndGlyphs">Translates data between</text>
<text x="435.80" y="437.60" font-size="15.2" textLength="189.2" lengthAdjust="spacingAndGlyphs">application and network</text>
<text x="478.15" y="459.40" font-size="15.2" textLength="104.5" lengthAdjust="spacingAndGlyphs">formats (SSL)</text>
<rect x="669.55" y="358.45" width="205.40" height="125.10" fill="#9dfca5" stroke="#000" stroke-width="4.7"/>
<text x="710.30" y="383.00" font-size="15.2" textLength="123.9" lengthAdjust="spacingAndGlyphs">Layer 5: Session</text>
<rect x="710.30" y="384.60" width="123.90" height="1.1" fill="#111"/>
<text x="678.75" y="404.85" font-size="15.2" textLength="187" lengthAdjust="spacingAndGlyphs">Connection is made and</text>
<text x="692.70" y="426.70" font-size="15.2" textLength="159.1" lengthAdjust="spacingAndGlyphs">maintained between</text>
<text x="695.15" y="448.55" font-size="15.2" textLength="154.2" lengthAdjust="spacingAndGlyphs">sender and receiver</text>
<text x="724.50" y="470.40" font-size="15.2" textLength="95.5" lengthAdjust="spacingAndGlyphs">applications</text>
<rect x="1101.45" y="358.05" width="204.95" height="125.60" fill="#9dfca5" stroke="#000" stroke-width="4.7"/>
<text x="1141.67" y="383.30" font-size="15.2" textLength="124.5" lengthAdjust="spacingAndGlyphs">Layer 5: Session</text>
<rect x="1141.67" y="384.90" width="124.50" height="1.1" fill="#111"/>
<text x="1150.52" y="405.20" font-size="15.2" textLength="106.8" lengthAdjust="spacingAndGlyphs">Connection is</text>
<text x="1124.12" y="427.10" font-size="15.2" textLength="159.6" lengthAdjust="spacingAndGlyphs">maintained between</text>
<text x="1126.83" y="449.00" font-size="15.2" textLength="154.2" lengthAdjust="spacingAndGlyphs">sender and receiver</text>
<text x="1156.02" y="470.90" font-size="15.2" textLength="95.8" lengthAdjust="spacingAndGlyphs">applications</text>
<rect x="1377.55" y="360.15" width="204.90" height="122.40" fill="#9dfce4" stroke="#000" stroke-width="4.7"/>
<text x="1397.05" y="394.30" font-size="15.2" textLength="165.9" lengthAdjust="spacingAndGlyphs">Layer 6: Presentation</text>
<rect x="1397.05" y="395.90" width="165.90" height="1.1" fill="#111"/>
<text x="1401.60" y="416.20" font-size="15.2" textLength="156.8" lengthAdjust="spacingAndGlyphs">Data is unencrypted</text>
<text x="1393.15" y="438.10" font-size="15.2" textLength="173.7" lengthAdjust="spacingAndGlyphs">into a readable format</text>
<text x="1460.75" y="460.00" font-size="15.2" textLength="38.5" lengthAdjust="spacingAndGlyphs">(SSL)</text>
<rect x="1644.55" y="378.65" width="215.90" height="148.00" fill="#9ddffd" stroke="#000" stroke-width="4.7"/>
<text x="1675.95" y="402.60" font-size="15.2" textLength="153.1" lengthAdjust="spacingAndGlyphs">Layer 7: Application</text>
<rect x="1675.95" y="404.20" width="153.10" height="1.1" fill="#111"/>
<text x="1687.85" y="424.55" font-size="15.2" textLength="129.3" lengthAdjust="spacingAndGlyphs">Human end-user</text>
<text x="1660.80" y="446.50" font-size="15.2" textLength="183.4" lengthAdjust="spacingAndGlyphs">interacts with software,</text>
<text x="1664.20" y="468.45" font-size="15.2" textLength="176.6" lengthAdjust="spacingAndGlyphs">which obtains the data</text>
<text x="1689.30" y="490.40" font-size="15.2" textLength="126.4" lengthAdjust="spacingAndGlyphs">(HTTP, FTP, DNS,</text>
<text x="1715.90" y="512.35" font-size="15.2" textLength="73.2" lengthAdjust="spacingAndGlyphs">software)</text>
<rect x="640.05" y="580.05" width="192.80" height="125.40" fill="#d5fd7d" stroke="#000" stroke-width="4.7"/>
<text x="677.85" y="601.80" font-size="12.4" textLength="117.2" lengthAdjust="spacingAndGlyphs">Layer 4: Transport</text>
<rect x="677.85" y="603.40" width="117.20" height="1.1" fill="#111"/>
<text x="676.85" y="619.75" font-size="12.4" textLength="119.2" lengthAdjust="spacingAndGlyphs">Data segments are</text>
<text x="679.30" y="637.70" font-size="12.4" textLength="114.3" lengthAdjust="spacingAndGlyphs">transmitted using</text>
<text x="648.15" y="655.65" font-size="12.4" textLength="176.6" lengthAdjust="spacingAndGlyphs">transmission protocols and</text>
<text x="669.05" y="673.60" font-size="12.4" textLength="134.8" lengthAdjust="spacingAndGlyphs">ensures reliable data</text>
<text x="674.80" y="691.55" font-size="12.4" textLength="123.3" lengthAdjust="spacingAndGlyphs">transfer (TCP, UDP)</text>
<rect x="1130.25" y="579.75" width="192.50" height="125.90" fill="#d5fd7d" stroke="#000" stroke-width="4.7"/>
<text x="1167.90" y="601.80" font-size="12.4" textLength="117.2" lengthAdjust="spacingAndGlyphs">Layer 4: Transport</text>
<rect x="1167.90" y="603.40" width="117.20" height="1.1" fill="#111"/>
<text x="1166.90" y="619.75" font-size="12.4" textLength="119.2" lengthAdjust="spacingAndGlyphs">Data segments are</text>
<text x="1169.35" y="637.70" font-size="12.4" textLength="114.3" lengthAdjust="spacingAndGlyphs">transmitted using</text>
<text x="1138.20" y="655.65" font-size="12.4" textLength="176.6" lengthAdjust="spacingAndGlyphs">transmission protocols and</text>
<text x="1159.10" y="673.60" font-size="12.4" textLength="134.8" lengthAdjust="spacingAndGlyphs">ensures reliable data</text>
<text x="1164.85" y="691.55" font-size="12.4" textLength="123.3" lengthAdjust="spacingAndGlyphs">transfer (TCP, UDP)</text>
<rect x="377.65" y="697.35" width="192.60" height="125.00" fill="#fdc49d" stroke="#000" stroke-width="4.7"/>
<text x="413.95" y="723.40" font-size="13.7" textLength="120" lengthAdjust="spacingAndGlyphs">Layer 3: Network</text>
<rect x="413.95" y="725.00" width="120.00" height="1.1" fill="#111"/>
<text x="386.55" y="743.40" font-size="13.7" textLength="174.8" lengthAdjust="spacingAndGlyphs">Packets are routed using</text>
<text x="410.40" y="763.40" font-size="13.7" textLength="127.1" lengthAdjust="spacingAndGlyphs">the receiver’s and</text>
<text x="385.25" y="783.40" font-size="13.7" textLength="177.4" lengthAdjust="spacingAndGlyphs">sender’s IP addresses (IP</text>
<text x="420.60" y="803.40" font-size="13.7" textLength="106.7" lengthAdjust="spacingAndGlyphs">address, ICMP)</text>
<rect x="1366.25" y="704.55" width="192.70" height="135.20" fill="#fdc49d" stroke="#000" stroke-width="4.7"/>
<text x="1402.80" y="727.30" font-size="13.7" textLength="119.6" lengthAdjust="spacingAndGlyphs">Layer 3: Network</text>
<rect x="1402.80" y="728.90" width="119.60" height="1.1" fill="#111"/>
<text x="1374.85" y="747.35" font-size="13.7" textLength="175.5" lengthAdjust="spacingAndGlyphs">Packets are reassembled</text>
<text x="1397.30" y="767.40" font-size="13.7" textLength="130.6" lengthAdjust="spacingAndGlyphs">into segments and</text>
<text x="1378.95" y="787.45" font-size="13.7" textLength="167.3" lengthAdjust="spacingAndGlyphs">routed to the receiver’s</text>
<text x="1382.10" y="807.50" font-size="13.7" textLength="161" lengthAdjust="spacingAndGlyphs">IP address (IP address,</text>
<text x="1441.50" y="827.55" font-size="13.7" textLength="42.2" lengthAdjust="spacingAndGlyphs">ICMP)</text>
<rect x="110.85" y="836.75" width="192.30" height="125.30" fill="#fda59d" stroke="#000" stroke-width="4.7"/>
<text x="149.60" y="858.80" font-size="12.4" textLength="114.8" lengthAdjust="spacingAndGlyphs">Layer 2: Data Link</text>
<rect x="149.60" y="860.40" width="114.80" height="1.1" fill="#111"/>
<text x="120.90" y="876.70" font-size="12.4" textLength="172.2" lengthAdjust="spacingAndGlyphs">Packages data into frames,</text>
<text x="139.05" y="894.60" font-size="12.4" textLength="135.9" lengthAdjust="spacingAndGlyphs">which are sent to the</text>
<text x="135.35" y="912.50" font-size="12.4" textLength="143.3" lengthAdjust="spacingAndGlyphs">receiver using its MAC</text>
<text x="127.00" y="930.40" font-size="12.4" textLength="160" lengthAdjust="spacingAndGlyphs">address (Wi-Fi, Ethernet,</text>
<text x="162.20" y="948.30" font-size="12.4" textLength="89.6" lengthAdjust="spacingAndGlyphs">MAC address)</text>
<rect x="1618.15" y="833.55" width="192.80" height="126.10" fill="#fda59d" stroke="#000" stroke-width="4.7"/>
<text x="1657.40" y="864.80" font-size="12.4" textLength="114.3" lengthAdjust="spacingAndGlyphs">Layer 2: Data Link</text>
<rect x="1657.40" y="866.40" width="114.30" height="1.1" fill="#111"/>
<text x="1632.25" y="882.75" font-size="12.4" textLength="164.6" lengthAdjust="spacingAndGlyphs">Frames are unpacked and</text>
<text x="1632.65" y="900.70" font-size="12.4" textLength="163.8" lengthAdjust="spacingAndGlyphs">sent to the receiver using</text>
<text x="1640.50" y="918.65" font-size="12.4" textLength="148.1" lengthAdjust="spacingAndGlyphs">its MAC address (Wi-Fi,</text>
<text x="1637.80" y="936.60" font-size="12.4" textLength="153.5" lengthAdjust="spacingAndGlyphs">Ethernet, MAC address)</text>
<rect x="864.05" y="790.65" width="192.50" height="87.00" fill="#fda5fd" stroke="#000" stroke-width="4.7"/>
<text x="906.55" y="811.80" font-size="12.4" textLength="107.5" lengthAdjust="spacingAndGlyphs">Layer 1: Physical</text>
<rect x="906.55" y="813.40" width="107.50" height="1.1" fill="#111"/>
<text x="898.20" y="829.67" font-size="12.4" textLength="124.2" lengthAdjust="spacingAndGlyphs">Data is transmitted</text>
<text x="881.00" y="847.54" font-size="12.4" textLength="158.6" lengthAdjust="spacingAndGlyphs">physically as bit streams</text>
<text x="915.15" y="865.41" font-size="12.4" textLength="90.3" lengthAdjust="spacingAndGlyphs">(cables, Wi-Fi)</text>
</g>

<!-- 75_cop1.frag -->
<g id="cop1">
<path d="M145.0,745.4 L162.6,790.2" stroke="#1c1c1c" stroke-width="8.4" stroke-linecap="round"/>
<path d="M145.0,745.4 L162.6,790.2" stroke="#fff" stroke-width="6.2" stroke-linecap="round"/>
<path d="M145.0,745.4 L162.6,790.2" stroke="#222" stroke-width="6.4" stroke-dasharray="8 8" stroke-dashoffset="-7"/>
<path d="M156.4,774.4 L162.6,790.2" stroke="#333" stroke-width="6.4" stroke-linecap="round"/>
<path d="M181.9,800.8 L190.7,833.3 L205.7,833.3 L208.0,813.1 L211.8,813.1 L214.1,833.3 L229.1,833.3 L237.3,800.8 Z" fill="#384878" stroke="#1c1c1c" stroke-width="1" stroke-linejoin="round"/>
<ellipse cx="196.5" cy="836.5" rx="9.7" ry="3.9" fill="#333" stroke="#1c1c1c" stroke-width="1" stroke-linejoin="round"/>
<ellipse cx="222.9" cy="836.5" rx="9.7" ry="3.9" fill="#333" stroke="#1c1c1c" stroke-width="1" stroke-linejoin="round"/>
<path d="M186.3,763.8 L165.2,774.4 L169.6,788.5 L186.3,779.7 Z" fill="#4c94d4" stroke="#1c1c1c" stroke-width="1" stroke-linejoin="round"/>
<path d="M233.0,763.0 L256.7,753.3 L262.0,764.7 L235.6,777.0 Z" fill="#4c94d4" stroke="#1c1c1c" stroke-width="1" stroke-linejoin="round"/>
<path d="M187.2,763.8 Q181.0,781.4 181.9,796.4 L237.3,796.4 Q237.7,781.4 233.0,763.8 Z" fill="#4c94d4" stroke="#1c1c1c" stroke-width="1" stroke-linejoin="round"/>
<path d="M209.5,767.3 V796.4" stroke="#1c1c1c" stroke-width="2.4"/>
<path d="M197.8,765.6 L203.9,772.6 L209.5,767.3 L215.4,772.6 L221.5,765.6 Z" fill="#3c5c9c" stroke="#1c1c1c" stroke-width="1" stroke-linejoin="round"/>
<rect x="189.0" y="775.3" width="12.0" height="4.2" rx="1" fill="#5aa4e4" stroke="#1c1c1c" stroke-width="1" stroke-linejoin="round"/>
<path d="M219.8,774.4 L224.5,773.0 L229.4,774.4 Q229.4,782.3 224.5,784.6 Q219.8,782.3 219.8,774.4 Z" fill="#f8c810" stroke="#1c1c1c" stroke-width="1" stroke-linejoin="round"/>
<rect x="180.7" y="794.6" width="58.1" height="7.4" rx="1.5" fill="#2c2c2c" stroke="#1c1c1c" stroke-width="1" stroke-linejoin="round"/>
<rect x="190.7" y="792.0" width="5.6" height="15.0" rx="2" fill="#2c2c2c" stroke="#1c1c1c" stroke-width="1" stroke-linejoin="round"/>
<rect x="225.0" y="793.7" width="7.4" height="12.3" rx="2" fill="#2c2c2c" stroke="#1c1c1c" stroke-width="1" stroke-linejoin="round"/>
<rect x="237.3" y="789.3" width="3.9" height="15.0" rx="2" fill="#2c2c2c" stroke="#1c1c1c" stroke-width="1" stroke-linejoin="round"/>
<rect x="204.8" y="795.5" width="10.2" height="7.0" fill="#f8c810" stroke="#1c1c1c" stroke-width="1" stroke-linejoin="round"/>
<rect x="207.1" y="797.4" width="5.6" height="3.2" fill="#2c2c2c"/>
<ellipse cx="159.6" cy="781.4" rx="8.1" ry="7.7" fill="#fddcc4" stroke="#1c1c1c" stroke-width="1" stroke-linejoin="round"/>
<path d="M256.7,753.3 L269.9,742.7 Q272.5,743.6 270.8,747.1 L267.3,751.5 Q273.4,755.0 270.8,761.2 Q263.7,766.5 259.3,763.0 Z" fill="#fddcc4" stroke="#1c1c1c" stroke-width="1" stroke-linejoin="round"/>
<circle cx="167.3" cy="739.2" r="5.6" fill="#fddcc4" stroke="#1c1c1c" stroke-width="1" stroke-linejoin="round"/>
<circle cx="252.7" cy="739.2" r="5.6" fill="#fddcc4" stroke="#1c1c1c" stroke-width="1" stroke-linejoin="round"/>
<ellipse cx="210.1" cy="739.2" rx="40.8" ry="26.7" fill="#fddcc4" stroke="#1c1c1c" stroke-width="1" stroke-linejoin="round"/>
<path d="M169.6,714.6 L181.0,714.6 Q174.0,725.1 170.8,739.2 Q167.3,726.9 169.6,714.6 Z" fill="#9c5c44" stroke="#1c1c1c" stroke-width="1" stroke-linejoin="round"/>
<path d="M240.0,714.6 L251.4,714.6 Q253.2,726.9 249.7,739.2 Q247.0,725.1 240.0,714.6 Z" fill="#9c5c44" stroke="#1c1c1c" stroke-width="1" stroke-linejoin="round"/>
<ellipse cx="193.4" cy="734.8" rx="3.5" ry="4.4" fill="#111"/>
<ellipse cx="226.8" cy="734.8" rx="3.5" ry="4.4" fill="#111"/>
<path d="M187.2,726.9 Q192.5,723.4 197.8,726.5 M222.4,726.5 Q227.7,723.4 233.0,726.9 M207.4,737.1 Q210.1,733.0 212.7,737.1 M205.3,746.2 Q208.3,748.9 211.8,745.9" stroke="#111" stroke-width="1" fill="none" stroke-linecap="round"/>
<ellipse cx="186.0" cy="742.4" rx="5.6" ry="3.5" fill="#f4a4a4"/>
<ellipse cx="234.2" cy="742.4" rx="5.6" ry="3.5" fill="#f4a4a4"/>
<path d="M211.3,745.9 L219.8,746.2 Q226.8,748.0 225.9,754.2 Q221.5,759.4 216.2,755.9 Q214.1,751.5 211.3,745.9 Z" fill="#6c98d8" stroke="#1c1c1c" stroke-width="1" stroke-linejoin="round"/>
<path d="M176.1,712.8 Q210.1,729.5 244.0,712.8 Q210.1,704.9 176.1,712.8 Z" fill="#3a3a3a" stroke="#1c1c1c" stroke-width="1" stroke-linejoin="round"/>
<path d="M169.1,706.1 Q210.1,693.4 251.4,706.1 L249.7,713.7 Q210.1,701.4 170.8,713.7 Z" fill="#3c5c9c" stroke="#1c1c1c" stroke-width="1" stroke-linejoin="round"/>
<path d="M169.6,711.0 Q154.6,703.1 162.6,696.1 Q210.1,650.3 257.6,696.1 Q265.5,703.1 251.1,711.0 Q210.1,696.1 169.6,711.0 Z" fill="#3c5c9c" stroke="#1c1c1c" stroke-width="1" stroke-linejoin="round"/>
<path d="M203.9,682.9 Q210.1,684.6 216.2,682.5 Q220.6,693.4 216.2,697.8 Q210.1,701.9 203.9,697.8 Q199.5,693.4 203.9,682.9 Z" fill="#f8c810" stroke="#1c1c1c" stroke-width="1" stroke-linejoin="round"/>
</g>

<!-- 76_stickman.frag -->
<g id="stickman" fill="#000">
<rect x="1506.1" y="576.9" width="3.0" height="126.7"/>
<circle cx="1507.6" cy="557.6" r="19.4" fill="none" stroke="#000" stroke-width="2.8"/>
<polygon points="1493.8,557.6 1507.0,549.8 1507.0,555.3 1520.8,555.3 1520.8,560.2 1507.0,560.2 1507.0,565.5"/>
<circle cx="1464.8" cy="593.3" r="11.8"/>
<path d="M1450.7,608.1 H1474.5 Q1481.5,609.5 1490.3,626.2 L1508.8,628.0 Q1513.2,628.8 1512.8,632.7 Q1511.8,636.7 1507.6,636.4 L1485.0,634.1 L1478.9,620.9 V651.7 L1483.3,698.3 Q1482.9,703.1 1477.1,702.7 Q1471.8,702.7 1471.3,698.3 L1467.4,651.7 H1462.5 L1458.3,698.3 Q1457.8,703.1 1452.5,702.7 Q1446.7,702.7 1446.7,698.3 L1450.7,651.7 Z"/>
<path d="M1451.6,608.1 H1405.8 Q1403.7,608.4 1404.1,610.2 Q1404.4,611.6 1406.7,611.6 H1412.9 Q1413.2,616.2 1416.4,616.5 H1451.6 Z"/>
</g>

<!-- 80_signpost.frag -->
<g id="signpost">
<rect x="466.2" y="533.1" width="16.9" height="175.2" rx="4" fill="#a05828"/>
<path d="M479.4,535.6 V706.2" stroke="#84441c" stroke-width="0.6"/>
<polygon points="453.9,553.7 540.9,551.4 558.0,567.2 542.2,583.9 455.3,586.6" fill="#a04c1c"/>
<polygon points="453.9,552.8 540.9,550.7 557.7,566.5 541.8,581.6 455.3,584.1" fill="#e98131"/>
<path d="M454.8,562.8 Q468.0,561.9 468.0,558.4 M455.6,569.0 Q478.5,565.5 478.5,553.1 M459.2,582.2 Q489.1,577.8 487.3,552.8" stroke="#b85c20" stroke-width="0.7" fill="none"/>
<polygon points="409.9,594.0 497.5,596.8 497.0,630.2 408.1,627.6 392.0,610.1" fill="#a04c1c"/>
<polygon points="409.9,592.9 497.5,595.9 497.0,627.7 408.1,625.1 392.0,609.1" fill="#e98131"/>
<text x="408.1" y="619.6" font-family="Liberation Serif" font-size="25.5" font-weight="bold" stroke="#000" stroke-width="0.7" textLength="78.3" lengthAdjust="spacingAndGlyphs" style="font-family:'Liberation Serif',serif" transform="rotate(1.5 446.8 611.2)">THIS WAY</text>
</g>

<!-- 90_header.frag -->
<g id="header">
<rect x="2.5" y="2.5" width="274" height="235" fill="#dcc1fd" stroke="#000" stroke-width="5"/>
<text x="9.5" y="25" font-size="15.4" font-weight="bold" textLength="29.75" lengthAdjust="spacingAndGlyphs">Key:</text>
<rect x="9.5" y="26.5" width="29.75" height="1.1" fill="#111"/>
<text x="9.5" y="45" font-size="15.4" fill="#111" textLength="165.5" lengthAdjust="spacingAndGlyphs">Warehouse - sender VM</text>
<text x="9.5" y="65" font-size="15.4" fill="#111" textLength="117.5" lengthAdjust="spacingAndGlyphs">City - web server</text>
<text x="9.5" y="85" font-size="15.4" fill="#111" textLength="133.75" lengthAdjust="spacingAndGlyphs">Truck - data packet</text>
<text x="9.5" y="105" font-size="15.4" fill="#111" textLength="160.0" lengthAdjust="spacingAndGlyphs">Gas Station/Packages -</text>
<text x="9.5" y="125" font-size="15.4" fill="#111" textLength="160.0" lengthAdjust="spacingAndGlyphs">encryption/decryption</text>
<text x="9.5" y="145" font-size="15.4" fill="#111" textLength="252.25" lengthAdjust="spacingAndGlyphs">Traffic Lights - session maintenance</text>
<text x="9.5" y="165" font-size="15.4" fill="#111" textLength="247.5" lengthAdjust="spacingAndGlyphs">GPS/Maps - transmission protocols</text>
<text x="9.5" y="185" font-size="15.4" fill="#111" textLength="211.5" lengthAdjust="spacingAndGlyphs">Traffic Signs - network routing</text>
<text x="9.5" y="205" font-size="15.4" fill="#111" textLength="255.0" lengthAdjust="spacingAndGlyphs">Traffic Cops - flow control protocols</text>
<text x="9.5" y="225" font-size="15.4" fill="#111" textLength="242.5" lengthAdjust="spacingAndGlyphs">Tunnel - physical pathway for data</text>
<rect x="491.8" y="7.2" width="937" height="84" fill="#b0b0fe" stroke="#000" stroke-width="4.6"/>
<text x="519" y="66.4" font-size="44.7" font-weight="bold" textLength="882" lengthAdjust="spacingAndGlyphs">Connor Cruz’s Information Superhighway</text>
<rect x="519" y="68.9" width="882" height="3.8" fill="#000"/>
<text x="297" y="66" font-size="46" font-weight="bold" textLength="156" lengthAdjust="spacingAndGlyphs">Sender</text>
<text x="1457" y="66" font-size="45.6" font-weight="bold" textLength="190" lengthAdjust="spacingAndGlyphs">Receiver</text>
</g>


</svg>
</body></html>
